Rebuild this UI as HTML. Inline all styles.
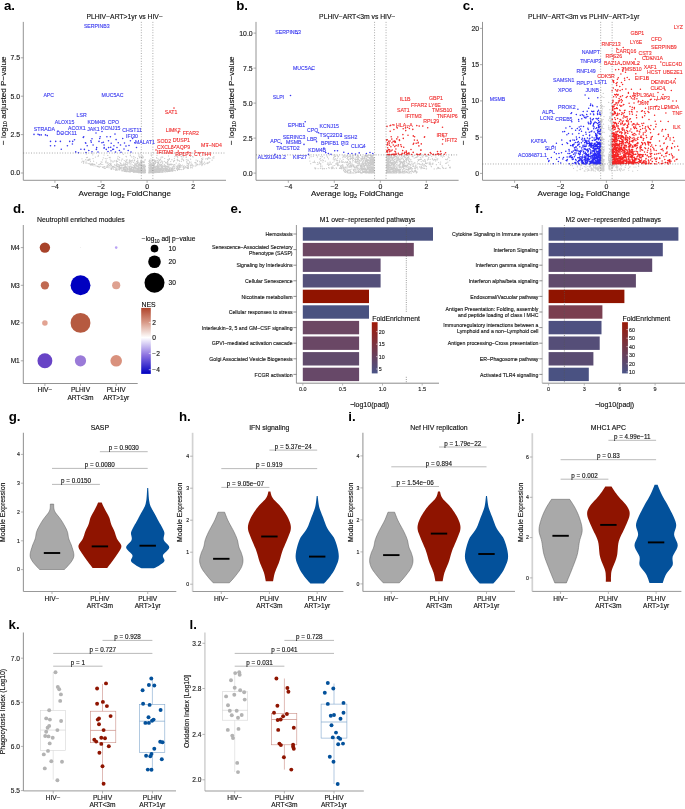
<!DOCTYPE html>
<html><head><meta charset="utf-8"><style>
html,body{margin:0;padding:0;background:#fff;overflow:hidden;}
svg{display:block;will-change:transform;}
text{font-family:"Liberation Sans", sans-serif;}
</style></head><body>
<svg width="685" height="809" viewBox="0 0 685 809">
<rect width="685" height="809" fill="#fff"/>
<text x="8.70" y="420.70" font-size="13.3" text-anchor="start" fill="#000" font-weight="bold" >g.</text>
<line x1="23.40" y1="432.80" x2="23.40" y2="591.50" stroke="#999" stroke-width="1.1" />
<line x1="23.40" y1="591.50" x2="176.30" y2="591.50" stroke="#999" stroke-width="1.0" />
<line x1="20.90" y1="569.60" x2="23.40" y2="569.60" stroke="#999" stroke-width="0.7" />
<text x="19.90" y="571.40" font-size="5.2" text-anchor="end" fill="#222" font-weight="normal"  stroke="#222" stroke-width="0.14">0</text>
<line x1="20.90" y1="540.80" x2="23.40" y2="540.80" stroke="#999" stroke-width="0.7" />
<text x="19.90" y="542.60" font-size="5.2" text-anchor="end" fill="#222" font-weight="normal"  stroke="#222" stroke-width="0.14">1</text>
<line x1="20.90" y1="512.00" x2="23.40" y2="512.00" stroke="#999" stroke-width="0.7" />
<text x="19.90" y="513.80" font-size="5.2" text-anchor="end" fill="#222" font-weight="normal"  stroke="#222" stroke-width="0.14">2</text>
<line x1="20.90" y1="483.20" x2="23.40" y2="483.20" stroke="#999" stroke-width="0.7" />
<text x="19.90" y="485.00" font-size="5.2" text-anchor="end" fill="#222" font-weight="normal"  stroke="#222" stroke-width="0.14">3</text>
<line x1="20.90" y1="454.40" x2="23.40" y2="454.40" stroke="#999" stroke-width="0.7" />
<text x="19.90" y="456.20" font-size="5.2" text-anchor="end" fill="#222" font-weight="normal"  stroke="#222" stroke-width="0.14">4</text>
<line x1="52.00" y1="591.50" x2="52.00" y2="594.00" stroke="#999" stroke-width="0.7" />
<line x1="99.90" y1="591.50" x2="99.90" y2="594.00" stroke="#999" stroke-width="0.7" />
<line x1="147.70" y1="591.50" x2="147.70" y2="594.00" stroke="#999" stroke-width="0.7" />
<text x="52.00" y="600.50" font-size="6.6" text-anchor="middle" fill="#111" font-weight="normal"  stroke="#111" stroke-width="0.14">HIV−</text>
<text x="99.90" y="601.00" font-size="6.6" text-anchor="middle" fill="#111" font-weight="normal"  stroke="#111" stroke-width="0.14">PLHIV</text>
<text x="99.90" y="608.30" font-size="6.6" text-anchor="middle" fill="#111" font-weight="normal"  stroke="#111" stroke-width="0.14">ART&lt;3m</text>
<text x="147.70" y="601.00" font-size="6.6" text-anchor="middle" fill="#111" font-weight="normal"  stroke="#111" stroke-width="0.14">PLHIV</text>
<text x="147.70" y="608.30" font-size="6.6" text-anchor="middle" fill="#111" font-weight="normal"  stroke="#111" stroke-width="0.14">ART&gt;1yr</text>
<text x="0" y="0" font-size="7" text-anchor="middle" fill="#111" stroke="#111" stroke-width="0.14" transform="translate(5.20,512.3) rotate(-90)">Module Expression</text>
<text x="99.85" y="430.00" font-size="6.9" text-anchor="middle" fill="#111" font-weight="normal"  stroke="#111" stroke-width="0.14">SASP</text>
<line x1="52.00" y1="484.40" x2="99.90" y2="484.40" stroke="#808080" stroke-width="0.55" />
<text x="75.95" y="483.10" font-size="6.3" text-anchor="middle" fill="#111" font-weight="normal"  stroke="#111" stroke-width="0.14">p = 0.0150</text>
<line x1="52.00" y1="468.40" x2="147.70" y2="468.40" stroke="#808080" stroke-width="0.55" />
<text x="99.85" y="467.10" font-size="6.3" text-anchor="middle" fill="#111" font-weight="normal"  stroke="#111" stroke-width="0.14">p = 0.0080</text>
<line x1="99.90" y1="451.70" x2="147.70" y2="451.70" stroke="#808080" stroke-width="0.55" />
<text x="123.80" y="450.40" font-size="6.3" text-anchor="middle" fill="#111" font-weight="normal"  stroke="#111" stroke-width="0.14">p = 0.9030</text>
<path d="M53.70,504.10 L53.71,504.58 L53.70,505.26 L53.71,506.05 L53.73,506.90 L53.79,507.74 L53.90,508.50 L54.04,509.17 L54.19,509.79 L54.37,510.41 L54.62,511.04 L54.96,511.73 L55.40,512.50 L56.00,513.37 L56.74,514.33 L57.56,515.34 L58.42,516.37 L59.25,517.40 L60.00,518.40 L60.67,519.36 L61.30,520.29 L61.91,521.21 L62.51,522.16 L63.10,523.15 L63.70,524.20 L64.33,525.33 L64.99,526.52 L65.64,527.76 L66.26,529.01 L66.82,530.27 L67.30,531.50 L67.66,532.72 L67.90,533.93 L68.09,535.15 L68.27,536.37 L68.49,537.58 L68.80,538.80 L69.21,540.00 L69.69,541.18 L70.21,542.36 L70.73,543.56 L71.24,544.80 L71.70,546.10 L72.15,547.51 L72.64,549.03 L73.10,550.59 L73.50,552.13 L73.78,553.59 L73.90,554.90 L73.85,556.04 L73.67,557.06 L73.38,557.99 L72.99,558.88 L72.53,559.77 L72.00,560.70 L71.36,561.70 L70.57,562.74 L69.71,563.78 L68.84,564.77 L68.01,565.70 L67.30,566.50 L66.68,567.20 L66.09,567.82 L65.56,568.36 L65.09,568.83 L64.69,569.21 L64.40,569.50 L39.60,569.50 L39.31,569.21 L38.91,568.83 L38.44,568.36 L37.91,567.82 L37.32,567.20 L36.70,566.50 L35.99,565.70 L35.16,564.77 L34.29,563.77 L33.43,562.74 L32.64,561.70 L32.00,560.70 L31.47,559.77 L31.01,558.88 L30.62,557.99 L30.33,557.06 L30.15,556.04 L30.10,554.90 L30.22,553.59 L30.50,552.13 L30.90,550.59 L31.36,549.03 L31.85,547.51 L32.30,546.10 L32.76,544.80 L33.27,543.56 L33.79,542.36 L34.31,541.18 L34.79,540.00 L35.20,538.80 L35.51,537.58 L35.73,536.37 L35.91,535.15 L36.10,533.93 L36.34,532.72 L36.70,531.50 L37.18,530.27 L37.74,529.01 L38.36,527.76 L39.01,526.52 L39.67,525.33 L40.30,524.20 L40.90,523.15 L41.49,522.16 L42.09,521.21 L42.70,520.29 L43.33,519.36 L44.00,518.40 L44.75,517.40 L45.58,516.37 L46.44,515.34 L47.26,514.33 L48.00,513.37 L48.60,512.50 L49.04,511.73 L49.38,511.04 L49.62,510.41 L49.81,509.79 L49.96,509.17 L50.10,508.50 L50.21,507.74 L50.27,506.90 L50.29,506.05 L50.30,505.26 L50.29,504.58 L50.30,504.10 Z" fill="#a9a9a9" stroke="#5a5a5a" stroke-width="0.5"/>
<path d="M101.70,502.60 L102.05,503.36 L102.53,504.40 L103.10,505.64 L103.73,506.99 L104.37,508.33 L105.00,509.60 L105.65,510.80 L106.35,512.01 L107.07,513.23 L107.77,514.46 L108.43,515.68 L109.00,516.90 L109.46,518.12 L109.83,519.33 L110.14,520.55 L110.45,521.77 L110.79,522.98 L111.20,524.20 L111.70,525.42 L112.25,526.63 L112.83,527.85 L113.42,529.07 L113.98,530.28 L114.50,531.50 L114.94,532.72 L115.32,533.93 L115.68,535.15 L116.06,536.37 L116.48,537.58 L117.00,538.80 L117.72,540.02 L118.62,541.23 L119.58,542.45 L120.46,543.67 L121.11,544.88 L121.40,546.10 L121.28,547.32 L120.85,548.53 L120.19,549.75 L119.41,550.97 L118.58,552.18 L117.80,553.40 L117.04,554.62 L116.23,555.83 L115.37,557.05 L114.49,558.27 L113.59,559.48 L112.70,560.70 L111.74,562.00 L110.69,563.40 L109.63,564.81 L108.64,566.11 L107.80,567.21 L107.20,568.00 L92.60,568.00 L92.00,567.21 L91.16,566.11 L90.17,564.81 L89.11,563.40 L88.06,562.00 L87.10,560.70 L86.21,559.48 L85.31,558.27 L84.43,557.05 L83.57,555.83 L82.76,554.62 L82.00,553.40 L81.22,552.18 L80.39,550.97 L79.61,549.75 L78.95,548.53 L78.52,547.32 L78.40,546.10 L78.69,544.88 L79.34,543.67 L80.22,542.45 L81.18,541.23 L82.08,540.02 L82.80,538.80 L83.32,537.58 L83.74,536.37 L84.12,535.15 L84.48,533.93 L84.86,532.72 L85.30,531.50 L85.82,530.28 L86.38,529.07 L86.97,527.85 L87.55,526.63 L88.10,525.42 L88.60,524.20 L89.01,522.98 L89.35,521.77 L89.66,520.55 L89.97,519.33 L90.34,518.12 L90.80,516.90 L91.37,515.68 L92.03,514.46 L92.73,513.23 L93.45,512.01 L94.15,510.80 L94.80,509.60 L95.43,508.33 L96.07,506.99 L96.70,505.64 L97.27,504.40 L97.75,503.36 L98.10,502.60 Z" fill="#8f1400" stroke="none" stroke-width="0.5"/>
<path d="M148.20,488.00 L148.26,489.10 L148.35,490.66 L148.46,492.49 L148.57,494.39 L148.69,496.16 L148.80,497.60 L148.91,498.71 L149.02,499.64 L149.13,500.44 L149.25,501.16 L149.37,501.83 L149.50,502.50 L149.63,503.14 L149.75,503.71 L149.88,504.23 L150.03,504.74 L150.20,505.25 L150.40,505.80 L150.65,506.38 L150.93,506.98 L151.23,507.59 L151.55,508.20 L151.88,508.80 L152.20,509.40 L152.52,509.99 L152.86,510.57 L153.19,511.16 L153.53,511.74 L153.87,512.32 L154.20,512.90 L154.52,513.48 L154.84,514.07 L155.16,514.65 L155.48,515.23 L155.79,515.82 L156.10,516.40 L156.40,516.98 L156.70,517.56 L156.99,518.14 L157.29,518.73 L157.59,519.31 L157.90,519.90 L158.22,520.50 L158.55,521.10 L158.89,521.70 L159.23,522.30 L159.56,522.90 L159.90,523.50 L160.23,524.06 L160.55,524.59 L160.87,525.11 L161.20,525.67 L161.54,526.28 L161.90,527.00 L162.32,527.82 L162.81,528.71 L163.31,529.68 L163.78,530.69 L164.16,531.73 L164.40,532.80 L164.41,533.90 L164.20,535.05 L163.91,536.24 L163.66,537.45 L163.58,538.67 L163.80,539.90 L164.50,541.14 L165.62,542.40 L166.91,543.67 L168.11,544.95 L169.00,546.23 L169.30,547.50 L168.84,548.79 L167.79,550.10 L166.41,551.41 L164.97,552.69 L163.74,553.93 L163.00,555.10 L162.87,556.20 L163.15,557.24 L163.65,558.23 L164.16,559.19 L164.48,560.11 L164.40,561.00 L163.88,561.88 L163.06,562.73 L162.05,563.56 L160.95,564.33 L159.87,565.05 L158.90,565.70 L157.98,566.28 L157.01,566.82 L156.06,567.29 L155.18,567.70 L154.44,568.04 L153.90,568.30 L141.50,568.30 L140.96,568.04 L140.22,567.70 L139.34,567.29 L138.39,566.82 L137.42,566.28 L136.50,565.70 L135.53,565.05 L134.45,564.33 L133.35,563.56 L132.34,562.73 L131.52,561.88 L131.00,561.00 L130.92,560.11 L131.24,559.19 L131.75,558.23 L132.25,557.24 L132.53,556.20 L132.40,555.10 L131.66,553.93 L130.43,552.69 L128.99,551.41 L127.61,550.10 L126.56,548.79 L126.10,547.50 L126.40,546.23 L127.29,544.95 L128.49,543.67 L129.78,542.40 L130.90,541.14 L131.60,539.90 L131.82,538.67 L131.74,537.45 L131.49,536.24 L131.20,535.05 L130.99,533.90 L131.00,532.80 L131.24,531.73 L131.62,530.69 L132.09,529.67 L132.59,528.71 L133.08,527.82 L133.50,527.00 L133.86,526.28 L134.20,525.67 L134.53,525.11 L134.85,524.59 L135.17,524.06 L135.50,523.50 L135.84,522.90 L136.17,522.30 L136.51,521.70 L136.85,521.10 L137.18,520.50 L137.50,519.90 L137.81,519.31 L138.11,518.73 L138.41,518.14 L138.70,517.56 L139.00,516.98 L139.30,516.40 L139.61,515.82 L139.92,515.23 L140.24,514.65 L140.56,514.07 L140.88,513.48 L141.20,512.90 L141.53,512.32 L141.87,511.74 L142.21,511.16 L142.54,510.57 L142.88,509.99 L143.20,509.40 L143.52,508.80 L143.85,508.20 L144.17,507.59 L144.47,506.98 L144.75,506.38 L145.00,505.80 L145.20,505.25 L145.37,504.74 L145.52,504.23 L145.65,503.71 L145.77,503.14 L145.90,502.50 L146.03,501.83 L146.15,501.16 L146.27,500.44 L146.38,499.64 L146.49,498.71 L146.60,497.60 L146.71,496.16 L146.83,494.39 L146.94,492.49 L147.05,490.66 L147.14,489.10 L147.20,488.00 Z" fill="#03519b" stroke="none" stroke-width="0.5"/>
<line x1="43.80" y1="553.00" x2="60.20" y2="553.00" stroke="#000" stroke-width="1.9" />
<line x1="91.70" y1="546.40" x2="108.10" y2="546.40" stroke="#000" stroke-width="1.9" />
<line x1="139.50" y1="545.70" x2="155.90" y2="545.70" stroke="#000" stroke-width="1.9" />
<text x="179.00" y="420.70" font-size="13.3" text-anchor="start" fill="#000" font-weight="bold" >h.</text>
<line x1="192.60" y1="432.80" x2="192.60" y2="591.50" stroke="#d2d2d2" stroke-width="1.7" />
<line x1="192.60" y1="591.50" x2="343.40" y2="591.50" stroke="#999" stroke-width="1.0" />
<line x1="190.10" y1="584.20" x2="192.60" y2="584.20" stroke="#999" stroke-width="0.7" />
<text x="189.10" y="586.00" font-size="5.2" text-anchor="end" fill="#222" font-weight="normal"  stroke="#222" stroke-width="0.14">0</text>
<line x1="190.10" y1="552.20" x2="192.60" y2="552.20" stroke="#999" stroke-width="0.7" />
<text x="189.10" y="554.00" font-size="5.2" text-anchor="end" fill="#222" font-weight="normal"  stroke="#222" stroke-width="0.14">1</text>
<line x1="190.10" y1="520.20" x2="192.60" y2="520.20" stroke="#999" stroke-width="0.7" />
<text x="189.10" y="522.00" font-size="5.2" text-anchor="end" fill="#222" font-weight="normal"  stroke="#222" stroke-width="0.14">2</text>
<line x1="190.10" y1="488.20" x2="192.60" y2="488.20" stroke="#999" stroke-width="0.7" />
<text x="189.10" y="490.00" font-size="5.2" text-anchor="end" fill="#222" font-weight="normal"  stroke="#222" stroke-width="0.14">3</text>
<line x1="190.10" y1="456.20" x2="192.60" y2="456.20" stroke="#999" stroke-width="0.7" />
<text x="189.10" y="458.00" font-size="5.2" text-anchor="end" fill="#222" font-weight="normal"  stroke="#222" stroke-width="0.14">4</text>
<line x1="221.30" y1="591.50" x2="221.30" y2="594.00" stroke="#999" stroke-width="0.7" />
<line x1="269.40" y1="591.50" x2="269.40" y2="594.00" stroke="#999" stroke-width="0.7" />
<line x1="317.20" y1="591.50" x2="317.20" y2="594.00" stroke="#999" stroke-width="0.7" />
<text x="221.30" y="600.50" font-size="6.6" text-anchor="middle" fill="#111" font-weight="normal"  stroke="#111" stroke-width="0.14">HIV−</text>
<text x="269.40" y="601.00" font-size="6.6" text-anchor="middle" fill="#111" font-weight="normal"  stroke="#111" stroke-width="0.14">PLHIV</text>
<text x="269.40" y="608.30" font-size="6.6" text-anchor="middle" fill="#111" font-weight="normal"  stroke="#111" stroke-width="0.14">ART&lt;3m</text>
<text x="317.20" y="601.00" font-size="6.6" text-anchor="middle" fill="#111" font-weight="normal"  stroke="#111" stroke-width="0.14">PLHIV</text>
<text x="317.20" y="608.30" font-size="6.6" text-anchor="middle" fill="#111" font-weight="normal"  stroke="#111" stroke-width="0.14">ART&gt;1yr</text>
<text x="0" y="0" font-size="7" text-anchor="middle" fill="#111" stroke="#111" stroke-width="0.14" transform="translate(182.10,512.3) rotate(-90)">Module Expression</text>
<text x="269.25" y="430.00" font-size="6.9" text-anchor="middle" fill="#111" font-weight="normal"  stroke="#111" stroke-width="0.14">IFN signaling</text>
<line x1="221.30" y1="487.40" x2="269.40" y2="487.40" stroke="#808080" stroke-width="0.55" />
<text x="245.35" y="486.10" font-size="6.3" text-anchor="middle" fill="#111" font-weight="normal"  stroke="#111" stroke-width="0.14">p = 9.05e−07</text>
<line x1="221.30" y1="468.60" x2="317.20" y2="468.60" stroke="#808080" stroke-width="0.55" />
<text x="269.25" y="467.30" font-size="6.3" text-anchor="middle" fill="#111" font-weight="normal"  stroke="#111" stroke-width="0.14">p = 0.919</text>
<line x1="269.40" y1="450.10" x2="317.20" y2="450.10" stroke="#808080" stroke-width="0.55" />
<text x="293.30" y="448.80" font-size="6.3" text-anchor="middle" fill="#111" font-weight="normal"  stroke="#111" stroke-width="0.14">p = 5.37e−24</text>
<path d="M224.60,512.20 L224.96,513.11 L225.43,514.36 L226.00,515.84 L226.65,517.47 L227.35,519.16 L228.10,520.80 L228.93,522.46 L229.89,524.24 L230.89,526.06 L231.90,527.89 L232.86,529.65 L233.70,531.30 L234.44,532.83 L235.12,534.29 L235.75,535.69 L236.32,537.05 L236.84,538.38 L237.30,539.70 L237.67,541.00 L237.94,542.28 L238.16,543.53 L238.37,544.75 L238.60,545.94 L238.90,547.10 L239.29,548.20 L239.73,549.24 L240.21,550.26 L240.68,551.27 L241.12,552.30 L241.50,553.40 L241.85,554.56 L242.21,555.76 L242.54,556.98 L242.80,558.22 L242.97,559.47 L243.00,560.70 L242.92,561.92 L242.74,563.12 L242.47,564.33 L242.09,565.56 L241.61,566.81 L241.00,568.10 L240.23,569.47 L239.28,570.90 L238.22,572.37 L237.12,573.82 L236.02,575.21 L235.00,576.50 L233.98,577.74 L232.90,578.99 L231.82,580.17 L230.84,581.24 L230.00,582.14 L229.40,582.80 L213.20,582.80 L212.60,582.14 L211.76,581.24 L210.78,580.17 L209.70,578.99 L208.62,577.74 L207.60,576.50 L206.58,575.21 L205.48,573.82 L204.38,572.37 L203.32,570.90 L202.37,569.47 L201.60,568.10 L200.99,566.81 L200.51,565.56 L200.13,564.33 L199.86,563.12 L199.68,561.92 L199.60,560.70 L199.63,559.47 L199.80,558.22 L200.06,556.98 L200.39,555.76 L200.75,554.56 L201.10,553.40 L201.48,552.30 L201.92,551.27 L202.39,550.26 L202.87,549.24 L203.31,548.20 L203.70,547.10 L204.00,545.94 L204.23,544.75 L204.44,543.53 L204.66,542.28 L204.93,541.00 L205.30,539.70 L205.76,538.38 L206.28,537.05 L206.85,535.69 L207.48,534.29 L208.16,532.83 L208.90,531.30 L209.74,529.65 L210.70,527.89 L211.71,526.06 L212.71,524.24 L213.67,522.46 L214.50,520.80 L215.25,519.16 L215.95,517.47 L216.60,515.84 L217.17,514.36 L217.64,513.11 L218.00,512.20 Z" fill="#a9a9a9" stroke="#5a5a5a" stroke-width="0.5"/>
<path d="M270.40,491.60 L270.58,492.28 L270.78,493.20 L271.04,494.30 L271.41,495.52 L271.95,496.81 L272.70,498.10 L273.74,499.41 L275.04,500.79 L276.50,502.23 L278.03,503.73 L279.53,505.29 L280.90,506.90 L282.20,508.61 L283.50,510.41 L284.78,512.28 L285.99,514.16 L287.07,516.02 L288.00,517.80 L288.79,519.51 L289.49,521.17 L290.07,522.81 L290.52,524.44 L290.80,526.06 L290.90,527.70 L290.78,529.31 L290.46,530.88 L289.97,532.45 L289.37,534.06 L288.70,535.76 L288.00,537.60 L287.21,539.62 L286.27,541.81 L285.27,544.09 L284.26,546.38 L283.31,548.61 L282.50,550.70 L281.85,552.64 L281.31,554.49 L280.83,556.28 L280.37,558.04 L279.88,559.80 L279.30,561.60 L278.61,563.45 L277.83,565.34 L277.02,567.24 L276.23,569.10 L275.50,570.90 L274.90,572.60 L274.42,574.28 L274.01,575.99 L273.67,577.64 L273.40,579.13 L273.18,580.38 L273.00,581.30 L265.80,581.30 L265.62,580.38 L265.40,579.13 L265.12,577.64 L264.79,575.99 L264.38,574.28 L263.90,572.60 L263.30,570.90 L262.57,569.10 L261.78,567.24 L260.97,565.34 L260.19,563.45 L259.50,561.60 L258.92,559.80 L258.43,558.04 L257.97,556.28 L257.49,554.49 L256.95,552.64 L256.30,550.70 L255.49,548.61 L254.54,546.38 L253.53,544.09 L252.53,541.81 L251.59,539.62 L250.80,537.60 L250.10,535.76 L249.43,534.06 L248.82,532.45 L248.34,530.88 L248.02,529.31 L247.90,527.70 L248.00,526.06 L248.28,524.44 L248.72,522.81 L249.31,521.17 L250.01,519.51 L250.80,517.80 L251.73,516.02 L252.81,514.16 L254.02,512.28 L255.30,510.41 L256.60,508.61 L257.90,506.90 L259.27,505.29 L260.77,503.73 L262.30,502.23 L263.76,500.79 L265.06,499.41 L266.10,498.10 L266.85,496.81 L267.39,495.52 L267.76,494.30 L268.02,493.20 L268.22,492.28 L268.40,491.60 Z" fill="#8f1400" stroke="none" stroke-width="0.5"/>
<path d="M317.70,496.00 L317.83,497.19 L318.00,498.83 L318.20,500.77 L318.46,502.86 L318.79,504.96 L319.20,506.90 L319.72,508.72 L320.33,510.53 L321.02,512.34 L321.74,514.16 L322.48,515.98 L323.20,517.80 L323.88,519.63 L324.53,521.46 L325.19,523.30 L325.90,525.14 L326.69,526.97 L327.60,528.80 L328.69,530.56 L329.94,532.23 L331.28,533.91 L332.61,535.66 L333.85,537.56 L334.90,539.70 L335.83,542.18 L336.73,544.95 L337.53,547.88 L338.18,550.83 L338.62,553.65 L338.80,556.20 L338.66,558.50 L338.23,560.65 L337.59,562.68 L336.82,564.60 L336.00,566.44 L335.20,568.20 L334.40,569.88 L333.51,571.46 L332.58,572.94 L331.62,574.36 L330.65,575.70 L329.70,577.00 L328.70,578.29 L327.60,579.58 L326.51,580.80 L325.49,581.90 L324.62,582.82 L324.00,583.50 L310.40,583.50 L309.78,582.82 L308.91,581.90 L307.89,580.80 L306.80,579.58 L305.70,578.29 L304.70,577.00 L303.75,575.70 L302.78,574.36 L301.82,572.94 L300.89,571.46 L300.00,569.88 L299.20,568.20 L298.40,566.44 L297.58,564.60 L296.81,562.68 L296.17,560.65 L295.74,558.50 L295.60,556.20 L295.78,553.65 L296.22,550.83 L296.87,547.88 L297.67,544.95 L298.57,542.18 L299.50,539.70 L300.55,537.56 L301.79,535.66 L303.12,533.91 L304.46,532.23 L305.71,530.56 L306.80,528.80 L307.71,526.97 L308.50,525.14 L309.21,523.30 L309.87,521.46 L310.52,519.63 L311.20,517.80 L311.92,515.98 L312.66,514.16 L313.38,512.34 L314.07,510.53 L314.68,508.72 L315.20,506.90 L315.61,504.96 L315.94,502.86 L316.20,500.77 L316.40,498.83 L316.57,497.19 L316.70,496.00 Z" fill="#03519b" stroke="none" stroke-width="0.5"/>
<line x1="213.10" y1="558.80" x2="229.50" y2="558.80" stroke="#000" stroke-width="1.9" />
<line x1="261.20" y1="536.50" x2="277.60" y2="536.50" stroke="#000" stroke-width="1.9" />
<line x1="309.00" y1="556.60" x2="325.40" y2="556.60" stroke="#000" stroke-width="1.9" />
<text x="348.30" y="420.70" font-size="13.3" text-anchor="start" fill="#000" font-weight="bold" >i.</text>
<line x1="362.90" y1="432.80" x2="362.90" y2="591.40" stroke="#999" stroke-width="1.1" />
<line x1="362.90" y1="591.40" x2="515.00" y2="591.40" stroke="#999" stroke-width="1.0" />
<line x1="360.40" y1="583.90" x2="362.90" y2="583.90" stroke="#999" stroke-width="0.7" />
<text x="359.40" y="585.70" font-size="5.2" text-anchor="end" fill="#222" font-weight="normal"  stroke="#222" stroke-width="0.14">0</text>
<line x1="360.40" y1="551.90" x2="362.90" y2="551.90" stroke="#999" stroke-width="0.7" />
<text x="359.40" y="553.70" font-size="5.2" text-anchor="end" fill="#222" font-weight="normal"  stroke="#222" stroke-width="0.14">1</text>
<line x1="360.40" y1="519.90" x2="362.90" y2="519.90" stroke="#999" stroke-width="0.7" />
<text x="359.40" y="521.70" font-size="5.2" text-anchor="end" fill="#222" font-weight="normal"  stroke="#222" stroke-width="0.14">2</text>
<line x1="360.40" y1="487.90" x2="362.90" y2="487.90" stroke="#999" stroke-width="0.7" />
<text x="359.40" y="489.70" font-size="5.2" text-anchor="end" fill="#222" font-weight="normal"  stroke="#222" stroke-width="0.14">3</text>
<line x1="360.40" y1="455.90" x2="362.90" y2="455.90" stroke="#999" stroke-width="0.7" />
<text x="359.40" y="457.70" font-size="5.2" text-anchor="end" fill="#222" font-weight="normal"  stroke="#222" stroke-width="0.14">4</text>
<line x1="391.30" y1="591.40" x2="391.30" y2="593.90" stroke="#999" stroke-width="0.7" />
<line x1="439.00" y1="591.40" x2="439.00" y2="593.90" stroke="#999" stroke-width="0.7" />
<line x1="486.50" y1="591.40" x2="486.50" y2="593.90" stroke="#999" stroke-width="0.7" />
<text x="391.30" y="600.50" font-size="6.6" text-anchor="middle" fill="#111" font-weight="normal"  stroke="#111" stroke-width="0.14">HIV−</text>
<text x="439.00" y="601.00" font-size="6.6" text-anchor="middle" fill="#111" font-weight="normal"  stroke="#111" stroke-width="0.14">PLHIV</text>
<text x="439.00" y="608.30" font-size="6.6" text-anchor="middle" fill="#111" font-weight="normal"  stroke="#111" stroke-width="0.14">ART&lt;3m</text>
<text x="486.50" y="601.00" font-size="6.6" text-anchor="middle" fill="#111" font-weight="normal"  stroke="#111" stroke-width="0.14">PLHIV</text>
<text x="486.50" y="608.30" font-size="6.6" text-anchor="middle" fill="#111" font-weight="normal"  stroke="#111" stroke-width="0.14">ART&gt;1yr</text>
<text x="0" y="0" font-size="7" text-anchor="middle" fill="#111" stroke="#111" stroke-width="0.14" transform="translate(353.00,512.3) rotate(-90)">Module Expression</text>
<text x="438.90" y="430.00" font-size="6.9" text-anchor="middle" fill="#111" font-weight="normal"  stroke="#111" stroke-width="0.14">Nef HIV replication</text>
<line x1="391.30" y1="486.50" x2="439.00" y2="486.50" stroke="#808080" stroke-width="0.55" />
<text x="415.15" y="485.20" font-size="6.3" text-anchor="middle" fill="#111" font-weight="normal"  stroke="#111" stroke-width="0.14">p = 1.54e−06</text>
<line x1="391.30" y1="466.80" x2="486.50" y2="466.80" stroke="#808080" stroke-width="0.55" />
<text x="438.90" y="465.50" font-size="6.3" text-anchor="middle" fill="#111" font-weight="normal"  stroke="#111" stroke-width="0.14">p = 0.894</text>
<line x1="439.00" y1="447.00" x2="486.50" y2="447.00" stroke="#808080" stroke-width="0.55" />
<text x="462.75" y="445.70" font-size="6.3" text-anchor="middle" fill="#111" font-weight="normal"  stroke="#111" stroke-width="0.14">p = 1.79e−22</text>
<path d="M394.60,512.20 L394.96,513.11 L395.43,514.36 L396.00,515.84 L396.65,517.47 L397.35,519.16 L398.10,520.80 L398.93,522.46 L399.89,524.24 L400.89,526.06 L401.90,527.89 L402.86,529.65 L403.70,531.30 L404.44,532.83 L405.12,534.29 L405.75,535.69 L406.32,537.05 L406.84,538.38 L407.30,539.70 L407.67,541.00 L407.94,542.28 L408.16,543.53 L408.37,544.75 L408.60,545.94 L408.90,547.10 L409.29,548.20 L409.73,549.24 L410.21,550.26 L410.68,551.27 L411.12,552.30 L411.50,553.40 L411.85,554.56 L412.21,555.76 L412.54,556.98 L412.80,558.22 L412.97,559.47 L413.00,560.70 L412.92,561.92 L412.74,563.12 L412.47,564.33 L412.09,565.56 L411.61,566.81 L411.00,568.10 L410.23,569.47 L409.28,570.90 L408.22,572.37 L407.12,573.82 L406.02,575.21 L405.00,576.50 L403.98,577.74 L402.90,578.99 L401.83,580.17 L400.84,581.24 L400.00,582.14 L399.40,582.80 L383.20,582.80 L382.60,582.14 L381.76,581.24 L380.78,580.17 L379.70,578.99 L378.62,577.74 L377.60,576.50 L376.58,575.21 L375.48,573.82 L374.38,572.37 L373.32,570.90 L372.37,569.47 L371.60,568.10 L370.99,566.81 L370.51,565.56 L370.13,564.33 L369.86,563.12 L369.68,561.92 L369.60,560.70 L369.63,559.47 L369.80,558.22 L370.06,556.98 L370.39,555.76 L370.75,554.56 L371.10,553.40 L371.48,552.30 L371.92,551.27 L372.39,550.26 L372.87,549.24 L373.31,548.20 L373.70,547.10 L374.00,545.94 L374.23,544.75 L374.44,543.53 L374.66,542.28 L374.93,541.00 L375.30,539.70 L375.76,538.38 L376.28,537.05 L376.85,535.69 L377.48,534.29 L378.16,532.83 L378.90,531.30 L379.74,529.65 L380.70,527.89 L381.71,526.06 L382.71,524.24 L383.67,522.46 L384.50,520.80 L385.25,519.16 L385.95,517.47 L386.60,515.84 L387.17,514.36 L387.64,513.11 L388.00,512.20 Z" fill="#a9a9a9" stroke="#5a5a5a" stroke-width="0.5"/>
<path d="M440.00,491.60 L440.18,492.28 L440.38,493.20 L440.64,494.30 L441.01,495.52 L441.55,496.81 L442.30,498.10 L443.34,499.41 L444.64,500.79 L446.10,502.23 L447.63,503.73 L449.13,505.29 L450.50,506.90 L451.80,508.61 L453.10,510.41 L454.38,512.28 L455.59,514.16 L456.67,516.02 L457.60,517.80 L458.39,519.51 L459.09,521.17 L459.68,522.81 L460.12,524.44 L460.40,526.06 L460.50,527.70 L460.38,529.31 L460.06,530.88 L459.57,532.45 L458.97,534.06 L458.30,535.76 L457.60,537.60 L456.81,539.62 L455.87,541.81 L454.87,544.09 L453.86,546.38 L452.91,548.61 L452.10,550.70 L451.45,552.64 L450.91,554.49 L450.43,556.28 L449.97,558.04 L449.48,559.80 L448.90,561.60 L448.21,563.45 L447.43,565.34 L446.62,567.24 L445.83,569.10 L445.10,570.90 L444.50,572.60 L444.02,574.28 L443.61,575.99 L443.27,577.64 L443.00,579.13 L442.78,580.38 L442.60,581.30 L435.40,581.30 L435.22,580.38 L435.00,579.13 L434.72,577.64 L434.39,575.99 L433.98,574.28 L433.50,572.60 L432.90,570.90 L432.17,569.10 L431.38,567.24 L430.57,565.34 L429.79,563.45 L429.10,561.60 L428.52,559.80 L428.03,558.04 L427.57,556.28 L427.09,554.49 L426.55,552.64 L425.90,550.70 L425.09,548.61 L424.14,546.38 L423.13,544.09 L422.13,541.81 L421.19,539.62 L420.40,537.60 L419.70,535.76 L419.03,534.06 L418.42,532.45 L417.94,530.88 L417.62,529.31 L417.50,527.70 L417.60,526.06 L417.88,524.44 L418.32,522.81 L418.91,521.17 L419.61,519.51 L420.40,517.80 L421.33,516.02 L422.41,514.16 L423.62,512.28 L424.90,510.41 L426.20,508.61 L427.50,506.90 L428.87,505.29 L430.37,503.73 L431.90,502.23 L433.36,500.79 L434.66,499.41 L435.70,498.10 L436.45,496.81 L436.99,495.52 L437.36,494.30 L437.62,493.20 L437.82,492.28 L438.00,491.60 Z" fill="#8f1400" stroke="none" stroke-width="0.5"/>
<path d="M487.00,496.00 L487.13,497.19 L487.30,498.83 L487.50,500.77 L487.76,502.86 L488.09,504.96 L488.50,506.90 L489.02,508.72 L489.63,510.53 L490.32,512.34 L491.04,514.16 L491.78,515.98 L492.50,517.80 L493.18,519.63 L493.83,521.46 L494.49,523.30 L495.20,525.14 L495.99,526.97 L496.90,528.80 L497.99,530.56 L499.24,532.23 L500.58,533.91 L501.91,535.66 L503.15,537.56 L504.20,539.70 L505.13,542.18 L506.03,544.95 L506.83,547.88 L507.48,550.83 L507.92,553.65 L508.10,556.20 L507.96,558.50 L507.53,560.65 L506.89,562.68 L506.12,564.60 L505.30,566.44 L504.50,568.20 L503.70,569.88 L502.81,571.46 L501.88,572.94 L500.92,574.36 L499.95,575.70 L499.00,577.00 L498.00,578.29 L496.90,579.58 L495.81,580.80 L494.79,581.90 L493.92,582.82 L493.30,583.50 L479.70,583.50 L479.08,582.82 L478.21,581.90 L477.19,580.80 L476.10,579.58 L475.00,578.29 L474.00,577.00 L473.05,575.70 L472.08,574.36 L471.12,572.94 L470.19,571.46 L469.30,569.88 L468.50,568.20 L467.70,566.44 L466.88,564.60 L466.11,562.68 L465.47,560.65 L465.04,558.50 L464.90,556.20 L465.08,553.65 L465.52,550.83 L466.17,547.88 L466.97,544.95 L467.87,542.18 L468.80,539.70 L469.85,537.56 L471.09,535.66 L472.42,533.91 L473.76,532.23 L475.01,530.56 L476.10,528.80 L477.01,526.97 L477.80,525.14 L478.51,523.30 L479.17,521.46 L479.82,519.63 L480.50,517.80 L481.22,515.98 L481.96,514.16 L482.68,512.34 L483.37,510.53 L483.98,508.72 L484.50,506.90 L484.91,504.96 L485.24,502.86 L485.50,500.77 L485.70,498.83 L485.87,497.19 L486.00,496.00 Z" fill="#03519b" stroke="none" stroke-width="0.5"/>
<line x1="383.10" y1="555.10" x2="399.50" y2="555.10" stroke="#000" stroke-width="1.9" />
<line x1="430.80" y1="533.60" x2="447.20" y2="533.60" stroke="#000" stroke-width="1.9" />
<line x1="478.30" y1="554.00" x2="494.70" y2="554.00" stroke="#000" stroke-width="1.9" />
<text x="517.30" y="420.70" font-size="13.3" text-anchor="start" fill="#000" font-weight="bold" >j.</text>
<line x1="532.30" y1="433.20" x2="532.30" y2="591.40" stroke="#d2d2d2" stroke-width="1.7" />
<line x1="532.30" y1="591.40" x2="681.40" y2="591.40" stroke="#999" stroke-width="1.0" />
<line x1="529.80" y1="577.90" x2="532.30" y2="577.90" stroke="#999" stroke-width="0.7" />
<text x="528.80" y="579.70" font-size="5.2" text-anchor="end" fill="#222" font-weight="normal"  stroke="#222" stroke-width="0.14">0</text>
<line x1="529.80" y1="537.60" x2="532.30" y2="537.60" stroke="#999" stroke-width="0.7" />
<text x="528.80" y="539.40" font-size="5.2" text-anchor="end" fill="#222" font-weight="normal"  stroke="#222" stroke-width="0.14">2</text>
<line x1="529.80" y1="497.30" x2="532.30" y2="497.30" stroke="#999" stroke-width="0.7" />
<text x="528.80" y="499.10" font-size="5.2" text-anchor="end" fill="#222" font-weight="normal"  stroke="#222" stroke-width="0.14">4</text>
<line x1="529.80" y1="457.00" x2="532.30" y2="457.00" stroke="#999" stroke-width="0.7" />
<text x="528.80" y="458.80" font-size="5.2" text-anchor="end" fill="#222" font-weight="normal"  stroke="#222" stroke-width="0.14">6</text>
<line x1="560.60" y1="591.40" x2="560.60" y2="593.90" stroke="#999" stroke-width="0.7" />
<line x1="608.40" y1="591.40" x2="608.40" y2="593.90" stroke="#999" stroke-width="0.7" />
<line x1="656.10" y1="591.40" x2="656.10" y2="593.90" stroke="#999" stroke-width="0.7" />
<text x="560.60" y="600.50" font-size="6.6" text-anchor="middle" fill="#111" font-weight="normal"  stroke="#111" stroke-width="0.14">HIV−</text>
<text x="608.40" y="601.00" font-size="6.6" text-anchor="middle" fill="#111" font-weight="normal"  stroke="#111" stroke-width="0.14">PLHIV</text>
<text x="608.40" y="608.30" font-size="6.6" text-anchor="middle" fill="#111" font-weight="normal"  stroke="#111" stroke-width="0.14">ART&lt;3m</text>
<text x="656.10" y="601.00" font-size="6.6" text-anchor="middle" fill="#111" font-weight="normal"  stroke="#111" stroke-width="0.14">PLHIV</text>
<text x="656.10" y="608.30" font-size="6.6" text-anchor="middle" fill="#111" font-weight="normal"  stroke="#111" stroke-width="0.14">ART&gt;1yr</text>
<text x="0" y="0" font-size="7" text-anchor="middle" fill="#111" stroke="#111" stroke-width="0.14" transform="translate(522.50,512.3) rotate(-90)">Module Expression</text>
<text x="608.35" y="430.00" font-size="6.9" text-anchor="middle" fill="#111" font-weight="normal"  stroke="#111" stroke-width="0.14">MHC1 APC</text>
<line x1="560.60" y1="479.20" x2="608.40" y2="479.20" stroke="#808080" stroke-width="0.55" />
<text x="584.50" y="477.90" font-size="6.3" text-anchor="middle" fill="#111" font-weight="normal"  stroke="#111" stroke-width="0.14">p = 0.002</text>
<line x1="560.60" y1="459.70" x2="656.10" y2="459.70" stroke="#808080" stroke-width="0.55" />
<text x="608.35" y="458.40" font-size="6.3" text-anchor="middle" fill="#111" font-weight="normal"  stroke="#111" stroke-width="0.14">p = 0.83</text>
<line x1="608.40" y1="440.30" x2="656.10" y2="440.30" stroke="#808080" stroke-width="0.55" />
<text x="632.25" y="439.00" font-size="6.3" text-anchor="middle" fill="#111" font-weight="normal"  stroke="#111" stroke-width="0.14">p = 4.99e−11</text>
<path d="M569.70,499.30 L570.33,500.28 L571.22,501.62 L572.26,503.22 L573.37,504.97 L574.45,506.76 L575.40,508.50 L576.26,510.22 L577.10,512.00 L577.92,513.84 L578.69,515.70 L579.38,517.56 L580.00,519.40 L580.56,521.23 L581.09,523.06 L581.56,524.90 L581.92,526.74 L582.14,528.57 L582.20,530.40 L582.03,532.20 L581.64,533.96 L581.12,535.72 L580.54,537.51 L579.98,539.36 L579.50,541.30 L579.13,543.35 L578.82,545.50 L578.52,547.71 L578.20,549.94 L577.81,552.19 L577.30,554.40 L576.68,556.57 L575.97,558.71 L575.20,560.86 L574.37,563.04 L573.50,565.28 L572.60,567.60 L571.58,570.21 L570.41,573.11 L569.21,576.08 L568.06,578.86 L567.09,581.21 L566.40,582.90 L554.80,582.90 L554.11,581.21 L553.14,578.86 L551.99,576.08 L550.79,573.11 L549.62,570.21 L548.60,567.60 L547.70,565.28 L546.83,563.04 L546.00,560.86 L545.23,558.71 L544.52,556.57 L543.90,554.40 L543.39,552.19 L543.00,549.94 L542.67,547.71 L542.38,545.50 L542.07,543.35 L541.70,541.30 L541.22,539.36 L540.66,537.51 L540.07,535.72 L539.56,533.96 L539.17,532.20 L539.00,530.40 L539.06,528.57 L539.28,526.74 L539.64,524.90 L540.11,523.06 L540.64,521.23 L541.20,519.40 L541.82,517.56 L542.51,515.70 L543.28,513.84 L544.10,512.00 L544.94,510.22 L545.80,508.50 L546.75,506.76 L547.83,504.97 L548.94,503.22 L549.98,501.62 L550.87,500.28 L551.50,499.30 Z" fill="#a9a9a9" stroke="#5a5a5a" stroke-width="0.5"/>
<path d="M611.50,486.60 L612.11,487.52 L612.93,488.77 L613.91,490.26 L615.02,491.91 L616.23,493.62 L617.50,495.30 L618.96,497.03 L620.66,498.88 L622.46,500.80 L624.21,502.72 L625.78,504.57 L627.00,506.30 L627.92,507.83 L628.66,509.20 L629.21,510.51 L629.55,511.85 L629.69,513.32 L629.60,515.00 L629.22,516.94 L628.53,519.07 L627.62,521.33 L626.61,523.64 L625.57,525.95 L624.60,528.20 L623.64,530.36 L622.59,532.49 L621.51,534.62 L620.48,536.77 L619.56,538.99 L618.80,541.30 L618.28,543.75 L617.96,546.31 L617.74,548.94 L617.54,551.57 L617.26,554.15 L616.80,556.60 L616.10,559.00 L615.23,561.40 L614.28,563.75 L613.34,565.97 L612.52,568.01 L611.90,569.80 L611.51,571.28 L611.27,572.50 L611.14,573.53 L611.09,574.46 L611.05,575.35 L611.00,576.30 L610.95,577.34 L610.93,578.41 L610.94,579.46 L610.97,580.41 L610.99,581.21 L611.00,581.80 L605.80,581.80 L605.81,581.21 L605.83,580.41 L605.86,579.46 L605.87,578.41 L605.85,577.34 L605.80,576.30 L605.75,575.35 L605.71,574.46 L605.66,573.53 L605.53,572.50 L605.29,571.28 L604.90,569.80 L604.28,568.01 L603.46,565.97 L602.52,563.75 L601.57,561.40 L600.70,559.00 L600.00,556.60 L599.54,554.15 L599.26,551.57 L599.06,548.94 L598.84,546.31 L598.52,543.75 L598.00,541.30 L597.24,538.99 L596.32,536.77 L595.29,534.62 L594.21,532.49 L593.16,530.36 L592.20,528.20 L591.23,525.95 L590.19,523.64 L589.17,521.33 L588.27,519.07 L587.58,516.94 L587.20,515.00 L587.11,513.32 L587.25,511.85 L587.59,510.51 L588.14,509.20 L588.88,507.83 L589.80,506.30 L591.02,504.57 L592.59,502.72 L594.34,500.80 L596.14,498.88 L597.84,497.03 L599.30,495.30 L600.57,493.62 L601.78,491.91 L602.89,490.26 L603.87,488.77 L604.69,487.52 L605.30,486.60 Z" fill="#8f1400" stroke="none" stroke-width="0.5"/>
<path d="M657.60,484.80 L658.06,485.91 L658.66,487.42 L659.39,489.22 L660.22,491.21 L661.13,493.27 L662.10,495.30 L663.17,497.32 L664.38,499.42 L665.67,501.60 L666.99,503.84 L668.28,506.15 L669.50,508.50 L670.75,510.98 L672.08,513.61 L673.39,516.29 L674.57,518.95 L675.51,521.48 L676.10,523.80 L676.20,525.87 L675.86,527.76 L675.29,529.52 L674.67,531.22 L674.21,532.93 L674.10,534.70 L674.48,536.53 L675.20,538.36 L676.09,540.20 L676.93,542.04 L677.53,543.87 L677.70,545.70 L677.31,547.55 L676.49,549.42 L675.44,551.29 L674.33,553.13 L673.36,554.91 L672.70,556.60 L672.46,558.19 L672.51,559.69 L672.69,561.13 L672.85,562.54 L672.84,563.96 L672.50,565.40 L671.76,566.87 L670.71,568.34 L669.50,569.81 L668.24,571.27 L667.06,572.74 L666.10,574.20 L665.32,575.76 L664.62,577.43 L664.00,579.10 L663.47,580.65 L663.04,581.95 L662.70,582.90 L649.50,582.90 L649.16,581.95 L648.73,580.65 L648.20,579.10 L647.58,577.43 L646.88,575.76 L646.10,574.20 L645.14,572.74 L643.96,571.27 L642.70,569.81 L641.49,568.34 L640.44,566.87 L639.70,565.40 L639.36,563.96 L639.35,562.54 L639.51,561.13 L639.69,559.69 L639.74,558.19 L639.50,556.60 L638.84,554.91 L637.87,553.13 L636.76,551.29 L635.71,549.42 L634.89,547.55 L634.50,545.70 L634.67,543.87 L635.27,542.04 L636.11,540.20 L637.00,538.36 L637.72,536.53 L638.10,534.70 L637.99,532.93 L637.53,531.22 L636.91,529.52 L636.34,527.76 L636.00,525.87 L636.10,523.80 L636.69,521.48 L637.63,518.95 L638.81,516.29 L640.12,513.61 L641.45,510.98 L642.70,508.50 L643.92,506.15 L645.21,503.84 L646.53,501.60 L647.82,499.42 L649.03,497.32 L650.10,495.30 L651.07,493.27 L651.98,491.21 L652.81,489.23 L653.54,487.42 L654.14,485.91 L654.60,484.80 Z" fill="#03519b" stroke="none" stroke-width="0.5"/>
<line x1="552.40" y1="535.80" x2="568.80" y2="535.80" stroke="#000" stroke-width="1.9" />
<line x1="600.20" y1="524.90" x2="616.60" y2="524.90" stroke="#000" stroke-width="1.9" />
<line x1="647.90" y1="542.40" x2="664.30" y2="542.40" stroke="#000" stroke-width="1.9" />
<text x="8.60" y="628.70" font-size="13.3" text-anchor="start" fill="#000" font-weight="bold" >k.</text>
<line x1="23.40" y1="632.60" x2="23.40" y2="790.90" stroke="#999" stroke-width="1.1" />
<line x1="23.40" y1="790.90" x2="176.00" y2="790.90" stroke="#999" stroke-width="1.0" />
<line x1="20.90" y1="790.60" x2="23.40" y2="790.60" stroke="#999" stroke-width="0.7" />
<text x="19.90" y="792.90" font-size="6.6" text-anchor="end" fill="#1a1a1a" font-weight="normal"  stroke="#1a1a1a" stroke-width="0.14">5.5</text>
<line x1="20.90" y1="746.40" x2="23.40" y2="746.40" stroke="#999" stroke-width="0.7" />
<text x="19.90" y="748.70" font-size="6.6" text-anchor="end" fill="#1a1a1a" font-weight="normal"  stroke="#1a1a1a" stroke-width="0.14">6.0</text>
<line x1="20.90" y1="702.30" x2="23.40" y2="702.30" stroke="#999" stroke-width="0.7" />
<text x="19.90" y="704.60" font-size="6.6" text-anchor="end" fill="#1a1a1a" font-weight="normal"  stroke="#1a1a1a" stroke-width="0.14">6.5</text>
<line x1="20.90" y1="658.20" x2="23.40" y2="658.20" stroke="#999" stroke-width="0.7" />
<text x="19.90" y="660.50" font-size="6.6" text-anchor="end" fill="#1a1a1a" font-weight="normal"  stroke="#1a1a1a" stroke-width="0.14">7.0</text>
<line x1="53.20" y1="790.90" x2="53.20" y2="793.40" stroke="#999" stroke-width="0.7" />
<line x1="102.50" y1="790.90" x2="102.50" y2="793.40" stroke="#999" stroke-width="0.7" />
<line x1="152.40" y1="790.90" x2="152.40" y2="793.40" stroke="#999" stroke-width="0.7" />
<text x="53.20" y="800.20" font-size="6.6" text-anchor="middle" fill="#111" font-weight="normal"  stroke="#111" stroke-width="0.14">HIV−</text>
<text x="102.50" y="800.20" font-size="6.6" text-anchor="middle" fill="#111" font-weight="normal"  stroke="#111" stroke-width="0.14">PLHIV</text>
<text x="102.50" y="807.30" font-size="6.6" text-anchor="middle" fill="#111" font-weight="normal"  stroke="#111" stroke-width="0.14">ART&lt;3m</text>
<text x="152.40" y="800.20" font-size="6.6" text-anchor="middle" fill="#111" font-weight="normal"  stroke="#111" stroke-width="0.14">PLHIV</text>
<text x="152.40" y="807.30" font-size="6.6" text-anchor="middle" fill="#111" font-weight="normal"  stroke="#111" stroke-width="0.14">ART&gt;1yr</text>
<text x="0" y="0" font-size="6.9" text-anchor="middle" fill="#111" stroke="#111" stroke-width="0.14" transform="translate(5.40,711.6) rotate(-90)">Phagocytosis Index (Log10)</text>
<line x1="53.20" y1="666.20" x2="102.50" y2="666.20" stroke="#808080" stroke-width="0.55" />
<text x="77.85" y="664.90" font-size="6.3" text-anchor="middle" fill="#111" font-weight="normal"  stroke="#111" stroke-width="0.14">p = 1</text>
<line x1="53.20" y1="653.40" x2="152.40" y2="653.40" stroke="#808080" stroke-width="0.55" />
<text x="102.80" y="652.10" font-size="6.3" text-anchor="middle" fill="#111" font-weight="normal"  stroke="#111" stroke-width="0.14">p = 0.727</text>
<line x1="102.50" y1="640.40" x2="152.40" y2="640.40" stroke="#808080" stroke-width="0.55" />
<text x="127.45" y="639.10" font-size="6.3" text-anchor="middle" fill="#111" font-weight="normal"  stroke="#111" stroke-width="0.14">p = 0.928</text>
<line x1="53.20" y1="672.20" x2="53.20" y2="710.30" stroke="#d6d6d6" stroke-width="0.6" />
<line x1="53.20" y1="750.40" x2="53.20" y2="779.60" stroke="#d6d6d6" stroke-width="0.6" />
<rect x="40.60" y="710.30" width="24.90" height="40.10" fill="none" stroke="#d6d6d6" stroke-width="0.6"/>
<line x1="40.60" y1="730.10" x2="65.50" y2="730.10" stroke="#d6d6d6" stroke-width="0.7" />
<line x1="102.50" y1="683.90" x2="102.50" y2="711.20" stroke="#c98c84" stroke-width="0.6" />
<line x1="102.50" y1="742.70" x2="102.50" y2="783.80" stroke="#c98c84" stroke-width="0.6" />
<rect x="90.50" y="711.20" width="25.30" height="31.50" fill="none" stroke="#c98c84" stroke-width="0.6"/>
<line x1="90.50" y1="730.40" x2="115.80" y2="730.40" stroke="#c98c84" stroke-width="0.7" />
<line x1="152.40" y1="678.00" x2="152.40" y2="704.40" stroke="#7fa6cc" stroke-width="0.6" />
<line x1="152.40" y1="752.30" x2="152.40" y2="770.30" stroke="#7fa6cc" stroke-width="0.6" />
<rect x="139.60" y="704.40" width="25.20" height="47.90" fill="none" stroke="#7fa6cc" stroke-width="0.6"/>
<line x1="139.60" y1="721.20" x2="164.80" y2="721.20" stroke="#7fa6cc" stroke-width="0.7" />
<circle cx="55.50" cy="672.20" r="1.95" fill="#b3b3b3" />
<circle cx="57.80" cy="686.90" r="1.95" fill="#b3b3b3" />
<circle cx="59.20" cy="689.20" r="1.95" fill="#b3b3b3" />
<circle cx="60.90" cy="694.40" r="1.95" fill="#b3b3b3" />
<circle cx="60.20" cy="700.90" r="1.95" fill="#b3b3b3" />
<circle cx="49.20" cy="710.30" r="1.95" fill="#b3b3b3" />
<circle cx="46.20" cy="718.40" r="1.95" fill="#b3b3b3" />
<circle cx="49.90" cy="719.60" r="1.95" fill="#b3b3b3" />
<circle cx="61.10" cy="721.00" r="1.95" fill="#b3b3b3" />
<circle cx="49.20" cy="725.90" r="1.95" fill="#b3b3b3" />
<circle cx="47.60" cy="727.80" r="1.95" fill="#b3b3b3" />
<circle cx="57.40" cy="730.10" r="1.95" fill="#b3b3b3" />
<circle cx="46.20" cy="731.80" r="1.95" fill="#b3b3b3" />
<circle cx="45.20" cy="736.00" r="1.95" fill="#b3b3b3" />
<circle cx="48.50" cy="736.40" r="1.95" fill="#b3b3b3" />
<circle cx="52.70" cy="737.80" r="1.95" fill="#b3b3b3" />
<circle cx="49.70" cy="743.40" r="1.95" fill="#b3b3b3" />
<circle cx="48.00" cy="750.90" r="1.95" fill="#b3b3b3" />
<circle cx="43.80" cy="754.40" r="1.95" fill="#b3b3b3" />
<circle cx="51.30" cy="761.20" r="1.95" fill="#b3b3b3" />
<circle cx="62.00" cy="761.70" r="1.95" fill="#b3b3b3" />
<circle cx="44.80" cy="768.40" r="1.95" fill="#b3b3b3" />
<circle cx="57.40" cy="780.30" r="1.95" fill="#b3b3b3" />
<circle cx="106.00" cy="683.40" r="1.95" fill="#8f1400" />
<circle cx="97.10" cy="688.50" r="1.95" fill="#8f1400" />
<circle cx="102.90" cy="701.90" r="1.95" fill="#8f1400" />
<circle cx="97.10" cy="703.70" r="1.95" fill="#8f1400" />
<circle cx="106.90" cy="706.10" r="1.95" fill="#8f1400" />
<circle cx="110.60" cy="716.10" r="1.95" fill="#8f1400" />
<circle cx="99.00" cy="718.40" r="1.95" fill="#8f1400" />
<circle cx="97.80" cy="719.60" r="1.95" fill="#8f1400" />
<circle cx="99.00" cy="724.30" r="1.95" fill="#8f1400" />
<circle cx="103.60" cy="730.10" r="1.95" fill="#8f1400" />
<circle cx="101.30" cy="737.80" r="1.95" fill="#8f1400" />
<circle cx="105.00" cy="738.30" r="1.95" fill="#8f1400" />
<circle cx="94.30" cy="739.70" r="1.95" fill="#8f1400" />
<circle cx="96.20" cy="741.60" r="1.95" fill="#8f1400" />
<circle cx="101.30" cy="743.90" r="1.95" fill="#8f1400" />
<circle cx="108.80" cy="746.20" r="1.95" fill="#8f1400" />
<circle cx="99.40" cy="752.80" r="1.95" fill="#8f1400" />
<circle cx="102.50" cy="766.30" r="1.95" fill="#8f1400" />
<circle cx="103.60" cy="783.80" r="1.95" fill="#8f1400" />
<circle cx="151.30" cy="678.50" r="1.95" fill="#03519b" />
<circle cx="148.90" cy="685.00" r="1.95" fill="#03519b" />
<circle cx="154.30" cy="685.50" r="1.95" fill="#03519b" />
<circle cx="142.60" cy="690.20" r="1.95" fill="#03519b" />
<circle cx="143.10" cy="703.70" r="1.95" fill="#03519b" />
<circle cx="149.60" cy="704.90" r="1.95" fill="#03519b" />
<circle cx="160.60" cy="710.00" r="1.95" fill="#03519b" />
<circle cx="148.50" cy="717.30" r="1.95" fill="#03519b" />
<circle cx="153.60" cy="719.60" r="1.95" fill="#03519b" />
<circle cx="152.00" cy="720.80" r="1.95" fill="#03519b" />
<circle cx="145.40" cy="722.90" r="1.95" fill="#03519b" />
<circle cx="148.90" cy="722.90" r="1.95" fill="#03519b" />
<circle cx="160.20" cy="741.80" r="1.95" fill="#03519b" />
<circle cx="162.50" cy="742.30" r="1.95" fill="#03519b" />
<circle cx="154.30" cy="748.80" r="1.95" fill="#03519b" />
<circle cx="151.50" cy="754.00" r="1.95" fill="#03519b" />
<circle cx="146.10" cy="755.80" r="1.95" fill="#03519b" />
<circle cx="150.30" cy="756.30" r="1.95" fill="#03519b" />
<circle cx="161.80" cy="759.30" r="1.95" fill="#03519b" />
<circle cx="147.80" cy="769.60" r="1.95" fill="#03519b" />
<circle cx="151.50" cy="769.80" r="1.95" fill="#03519b" />
<text x="189.50" y="628.70" font-size="13.3" text-anchor="start" fill="#000" font-weight="bold" >l.</text>
<line x1="204.90" y1="632.60" x2="204.90" y2="791.00" stroke="#d6d6d6" stroke-width="1.7" />
<line x1="204.90" y1="791.00" x2="363.80" y2="791.00" stroke="#999" stroke-width="1.0" />
<line x1="202.40" y1="779.80" x2="204.90" y2="779.80" stroke="#999" stroke-width="0.7" />
<text x="201.40" y="782.10" font-size="6.6" text-anchor="end" fill="#1a1a1a" font-weight="normal"  stroke="#1a1a1a" stroke-width="0.14">2.0</text>
<line x1="202.40" y1="734.40" x2="204.90" y2="734.40" stroke="#999" stroke-width="0.7" />
<text x="201.40" y="736.70" font-size="6.6" text-anchor="end" fill="#1a1a1a" font-weight="normal"  stroke="#1a1a1a" stroke-width="0.14">2.4</text>
<line x1="202.40" y1="688.50" x2="204.90" y2="688.50" stroke="#999" stroke-width="0.7" />
<text x="201.40" y="690.80" font-size="6.6" text-anchor="end" fill="#1a1a1a" font-weight="normal"  stroke="#1a1a1a" stroke-width="0.14">2.8</text>
<line x1="202.40" y1="643.30" x2="204.90" y2="643.30" stroke="#999" stroke-width="0.7" />
<text x="201.40" y="645.60" font-size="6.6" text-anchor="end" fill="#1a1a1a" font-weight="normal"  stroke="#1a1a1a" stroke-width="0.14">3.2</text>
<line x1="234.70" y1="791.00" x2="234.70" y2="793.50" stroke="#999" stroke-width="0.7" />
<line x1="284.40" y1="791.00" x2="284.40" y2="793.50" stroke="#999" stroke-width="0.7" />
<line x1="334.00" y1="791.00" x2="334.00" y2="793.50" stroke="#999" stroke-width="0.7" />
<text x="234.70" y="800.20" font-size="6.6" text-anchor="middle" fill="#111" font-weight="normal"  stroke="#111" stroke-width="0.14">HIV−</text>
<text x="284.40" y="800.20" font-size="6.6" text-anchor="middle" fill="#111" font-weight="normal"  stroke="#111" stroke-width="0.14">PLHIV</text>
<text x="284.40" y="807.30" font-size="6.6" text-anchor="middle" fill="#111" font-weight="normal"  stroke="#111" stroke-width="0.14">ART&lt;3m</text>
<text x="334.00" y="800.20" font-size="6.6" text-anchor="middle" fill="#111" font-weight="normal"  stroke="#111" stroke-width="0.14">PLHIV</text>
<text x="334.00" y="807.30" font-size="6.6" text-anchor="middle" fill="#111" font-weight="normal"  stroke="#111" stroke-width="0.14">ART&gt;1yr</text>
<text x="0" y="0" font-size="6.9" text-anchor="middle" fill="#111" stroke="#111" stroke-width="0.14" transform="translate(189.40,711.6) rotate(-90)">Oxidation Index [Log10]</text>
<line x1="234.70" y1="666.20" x2="284.40" y2="666.20" stroke="#808080" stroke-width="0.55" />
<text x="259.55" y="664.90" font-size="6.3" text-anchor="middle" fill="#111" font-weight="normal"  stroke="#111" stroke-width="0.14">p = 0.031</text>
<line x1="234.70" y1="653.40" x2="334.00" y2="653.40" stroke="#808080" stroke-width="0.55" />
<text x="284.35" y="652.10" font-size="6.3" text-anchor="middle" fill="#111" font-weight="normal"  stroke="#111" stroke-width="0.14">p = 0.041</text>
<line x1="284.40" y1="640.40" x2="334.00" y2="640.40" stroke="#808080" stroke-width="0.55" />
<text x="309.20" y="639.10" font-size="6.3" text-anchor="middle" fill="#111" font-weight="normal"  stroke="#111" stroke-width="0.14">p = 0.728</text>
<line x1="234.70" y1="671.80" x2="234.70" y2="691.70" stroke="#d6d6d6" stroke-width="0.6" />
<line x1="234.70" y1="720.20" x2="234.70" y2="772.10" stroke="#d6d6d6" stroke-width="0.6" />
<rect x="222.30" y="691.70" width="25.40" height="28.50" fill="none" stroke="#d6d6d6" stroke-width="0.6"/>
<line x1="222.30" y1="710.30" x2="247.70" y2="710.30" stroke="#d6d6d6" stroke-width="0.7" />
<line x1="284.40" y1="678.50" x2="284.40" y2="713.30" stroke="#c98c84" stroke-width="0.6" />
<line x1="284.40" y1="744.80" x2="284.40" y2="769.60" stroke="#c98c84" stroke-width="0.6" />
<rect x="271.50" y="713.30" width="25.30" height="31.50" fill="none" stroke="#c98c84" stroke-width="0.6"/>
<line x1="271.50" y1="719.50" x2="296.80" y2="719.50" stroke="#c98c84" stroke-width="0.7" />
<line x1="334.00" y1="683.50" x2="334.00" y2="704.10" stroke="#7fa6cc" stroke-width="0.6" />
<line x1="334.00" y1="738.10" x2="334.00" y2="784.00" stroke="#7fa6cc" stroke-width="0.6" />
<rect x="321.10" y="704.10" width="25.80" height="34.00" fill="none" stroke="#7fa6cc" stroke-width="0.6"/>
<line x1="321.10" y1="722.00" x2="346.90" y2="722.00" stroke="#7fa6cc" stroke-width="0.7" />
<circle cx="235.20" cy="673.10" r="1.95" fill="#b3b3b3" />
<circle cx="239.20" cy="672.30" r="1.95" fill="#b3b3b3" />
<circle cx="239.70" cy="674.80" r="1.95" fill="#b3b3b3" />
<circle cx="231.00" cy="680.30" r="1.95" fill="#b3b3b3" />
<circle cx="234.70" cy="687.70" r="1.95" fill="#b3b3b3" />
<circle cx="240.20" cy="690.20" r="1.95" fill="#b3b3b3" />
<circle cx="226.10" cy="696.40" r="1.95" fill="#b3b3b3" />
<circle cx="234.30" cy="694.70" r="1.95" fill="#b3b3b3" />
<circle cx="244.20" cy="692.20" r="1.95" fill="#b3b3b3" />
<circle cx="244.70" cy="699.60" r="1.95" fill="#b3b3b3" />
<circle cx="228.00" cy="705.30" r="1.95" fill="#b3b3b3" />
<circle cx="229.80" cy="710.80" r="1.95" fill="#b3b3b3" />
<circle cx="236.70" cy="710.80" r="1.95" fill="#b3b3b3" />
<circle cx="231.80" cy="715.30" r="1.95" fill="#b3b3b3" />
<circle cx="238.00" cy="717.80" r="1.95" fill="#b3b3b3" />
<circle cx="241.70" cy="715.00" r="1.95" fill="#b3b3b3" />
<circle cx="227.80" cy="729.90" r="1.95" fill="#b3b3b3" />
<circle cx="238.50" cy="728.90" r="1.95" fill="#b3b3b3" />
<circle cx="232.30" cy="735.60" r="1.95" fill="#b3b3b3" />
<circle cx="233.00" cy="738.10" r="1.95" fill="#b3b3b3" />
<circle cx="237.20" cy="762.90" r="1.95" fill="#b3b3b3" />
<circle cx="238.00" cy="772.10" r="1.95" fill="#b3b3b3" />
<circle cx="276.40" cy="678.50" r="1.95" fill="#8f1400" />
<circle cx="287.40" cy="688.00" r="1.95" fill="#8f1400" />
<circle cx="288.40" cy="691.70" r="1.95" fill="#8f1400" />
<circle cx="277.40" cy="705.80" r="1.95" fill="#8f1400" />
<circle cx="274.00" cy="712.80" r="1.95" fill="#8f1400" />
<circle cx="286.90" cy="714.00" r="1.95" fill="#8f1400" />
<circle cx="283.10" cy="716.30" r="1.95" fill="#8f1400" />
<circle cx="280.70" cy="719.50" r="1.95" fill="#8f1400" />
<circle cx="277.70" cy="720.00" r="1.95" fill="#8f1400" />
<circle cx="293.80" cy="727.70" r="1.95" fill="#8f1400" />
<circle cx="278.20" cy="729.90" r="1.95" fill="#8f1400" />
<circle cx="279.40" cy="743.60" r="1.95" fill="#8f1400" />
<circle cx="280.90" cy="745.10" r="1.95" fill="#8f1400" />
<circle cx="293.10" cy="744.80" r="1.95" fill="#8f1400" />
<circle cx="293.10" cy="746.80" r="1.95" fill="#8f1400" />
<circle cx="293.80" cy="748.80" r="1.95" fill="#8f1400" />
<circle cx="283.90" cy="757.20" r="1.95" fill="#8f1400" />
<circle cx="291.30" cy="769.60" r="1.95" fill="#8f1400" />
<circle cx="327.80" cy="683.00" r="1.95" fill="#03519b" />
<circle cx="333.30" cy="688.50" r="1.95" fill="#03519b" />
<circle cx="324.80" cy="692.70" r="1.95" fill="#03519b" />
<circle cx="327.80" cy="703.90" r="1.95" fill="#03519b" />
<circle cx="343.50" cy="702.90" r="1.95" fill="#03519b" />
<circle cx="343.50" cy="712.80" r="1.95" fill="#03519b" />
<circle cx="334.00" cy="715.00" r="1.95" fill="#03519b" />
<circle cx="330.80" cy="715.80" r="1.95" fill="#03519b" />
<circle cx="340.50" cy="718.80" r="1.95" fill="#03519b" />
<circle cx="331.50" cy="725.20" r="1.95" fill="#03519b" />
<circle cx="336.00" cy="732.60" r="1.95" fill="#03519b" />
<circle cx="332.80" cy="737.40" r="1.95" fill="#03519b" />
<circle cx="338.50" cy="737.60" r="1.95" fill="#03519b" />
<circle cx="340.20" cy="738.90" r="1.95" fill="#03519b" />
<circle cx="343.00" cy="743.60" r="1.95" fill="#03519b" />
<circle cx="338.20" cy="744.30" r="1.95" fill="#03519b" />
<circle cx="329.80" cy="756.70" r="1.95" fill="#03519b" />
<circle cx="333.50" cy="761.70" r="1.95" fill="#03519b" />
<circle cx="337.70" cy="784.00" r="1.95" fill="#03519b" />
<text x="12.90" y="213.10" font-size="13.3" text-anchor="start" fill="#000" font-weight="bold" >d.</text>
<text x="37.00" y="222.40" font-size="6.9" text-anchor="start" fill="#111" font-weight="normal"  stroke="#111" stroke-width="0.14">Neutrophil enriched modules</text>
<line x1="23.30" y1="225.00" x2="23.30" y2="383.50" stroke="#888" stroke-width="0.9" />
<line x1="23.30" y1="383.50" x2="137.70" y2="383.50" stroke="#888" stroke-width="0.9" />
<line x1="20.80" y1="247.60" x2="23.30" y2="247.60" stroke="#888" stroke-width="0.7" />
<text x="19.80" y="250.00" font-size="6.6" text-anchor="end" fill="#1a1a1a" font-weight="normal"  stroke="#1a1a1a" stroke-width="0.14">M4</text>
<line x1="20.80" y1="285.30" x2="23.30" y2="285.30" stroke="#888" stroke-width="0.7" />
<text x="19.80" y="287.70" font-size="6.6" text-anchor="end" fill="#1a1a1a" font-weight="normal"  stroke="#1a1a1a" stroke-width="0.14">M3</text>
<line x1="20.80" y1="322.90" x2="23.30" y2="322.90" stroke="#888" stroke-width="0.7" />
<text x="19.80" y="325.30" font-size="6.6" text-anchor="end" fill="#1a1a1a" font-weight="normal"  stroke="#1a1a1a" stroke-width="0.14">M2</text>
<line x1="20.80" y1="360.80" x2="23.30" y2="360.80" stroke="#888" stroke-width="0.7" />
<text x="19.80" y="363.20" font-size="6.6" text-anchor="end" fill="#1a1a1a" font-weight="normal"  stroke="#1a1a1a" stroke-width="0.14">M1</text>
<line x1="44.90" y1="383.50" x2="44.90" y2="386.00" stroke="#888" stroke-width="0.7" />
<line x1="80.50" y1="383.50" x2="80.50" y2="386.00" stroke="#888" stroke-width="0.7" />
<line x1="116.20" y1="383.50" x2="116.20" y2="386.00" stroke="#888" stroke-width="0.7" />
<text x="44.90" y="391.80" font-size="6.6" text-anchor="middle" fill="#111" font-weight="normal"  stroke="#111" stroke-width="0.14">HIV−</text>
<text x="80.50" y="391.80" font-size="6.6" text-anchor="middle" fill="#111" font-weight="normal"  stroke="#111" stroke-width="0.14">PLHIV</text>
<text x="80.50" y="399.50" font-size="6.6" text-anchor="middle" fill="#111" font-weight="normal"  stroke="#111" stroke-width="0.14">ART&lt;3m</text>
<text x="116.20" y="391.80" font-size="6.6" text-anchor="middle" fill="#111" font-weight="normal"  stroke="#111" stroke-width="0.14">PLHIV</text>
<text x="116.20" y="399.50" font-size="6.6" text-anchor="middle" fill="#111" font-weight="normal"  stroke="#111" stroke-width="0.14">ART&gt;1yr</text>
<circle cx="44.90" cy="247.60" r="5.20" fill="#a8432a" />
<circle cx="80.50" cy="247.60" r="0.35" fill="#cccccc" />
<circle cx="116.20" cy="247.60" r="1.30" fill="#b9a2f5" />
<circle cx="44.90" cy="285.30" r="4.15" fill="#c06a52" />
<circle cx="80.50" cy="285.30" r="9.95" fill="#0000c0" />
<circle cx="116.20" cy="285.30" r="4.07" fill="#dea190" />
<circle cx="44.90" cy="322.90" r="2.77" fill="#e2a392" />
<circle cx="80.50" cy="322.90" r="9.95" fill="#b65a40" />
<circle cx="44.90" cy="360.80" r="7.44" fill="#6844c6" />
<circle cx="80.50" cy="360.80" r="5.60" fill="#9a7ad8" />
<circle cx="116.20" cy="360.80" r="5.80" fill="#d9917d" />
<text x="141.8" y="241.3" font-size="6.6" fill="#111" stroke="#111" stroke-width="0.14">−log<tspan font-size="4.6" dy="1.5">10</tspan><tspan dy="-1.5"> adj p−value</tspan></text>
<circle cx="154.50" cy="248.60" r="3.85" fill="#000" />
<text x="168.60" y="251.00" font-size="6.6" text-anchor="start" fill="#111" font-weight="normal"  stroke="#111" stroke-width="0.14">10</text>
<circle cx="154.50" cy="261.70" r="6.30" fill="#000" />
<text x="168.60" y="264.10" font-size="6.6" text-anchor="start" fill="#111" font-weight="normal"  stroke="#111" stroke-width="0.14">20</text>
<circle cx="154.50" cy="282.70" r="10.00" fill="#000" />
<text x="168.60" y="285.10" font-size="6.6" text-anchor="start" fill="#111" font-weight="normal"  stroke="#111" stroke-width="0.14">30</text>
<text x="141.50" y="306.60" font-size="6.9" text-anchor="start" fill="#111" font-weight="normal"  stroke="#111" stroke-width="0.14">NES</text>
<defs><linearGradient id="nes" x1="0" y1="0" x2="0" y2="1"><stop offset="0" stop-color="#b0452c"/><stop offset="0.22" stop-color="#d89a88"/><stop offset="0.45" stop-color="#ffffff"/><stop offset="0.72" stop-color="#8a70e0"/><stop offset="1" stop-color="#0000c0"/></linearGradient></defs>
<rect x="141.20" y="307.90" width="9.60" height="66.00" fill="url(#nes)" />
<line x1="148.80" y1="322.40" x2="150.80" y2="322.40" stroke="#fff" stroke-width="0.6" />
<text x="152.30" y="324.80" font-size="6.6" text-anchor="start" fill="#111" font-weight="normal"  stroke="#111" stroke-width="0.14">2</text>
<line x1="148.80" y1="337.70" x2="150.80" y2="337.70" stroke="#fff" stroke-width="0.6" />
<text x="152.30" y="340.10" font-size="6.6" text-anchor="start" fill="#111" font-weight="normal"  stroke="#111" stroke-width="0.14">0</text>
<line x1="148.80" y1="353.40" x2="150.80" y2="353.40" stroke="#fff" stroke-width="0.6" />
<text x="152.30" y="355.80" font-size="6.6" text-anchor="start" fill="#111" font-weight="normal"  stroke="#111" stroke-width="0.14">−2</text>
<line x1="148.80" y1="369.70" x2="150.80" y2="369.70" stroke="#fff" stroke-width="0.6" />
<text x="152.30" y="372.10" font-size="6.6" text-anchor="start" fill="#111" font-weight="normal"  stroke="#111" stroke-width="0.14">−4</text>
<text x="230.50" y="213.10" font-size="13.3" text-anchor="start" fill="#000" font-weight="bold" >e.</text>
<line x1="296.40" y1="225.00" x2="296.40" y2="383.20" stroke="#999" stroke-width="1.0" />
<line x1="296.40" y1="383.20" x2="439.00" y2="383.20" stroke="#8c8c8c" stroke-width="1.0" />
<rect x="302.80" y="227.30" width="130.20" height="13.40" fill="#4a5280" />
<line x1="293.40" y1="234.00" x2="296.40" y2="234.00" stroke="#444" stroke-width="0.6" />
<text transform="translate(292.60,236.10) scale(1,1.13)" x="0" y="0" font-size="5.2" text-anchor="end" fill="#1a1a1a" font-weight="normal"  stroke="#1a1a1a" stroke-width="0.14">Hemostasis</text>
<rect x="302.80" y="242.90" width="111.00" height="13.40" fill="#6c4763" />
<line x1="293.40" y1="249.60" x2="296.40" y2="249.60" stroke="#444" stroke-width="0.6" />
<text transform="translate(292.60,248.80) scale(1,1.13)" x="0" y="0" font-size="5.2" text-anchor="end" fill="#1a1a1a" font-weight="normal"  stroke="#1a1a1a" stroke-width="0.14">Senescence−Associated Secretory</text>
<text transform="translate(292.60,254.50) scale(1,1.13)" x="0" y="0" font-size="5.2" text-anchor="end" fill="#1a1a1a" font-weight="normal"  stroke="#1a1a1a" stroke-width="0.14">Phenotype (SASP)</text>
<rect x="302.80" y="258.50" width="77.80" height="13.40" fill="#5f4b6f" />
<line x1="293.40" y1="265.20" x2="296.40" y2="265.20" stroke="#444" stroke-width="0.6" />
<text transform="translate(292.60,267.30) scale(1,1.13)" x="0" y="0" font-size="5.2" text-anchor="end" fill="#1a1a1a" font-weight="normal"  stroke="#1a1a1a" stroke-width="0.14">Signaling by Interleukins</text>
<rect x="302.80" y="274.10" width="77.80" height="13.40" fill="#54507a" />
<line x1="293.40" y1="280.80" x2="296.40" y2="280.80" stroke="#444" stroke-width="0.6" />
<text transform="translate(292.60,282.90) scale(1,1.13)" x="0" y="0" font-size="5.2" text-anchor="end" fill="#1a1a1a" font-weight="normal"  stroke="#1a1a1a" stroke-width="0.14">Cellular Senescence</text>
<rect x="302.80" y="289.70" width="66.20" height="13.40" fill="#901400" />
<line x1="293.40" y1="296.40" x2="296.40" y2="296.40" stroke="#444" stroke-width="0.6" />
<text transform="translate(292.60,298.50) scale(1,1.13)" x="0" y="0" font-size="5.2" text-anchor="end" fill="#1a1a1a" font-weight="normal"  stroke="#1a1a1a" stroke-width="0.14">Nicotinate metabolism</text>
<rect x="302.80" y="305.30" width="66.20" height="13.40" fill="#4a5280" />
<line x1="293.40" y1="312.00" x2="296.40" y2="312.00" stroke="#444" stroke-width="0.6" />
<text transform="translate(292.60,314.10) scale(1,1.13)" x="0" y="0" font-size="5.2" text-anchor="end" fill="#1a1a1a" font-weight="normal"  stroke="#1a1a1a" stroke-width="0.14">Cellular responses to stress</text>
<rect x="302.80" y="320.90" width="56.30" height="13.40" fill="#6c4763" />
<line x1="293.40" y1="327.60" x2="296.40" y2="327.60" stroke="#444" stroke-width="0.6" />
<text transform="translate(292.60,329.70) scale(1,1.13)" x="0" y="0" font-size="5.2" text-anchor="end" fill="#1a1a1a" font-weight="normal"  stroke="#1a1a1a" stroke-width="0.14">Interleukin−3, 5 and GM−CSF signaling</text>
<rect x="302.80" y="336.50" width="56.30" height="13.40" fill="#6a4765" />
<line x1="293.40" y1="343.20" x2="296.40" y2="343.20" stroke="#444" stroke-width="0.6" />
<text transform="translate(292.60,345.30) scale(1,1.13)" x="0" y="0" font-size="5.2" text-anchor="end" fill="#1a1a1a" font-weight="normal"  stroke="#1a1a1a" stroke-width="0.14">GPVI−mediated activation cascade</text>
<rect x="302.80" y="352.10" width="56.30" height="13.40" fill="#614b6c" />
<line x1="293.40" y1="358.80" x2="296.40" y2="358.80" stroke="#444" stroke-width="0.6" />
<text transform="translate(292.60,360.90) scale(1,1.13)" x="0" y="0" font-size="5.2" text-anchor="end" fill="#1a1a1a" font-weight="normal"  stroke="#1a1a1a" stroke-width="0.14">Golgi Associated Vesicle Biogenesis</text>
<rect x="302.80" y="367.70" width="56.30" height="13.40" fill="#674868" />
<line x1="293.40" y1="374.40" x2="296.40" y2="374.40" stroke="#444" stroke-width="0.6" />
<text transform="translate(292.60,376.50) scale(1,1.13)" x="0" y="0" font-size="5.2" text-anchor="end" fill="#1a1a1a" font-weight="normal"  stroke="#1a1a1a" stroke-width="0.14">FCGR activation</text>
<line x1="302.80" y1="383.20" x2="302.80" y2="385.50" stroke="#999" stroke-width="0.7" />
<text x="302.80" y="391.30" font-size="5.5" text-anchor="middle" fill="#222" font-weight="normal"  stroke="#222" stroke-width="0.14">0.0</text>
<line x1="342.60" y1="383.20" x2="342.60" y2="385.50" stroke="#999" stroke-width="0.7" />
<text x="342.60" y="391.30" font-size="5.5" text-anchor="middle" fill="#222" font-weight="normal"  stroke="#222" stroke-width="0.14">0.5</text>
<line x1="382.50" y1="383.20" x2="382.50" y2="385.50" stroke="#999" stroke-width="0.7" />
<text x="382.50" y="391.30" font-size="5.5" text-anchor="middle" fill="#222" font-weight="normal"  stroke="#222" stroke-width="0.14">1.0</text>
<line x1="422.20" y1="383.20" x2="422.20" y2="385.50" stroke="#999" stroke-width="0.7" />
<text x="422.20" y="391.30" font-size="5.5" text-anchor="middle" fill="#222" font-weight="normal"  stroke="#222" stroke-width="0.14">1.5</text>
<text x="369.50" y="407.40" font-size="7.0" text-anchor="middle" fill="#111" font-weight="normal"  stroke="#111" stroke-width="0.14">−log10(padj)</text>
<line x1="406.3" y1="225" x2="406.3" y2="383" stroke="#555" stroke-width="0.6" stroke-dasharray="1,1.2"/>
<rect x="369.80" y="312.00" width="52.00" height="64.00" fill="#fff" />
<text x="372.30" y="321.20" font-size="6.8" text-anchor="start" fill="#111" font-weight="normal"  stroke="#111" stroke-width="0.14">FoldEnrichment</text>
<defs><linearGradient id="fe1" x1="0" y1="0" x2="0" y2="1"><stop offset="0" stop-color="#a01a08"/><stop offset="1" stop-color="#4a5488"/></linearGradient></defs>
<rect x="371.80" y="322.20" width="5.80" height="51.20" fill="url(#fe1)" />
<line x1="376.10" y1="331.60" x2="377.60" y2="331.60" stroke="#fff" stroke-width="0.5" />
<text x="378.80" y="333.50" font-size="5.3" text-anchor="start" fill="#1a1a1a" font-weight="normal"  stroke="#1a1a1a" stroke-width="0.14">20</text>
<line x1="376.10" y1="344.20" x2="377.60" y2="344.20" stroke="#fff" stroke-width="0.5" />
<text x="378.80" y="346.10" font-size="5.3" text-anchor="start" fill="#1a1a1a" font-weight="normal"  stroke="#1a1a1a" stroke-width="0.14">15</text>
<line x1="376.10" y1="356.60" x2="377.60" y2="356.60" stroke="#fff" stroke-width="0.5" />
<text x="378.80" y="358.50" font-size="5.3" text-anchor="start" fill="#1a1a1a" font-weight="normal"  stroke="#1a1a1a" stroke-width="0.14">10</text>
<line x1="376.10" y1="369.00" x2="377.60" y2="369.00" stroke="#fff" stroke-width="0.5" />
<text x="378.80" y="370.90" font-size="5.3" text-anchor="start" fill="#1a1a1a" font-weight="normal"  stroke="#1a1a1a" stroke-width="0.14">5</text>
<text x="367.50" y="222.20" font-size="6.8" text-anchor="middle" fill="#111" font-weight="normal"  stroke="#111" stroke-width="0.14">M1 over−represented pathways</text>
<text x="475.00" y="213.10" font-size="13.3" text-anchor="start" fill="#000" font-weight="bold" >f.</text>
<line x1="542.30" y1="225.00" x2="542.30" y2="383.20" stroke="#d4d4d4" stroke-width="1.5" />
<line x1="542.30" y1="383.20" x2="685.00" y2="383.20" stroke="#8c8c8c" stroke-width="1.0" />
<rect x="548.60" y="227.30" width="129.80" height="13.40" fill="#4a5282" />
<line x1="539.30" y1="234.00" x2="542.30" y2="234.00" stroke="#444" stroke-width="0.6" />
<text transform="translate(538.40,236.10) scale(1,1.13)" x="0" y="0" font-size="5.2" text-anchor="end" fill="#1a1a1a" font-weight="normal"  stroke="#1a1a1a" stroke-width="0.14">Cytokine Signaling in Immune system</text>
<rect x="548.60" y="242.90" width="114.20" height="13.40" fill="#4e5080" />
<line x1="539.30" y1="249.60" x2="542.30" y2="249.60" stroke="#444" stroke-width="0.6" />
<text transform="translate(538.40,251.70) scale(1,1.13)" x="0" y="0" font-size="5.2" text-anchor="end" fill="#1a1a1a" font-weight="normal"  stroke="#1a1a1a" stroke-width="0.14">Interferon Signaling</text>
<rect x="548.60" y="258.50" width="103.60" height="13.40" fill="#5e4a6e" />
<line x1="539.30" y1="265.20" x2="542.30" y2="265.20" stroke="#444" stroke-width="0.6" />
<text transform="translate(538.40,267.30) scale(1,1.13)" x="0" y="0" font-size="5.2" text-anchor="end" fill="#1a1a1a" font-weight="normal"  stroke="#1a1a1a" stroke-width="0.14">Interferon gamma signaling</text>
<rect x="548.60" y="274.10" width="87.30" height="13.40" fill="#604a6c" />
<line x1="539.30" y1="280.80" x2="542.30" y2="280.80" stroke="#444" stroke-width="0.6" />
<text transform="translate(538.40,282.90) scale(1,1.13)" x="0" y="0" font-size="5.2" text-anchor="end" fill="#1a1a1a" font-weight="normal"  stroke="#1a1a1a" stroke-width="0.14">Interferon alpha/beta signaling</text>
<rect x="548.60" y="289.70" width="75.80" height="13.40" fill="#901400" />
<line x1="539.30" y1="296.40" x2="542.30" y2="296.40" stroke="#444" stroke-width="0.6" />
<text transform="translate(538.40,298.50) scale(1,1.13)" x="0" y="0" font-size="5.2" text-anchor="end" fill="#1a1a1a" font-weight="normal"  stroke="#1a1a1a" stroke-width="0.14">Endosomal/Vacuolar pathway</text>
<rect x="548.60" y="305.30" width="53.80" height="13.40" fill="#7a3f50" />
<line x1="539.30" y1="312.00" x2="542.30" y2="312.00" stroke="#444" stroke-width="0.6" />
<text transform="translate(538.40,311.20) scale(1,1.13)" x="0" y="0" font-size="5.2" text-anchor="end" fill="#1a1a1a" font-weight="normal"  stroke="#1a1a1a" stroke-width="0.14">Antigen Presentation: Folding, assembly</text>
<text transform="translate(538.40,316.90) scale(1,1.13)" x="0" y="0" font-size="5.2" text-anchor="end" fill="#1a1a1a" font-weight="normal"  stroke="#1a1a1a" stroke-width="0.14">and peptide loading of class I MHC</text>
<rect x="548.60" y="320.90" width="52.90" height="13.40" fill="#4e5080" />
<line x1="539.30" y1="327.60" x2="542.30" y2="327.60" stroke="#444" stroke-width="0.6" />
<text transform="translate(538.40,326.80) scale(1,1.13)" x="0" y="0" font-size="5.2" text-anchor="end" fill="#1a1a1a" font-weight="normal"  stroke="#1a1a1a" stroke-width="0.14">Immunoregulatory interactions between a</text>
<text transform="translate(538.40,332.50) scale(1,1.13)" x="0" y="0" font-size="5.2" text-anchor="end" fill="#1a1a1a" font-weight="normal"  stroke="#1a1a1a" stroke-width="0.14">Lymphoid and a non−Lymphoid cell</text>
<rect x="548.60" y="336.50" width="51.10" height="13.40" fill="#554e78" />
<line x1="539.30" y1="343.20" x2="542.30" y2="343.20" stroke="#444" stroke-width="0.6" />
<text transform="translate(538.40,345.30) scale(1,1.13)" x="0" y="0" font-size="5.2" text-anchor="end" fill="#1a1a1a" font-weight="normal"  stroke="#1a1a1a" stroke-width="0.14">Antigen processing−Cross presentation</text>
<rect x="548.60" y="352.10" width="44.80" height="13.40" fill="#5a4c72" />
<line x1="539.30" y1="358.80" x2="542.30" y2="358.80" stroke="#444" stroke-width="0.6" />
<text transform="translate(538.40,360.90) scale(1,1.13)" x="0" y="0" font-size="5.2" text-anchor="end" fill="#1a1a1a" font-weight="normal"  stroke="#1a1a1a" stroke-width="0.14">ER−Phagosome pathway</text>
<rect x="548.60" y="367.70" width="40.20" height="13.40" fill="#4a5282" />
<line x1="539.30" y1="374.40" x2="542.30" y2="374.40" stroke="#444" stroke-width="0.6" />
<text transform="translate(538.40,376.50) scale(1,1.13)" x="0" y="0" font-size="5.2" text-anchor="end" fill="#1a1a1a" font-weight="normal"  stroke="#1a1a1a" stroke-width="0.14">Activated TLR4 signalling</text>
<line x1="548.60" y1="383.20" x2="548.60" y2="385.50" stroke="#999" stroke-width="0.7" />
<text x="548.60" y="391.30" font-size="5.5" text-anchor="middle" fill="#222" font-weight="normal"  stroke="#222" stroke-width="0.14">0</text>
<line x1="584.30" y1="383.20" x2="584.30" y2="385.50" stroke="#999" stroke-width="0.7" />
<text x="584.30" y="391.30" font-size="5.5" text-anchor="middle" fill="#222" font-weight="normal"  stroke="#222" stroke-width="0.14">3</text>
<line x1="619.80" y1="383.20" x2="619.80" y2="385.50" stroke="#999" stroke-width="0.7" />
<text x="619.80" y="391.30" font-size="5.5" text-anchor="middle" fill="#222" font-weight="normal"  stroke="#222" stroke-width="0.14">6</text>
<line x1="655.10" y1="383.20" x2="655.10" y2="385.50" stroke="#999" stroke-width="0.7" />
<text x="655.10" y="391.30" font-size="5.5" text-anchor="middle" fill="#222" font-weight="normal"  stroke="#222" stroke-width="0.14">9</text>
<text x="614.50" y="407.40" font-size="7.0" text-anchor="middle" fill="#111" font-weight="normal"  stroke="#111" stroke-width="0.14">−log10(padj)</text>
<line x1="564.4" y1="225" x2="564.4" y2="383" stroke="#555" stroke-width="0.6" stroke-dasharray="1,1.2"/>
<rect x="620.10" y="312.00" width="52.00" height="64.00" fill="#fff" />
<text x="622.60" y="321.20" font-size="6.8" text-anchor="start" fill="#111" font-weight="normal"  stroke="#111" stroke-width="0.14">FoldEnrichment</text>
<defs><linearGradient id="fe2" x1="0" y1="0" x2="0" y2="1"><stop offset="0" stop-color="#9a1a08"/><stop offset="1" stop-color="#4a5488"/></linearGradient></defs>
<rect x="622.10" y="322.20" width="5.80" height="51.20" fill="url(#fe2)" />
<line x1="626.40" y1="329.60" x2="627.90" y2="329.60" stroke="#fff" stroke-width="0.5" />
<text x="629.10" y="331.50" font-size="5.3" text-anchor="start" fill="#1a1a1a" font-weight="normal"  stroke="#1a1a1a" stroke-width="0.14">60</text>
<line x1="626.40" y1="338.20" x2="627.90" y2="338.20" stroke="#fff" stroke-width="0.5" />
<text x="629.10" y="340.10" font-size="5.3" text-anchor="start" fill="#1a1a1a" font-weight="normal"  stroke="#1a1a1a" stroke-width="0.14">50</text>
<line x1="626.40" y1="346.60" x2="627.90" y2="346.60" stroke="#fff" stroke-width="0.5" />
<text x="629.10" y="348.50" font-size="5.3" text-anchor="start" fill="#1a1a1a" font-weight="normal"  stroke="#1a1a1a" stroke-width="0.14">40</text>
<line x1="626.40" y1="355.20" x2="627.90" y2="355.20" stroke="#fff" stroke-width="0.5" />
<text x="629.10" y="357.10" font-size="5.3" text-anchor="start" fill="#1a1a1a" font-weight="normal"  stroke="#1a1a1a" stroke-width="0.14">30</text>
<line x1="626.40" y1="363.80" x2="627.90" y2="363.80" stroke="#fff" stroke-width="0.5" />
<text x="629.10" y="365.70" font-size="5.3" text-anchor="start" fill="#1a1a1a" font-weight="normal"  stroke="#1a1a1a" stroke-width="0.14">20</text>
<line x1="626.40" y1="371.90" x2="627.90" y2="371.90" stroke="#fff" stroke-width="0.5" />
<text x="629.10" y="373.80" font-size="5.3" text-anchor="start" fill="#1a1a1a" font-weight="normal"  stroke="#1a1a1a" stroke-width="0.14">10</text>
<text x="613.30" y="222.00" font-size="6.8" text-anchor="middle" fill="#111" font-weight="normal"  stroke="#111" stroke-width="0.14">M2 over−represented pathways</text>
<text x="3.90" y="10.20" font-size="13.3" text-anchor="start" fill="#000" font-weight="bold" >a.</text>
<line x1="23.30" y1="21.90" x2="23.30" y2="180.30" stroke="#888" stroke-width="0.9" />
<line x1="23.30" y1="180.30" x2="226.00" y2="180.30" stroke="#888" stroke-width="0.9" />
<line x1="20.80" y1="173.00" x2="23.30" y2="173.00" stroke="#888" stroke-width="0.7" />
<text x="20.00" y="175.40" font-size="6.9" text-anchor="end" fill="#1a1a1a" font-weight="normal"  stroke="#1a1a1a" stroke-width="0.14">0.0</text>
<line x1="20.80" y1="134.60" x2="23.30" y2="134.60" stroke="#888" stroke-width="0.7" />
<text x="20.00" y="137.00" font-size="6.9" text-anchor="end" fill="#1a1a1a" font-weight="normal"  stroke="#1a1a1a" stroke-width="0.14">2.5</text>
<line x1="20.80" y1="96.20" x2="23.30" y2="96.20" stroke="#888" stroke-width="0.7" />
<text x="20.00" y="98.60" font-size="6.9" text-anchor="end" fill="#1a1a1a" font-weight="normal"  stroke="#1a1a1a" stroke-width="0.14">5.0</text>
<line x1="20.80" y1="57.80" x2="23.30" y2="57.80" stroke="#888" stroke-width="0.7" />
<text x="20.00" y="60.20" font-size="6.9" text-anchor="end" fill="#1a1a1a" font-weight="normal"  stroke="#1a1a1a" stroke-width="0.14">7.5</text>
<line x1="54.90" y1="180.30" x2="54.90" y2="182.80" stroke="#888" stroke-width="0.7" />
<text x="54.90" y="189.00" font-size="6.9" text-anchor="middle" fill="#1a1a1a" font-weight="normal"  stroke="#1a1a1a" stroke-width="0.14">−4</text>
<line x1="101.00" y1="180.30" x2="101.00" y2="182.80" stroke="#888" stroke-width="0.7" />
<text x="101.00" y="189.00" font-size="6.9" text-anchor="middle" fill="#1a1a1a" font-weight="normal"  stroke="#1a1a1a" stroke-width="0.14">−2</text>
<line x1="147.10" y1="180.30" x2="147.10" y2="182.80" stroke="#888" stroke-width="0.7" />
<text x="147.10" y="189.00" font-size="6.9" text-anchor="middle" fill="#1a1a1a" font-weight="normal"  stroke="#1a1a1a" stroke-width="0.14">0</text>
<line x1="193.20" y1="180.30" x2="193.20" y2="182.80" stroke="#888" stroke-width="0.7" />
<text x="193.20" y="189.00" font-size="6.9" text-anchor="middle" fill="#1a1a1a" font-weight="normal"  stroke="#1a1a1a" stroke-width="0.14">2</text>
<text x="124.65" y="196.2" font-size="8.1" text-anchor="middle" fill="#111" stroke="#111" stroke-width="0.14">Average log<tspan font-size="5.6" dy="1.8">2</tspan><tspan dy="-1.8"> FoldChange</tspan></text>
<text x="124.70" y="19.40" font-size="6.8" text-anchor="middle" fill="#111" font-weight="normal"  stroke="#111" stroke-width="0.14">PLHIV−ART&gt;1yr vs HIV−</text>
<text x="0" y="0" font-size="8.1" text-anchor="middle" fill="#111" stroke="#111" stroke-width="0.14" transform="translate(5.50,100.8) rotate(-90)">− log<tspan font-size="5.6" dy="1.8">10</tspan><tspan dy="-1.8"> adjusted P−value</tspan></text>
<path d="M162.3 171.6h0M151.6 169.9h0M210.1 158.5h0M132.1 164.7h0M151.6 171.2h0M169.1 166.0h0M114.7 164.6h0M136.3 172.3h0M156.1 172.6h0M163.3 168.9h0M104.0 155.0h0M169.1 159.4h0M202.7 159.3h0M139.2 168.9h0M151.6 165.6h0M152.7 171.1h0M97.2 166.2h0M148.9 165.5h0M144.7 171.1h0M138.6 169.7h0M161.2 170.6h0M137.8 166.3h0M89.7 163.3h0M123.0 167.8h0M165.6 170.5h0M170.8 168.2h0M143.0 162.6h0M141.4 172.4h0M155.7 172.0h0M140.4 172.7h0M149.2 164.9h0M100.7 163.5h0M153.5 168.8h0M123.1 170.1h0M144.6 168.3h0M141.3 163.5h0M161.8 160.9h0M139.3 168.2h0M120.9 167.7h0M143.6 162.0h0M205.2 154.7h0M155.7 171.7h0M153.9 172.4h0M93.6 161.2h0M195.8 163.8h0M140.1 165.3h0M151.2 171.5h0M130.4 155.7h0M149.3 168.6h0M154.7 170.7h0M209.2 157.8h0M128.9 162.8h0M165.7 168.3h0M116.9 161.5h0M168.1 170.2h0M134.2 172.1h0M88.3 163.6h0M130.6 171.5h0M174.2 168.1h0M159.6 166.0h0M207.3 163.6h0M124.3 160.5h0M145.2 170.6h0M82.7 161.1h0M151.5 163.3h0M169.8 164.3h0M171.6 168.4h0M144.1 172.0h0M113.0 168.0h0M140.2 170.2h0M117.2 169.0h0M152.0 170.6h0M160.9 168.8h0M159.8 172.4h0M139.4 156.8h0M186.3 159.7h0M144.6 160.0h0M154.4 171.9h0M140.3 172.3h0M149.3 171.0h0M154.8 167.3h0M160.1 169.4h0M152.8 160.6h0M164.9 167.2h0M192.5 156.6h0M133.4 171.4h0M149.6 172.4h0M106.2 160.0h0M114.5 167.3h0M156.0 171.1h0M183.1 167.2h0M180.9 166.3h0M136.7 166.7h0M124.8 169.6h0M183.6 156.8h0M164.7 158.5h0M136.6 171.3h0M153.1 172.6h0M144.6 164.9h0M171.6 168.3h0M135.1 170.4h0M122.2 170.6h0M141.9 172.6h0M176.7 168.7h0M132.6 170.5h0M191.0 165.5h0M133.5 167.3h0M155.3 162.5h0M154.3 170.2h0M134.6 171.2h0M162.1 171.5h0M181.4 161.3h0M134.4 171.4h0M186.2 157.4h0M148.8 163.5h0M179.2 163.6h0M141.3 166.0h0M145.3 171.4h0M176.6 166.8h0M161.6 167.7h0M166.1 169.7h0M139.2 164.7h0M207.3 163.4h0M131.7 168.0h0M157.0 160.5h0M160.5 168.3h0M158.7 169.8h0M127.2 169.9h0M162.5 157.2h0M99.5 167.1h0M97.5 166.4h0M150.3 171.9h0M144.6 172.9h0M151.2 154.9h0M104.2 168.3h0M153.8 168.9h0M207.6 159.5h0M140.0 171.7h0M144.0 172.1h0M96.6 162.9h0M153.4 170.9h0M139.1 168.6h0M145.3 171.7h0M140.4 166.0h0M169.7 171.4h0M133.7 172.3h0M151.2 167.8h0M155.2 172.0h0M158.4 165.1h0M125.9 169.5h0M157.0 158.3h0M139.5 172.1h0M167.3 171.7h0M143.8 165.9h0M129.0 171.7h0M107.8 155.4h0M106.4 167.5h0M143.9 170.6h0M144.8 168.5h0M116.5 161.9h0M89.7 159.1h0M152.1 171.3h0M134.8 170.7h0M151.1 170.1h0M128.2 169.4h0M180.5 164.9h0M139.4 172.0h0M156.8 172.1h0M140.9 167.9h0M138.3 162.6h0M118.2 164.8h0M137.9 169.1h0M133.6 171.6h0M142.8 166.8h0M134.4 160.8h0M177.2 159.3h0M158.9 168.8h0M144.5 169.8h0M158.9 170.1h0M154.2 169.4h0M167.3 168.6h0M134.7 166.1h0M151.2 169.7h0M155.7 171.9h0M188.4 167.3h0M145.0 170.2h0M153.3 172.8h0M148.9 170.9h0M162.1 171.7h0M137.3 171.1h0M117.9 159.1h0M113.0 167.6h0M187.4 167.8h0M136.9 170.4h0M144.8 167.3h0M160.6 171.5h0M140.8 169.9h0M134.6 168.1h0M111.0 168.0h0M130.4 170.3h0M157.4 166.2h0M111.2 168.9h0M152.5 159.7h0M177.1 169.6h0M157.8 167.6h0M145.2 172.1h0M174.4 160.7h0M153.5 172.1h0M155.6 170.0h0M131.8 156.9h0M166.2 166.4h0M143.7 168.0h0M196.1 160.1h0M131.9 171.1h0M179.3 169.6h0M141.0 165.8h0M158.0 162.3h0M152.0 170.5h0M128.9 171.8h0M121.1 163.8h0M117.6 161.3h0M177.8 169.6h0M152.1 169.9h0M116.8 165.9h0M137.5 172.3h0M119.8 165.5h0M137.7 168.1h0M138.9 167.4h0M150.1 171.5h0M95.9 165.8h0M145.2 169.5h0M142.0 169.8h0M168.8 170.4h0M153.7 170.3h0M142.1 169.9h0M150.8 170.4h0M153.2 165.8h0M142.3 170.0h0M150.4 167.7h0M156.5 170.3h0M155.8 170.2h0M124.6 164.9h0M139.0 168.7h0M154.6 171.6h0M157.5 164.2h0M136.7 168.8h0M166.9 170.6h0M165.9 165.8h0M136.1 171.3h0M145.0 167.0h0M158.7 170.5h0M130.4 161.5h0M126.1 167.2h0M204.4 153.5h0M143.9 165.4h0M138.3 169.2h0M162.3 166.4h0M144.2 172.1h0M187.4 167.1h0M142.8 171.9h0M177.4 160.7h0M151.3 171.2h0M149.1 169.4h0M166.8 168.9h0M144.0 168.2h0M123.8 163.2h0M130.1 171.9h0M201.4 161.2h0M119.2 169.9h0M160.6 170.4h0M111.0 160.4h0M102.0 162.2h0M199.4 153.4h0M195.9 162.3h0M82.0 158.8h0M170.9 170.6h0M165.7 166.4h0M169.3 169.6h0M186.8 161.6h0M201.8 162.1h0M168.5 155.9h0M179.6 166.7h0M176.5 155.9h0M170.8 170.0h0M155.8 171.4h0M141.8 171.6h0M126.8 160.6h0M138.3 171.8h0M115.0 165.3h0M172.8 168.5h0M119.1 159.6h0M163.6 170.4h0M138.2 170.4h0M178.5 169.5h0M124.6 169.1h0M155.5 170.0h0M142.0 162.8h0M83.4 161.5h0M116.4 169.6h0M149.5 168.3h0M149.0 169.8h0M154.5 171.8h0M107.2 166.5h0M133.6 169.1h0M134.1 172.2h0M144.1 172.8h0M160.0 167.8h0M151.1 171.6h0M150.7 171.4h0M119.2 160.1h0M160.6 168.6h0M98.1 156.4h0M109.4 165.5h0M204.4 162.2h0M139.5 172.7h0M176.2 163.1h0M135.8 168.6h0M107.9 162.5h0M196.9 163.8h0M143.1 170.1h0M140.1 169.9h0M165.8 162.8h0M111.4 168.4h0M130.3 171.5h0M140.1 167.6h0M155.6 161.7h0M140.5 165.6h0M151.5 170.7h0M150.9 167.5h0M86.5 157.6h0M155.9 166.2h0M119.5 167.5h0M102.6 159.8h0M153.5 167.5h0M168.0 162.0h0M107.5 166.8h0M127.8 169.3h0M165.9 168.5h0M134.6 166.4h0M127.7 168.2h0M121.9 165.1h0M170.8 170.1h0M137.5 171.2h0M169.4 164.5h0M94.1 164.3h0M144.4 172.7h0M156.3 169.8h0M134.5 165.0h0M192.2 164.3h0M136.6 161.7h0M151.1 171.6h0M102.5 167.2h0M150.4 170.9h0M164.8 171.4h0M138.9 165.2h0M136.1 165.0h0M155.6 171.5h0M134.8 168.0h0M167.4 167.1h0M155.5 167.3h0M150.1 172.2h0M155.4 163.4h0M179.5 161.2h0M151.2 172.8h0M108.9 166.6h0M149.9 171.4h0M136.6 168.8h0M183.3 166.4h0M174.2 170.3h0M144.6 168.1h0M151.0 160.6h0M158.6 169.3h0M143.9 171.6h0M168.2 167.7h0M169.3 168.4h0M155.0 171.9h0M152.3 171.6h0M135.1 163.1h0M126.9 162.2h0M132.1 167.2h0M179.2 166.7h0M204.8 164.6h0M163.5 166.2h0M88.3 159.9h0M150.0 168.8h0M132.8 167.2h0M138.9 155.9h0M136.7 169.1h0M154.2 165.9h0M129.5 162.5h0M131.0 168.1h0M150.4 163.9h0M130.9 171.1h0M173.1 167.1h0M109.0 167.7h0M100.8 166.3h0M150.9 164.5h0M98.8 164.6h0M143.0 165.0h0M158.0 171.5h0M156.0 172.5h0M208.9 162.4h0M135.0 172.1h0M170.1 169.6h0M124.2 168.4h0M157.0 166.8h0M131.8 168.1h0M143.1 171.1h0M85.7 159.6h0M149.9 168.7h0M145.4 166.3h0M186.9 167.0h0M134.4 171.0h0M139.3 164.3h0M153.8 172.7h0M119.1 165.9h0M125.4 161.5h0M165.3 171.9h0M116.3 169.8h0M183.4 159.8h0M149.3 168.2h0M149.2 171.3h0M144.5 170.8h0M154.4 172.3h0M137.6 171.7h0M137.3 162.9h0M179.9 169.4h0M121.4 160.8h0M172.0 171.1h0M155.5 171.8h0M140.8 172.1h0M193.8 165.9h0M169.3 170.6h0M143.5 167.2h0M179.4 166.4h0M136.9 169.5h0M113.5 168.0h0M123.8 167.6h0M150.6 172.3h0M150.2 166.2h0M143.4 172.0h0M152.0 161.5h0M90.5 161.6h0M149.9 172.9h0M142.9 168.9h0M174.6 168.7h0M140.0 169.5h0M201.6 158.7h0M107.8 165.3h0M131.8 171.1h0M144.9 171.2h0M123.5 164.9h0M162.1 168.9h0M148.8 163.5h0M173.0 170.8h0M143.9 172.0h0M172.5 170.4h0M135.9 165.0h0M168.8 164.3h0M171.6 170.3h0M160.7 169.2h0M161.3 157.0h0M125.1 169.9h0M191.2 167.6h0M150.8 169.9h0M158.1 170.1h0M125.3 170.3h0M158.9 171.3h0M207.3 162.6h0M129.9 164.0h0M121.1 169.8h0M123.6 168.1h0M138.4 168.4h0M133.3 169.9h0M129.5 172.0h0M164.7 168.6h0M141.8 170.9h0M188.1 165.4h0M159.7 168.4h0M130.1 171.3h0M124.7 170.5h0M125.0 164.2h0M131.3 168.5h0M119.8 166.7h0M155.0 167.5h0M134.0 172.3h0M110.1 159.0h0M114.6 160.9h0M132.1 168.0h0M157.2 169.4h0M134.8 164.6h0M166.8 170.6h0M129.9 168.7h0M149.8 165.3h0M151.7 164.6h0M119.9 162.5h0M126.7 164.3h0M191.3 163.9h0M131.0 170.6h0M142.1 168.3h0M154.9 172.7h0M159.3 171.2h0M168.4 166.1h0M134.2 172.2h0M158.7 162.7h0M173.5 161.1h0M154.1 169.3h0M144.8 170.9h0M133.5 165.6h0M197.7 160.5h0M201.0 164.4h0M144.4 169.2h0M158.4 165.1h0M138.5 167.2h0M143.1 171.5h0M90.8 164.1h0M144.9 165.1h0M154.5 164.8h0M149.4 160.1h0M143.8 167.1h0M161.4 164.5h0M111.2 164.0h0M134.7 159.9h0M155.7 171.5h0M167.1 162.6h0M125.4 171.0h0M127.0 171.7h0M153.6 166.1h0M168.7 167.0h0M124.0 171.2h0M116.3 165.6h0M123.2 168.4h0M192.5 167.8h0M163.0 170.0h0M142.0 169.1h0M154.8 170.4h0M140.7 169.1h0M140.4 172.3h0M81.6 162.1h0M118.6 169.0h0M174.5 168.6h0M110.2 157.3h0M150.1 171.3h0M151.1 168.3h0M138.5 172.7h0M129.8 171.8h0M138.9 170.5h0M135.3 167.2h0M151.4 155.8h0M119.6 166.6h0M159.9 170.0h0M86.9 163.0h0M91.6 164.7h0M149.7 160.8h0M213.8 158.0h0M124.0 167.5h0M163.2 171.0h0M107.9 165.2h0M141.2 161.7h0M155.8 171.5h0M133.5 172.2h0M138.5 172.5h0M152.9 163.5h0M105.7 161.9h0M142.5 165.3h0M160.6 162.6h0M139.8 166.1h0M92.8 154.8h0M160.0 161.0h0M196.7 165.0h0M135.9 165.3h0M149.5 161.1h0M164.0 170.9h0M170.0 165.0h0M158.4 161.9h0M160.5 171.8h0M133.6 171.9h0M144.2 161.8h0M106.0 162.7h0M140.3 171.3h0M120.6 168.2h0M151.3 166.5h0M168.8 170.9h0M110.9 168.1h0M155.8 168.9h0M177.5 170.4h0M159.4 160.2h0M127.0 162.4h0M164.3 166.2h0M169.6 164.3h0M142.3 161.2h0M120.5 163.1h0M150.6 172.4h0M177.2 165.9h0M188.9 163.7h0M104.3 166.7h0M129.9 160.9h0M154.6 160.1h0M133.6 170.2h0M85.7 162.9h0M190.7 167.8h0M144.0 166.2h0M142.8 172.8h0M152.0 169.4h0M171.5 169.3h0M109.7 163.7h0M150.2 172.0h0M162.7 165.9h0M160.5 170.1h0M143.8 171.9h0M173.0 168.7h0M133.6 162.3h0M126.4 171.0h0M160.8 165.4h0M123.3 164.7h0M151.1 168.2h0M92.4 164.1h0M203.7 163.5h0M142.9 164.7h0M137.1 169.0h0M144.6 166.7h0M116.4 165.2h0M150.2 170.9h0M134.9 163.5h0M154.1 169.5h0M158.1 168.6h0M149.2 168.4h0M201.9 165.6h0M150.5 172.2h0M141.2 163.3h0M199.8 163.0h0M171.4 164.6h0M156.4 166.1h0M162.0 171.6h0M167.8 170.8h0M137.8 164.0h0M140.3 171.9h0M172.8 171.1h0M135.8 171.9h0M143.9 171.7h0M120.5 168.5h0M151.2 172.8h0M142.4 166.2h0M122.7 159.0h0M99.4 166.8h0M162.7 170.7h0M152.6 172.5h0M177.5 159.3h0M167.2 163.6h0M83.7 162.7h0M117.0 163.7h0M159.1 171.0h0M150.7 168.4h0M138.0 168.4h0M135.4 164.9h0M133.4 170.9h0M151.4 168.4h0M137.9 162.4h0M150.1 171.4h0M115.6 170.2h0M157.4 167.4h0M108.5 164.0h0M177.5 169.9h0M140.2 169.7h0M164.2 166.4h0M101.1 161.8h0M152.1 171.8h0M163.1 172.1h0M122.8 165.5h0M130.9 170.6h0M152.7 171.3h0M142.0 166.1h0M154.5 172.2h0M152.4 170.3h0M153.0 166.8h0M157.5 170.3h0M150.8 169.7h0M136.8 165.6h0M143.0 157.7h0M126.5 156.8h0M168.8 171.3h0M122.0 159.2h0M129.4 166.9h0M148.7 172.3h0M162.6 172.0h0M143.8 172.8h0M162.6 162.2h0M189.4 161.8h0M126.2 170.1h0M130.4 169.9h0M135.4 167.7h0M150.7 167.8h0M199.8 161.4h0M157.7 172.4h0M131.0 162.9h0M165.0 171.9h0M121.4 165.4h0M156.7 168.7h0M133.9 170.8h0M98.4 155.3h0M133.8 156.4h0M111.0 169.1h0M151.9 170.9h0M142.9 164.4h0M170.0 170.1h0M111.4 165.3h0M155.3 172.2h0M158.4 169.2h0M166.2 166.1h0M139.9 172.1h0M153.5 169.4h0M157.9 165.9h0M169.5 168.6h0M142.7 171.3h0M152.0 164.7h0M142.6 172.1h0M143.1 166.1h0M157.4 162.7h0M94.0 165.8h0M154.1 170.9h0M193.2 157.0h0M124.0 167.3h0M133.7 167.5h0M181.1 156.5h0M129.2 161.0h0M151.1 169.7h0M161.9 164.9h0M177.4 167.2h0M169.4 158.7h0M88.9 159.4h0M127.6 170.3h0M130.4 155.2h0M152.4 168.6h0M144.1 165.8h0M144.2 162.2h0M118.3 168.9h0M149.0 172.3h0M132.1 169.3h0M151.7 171.6h0M126.7 168.2h0M178.5 169.1h0M161.2 164.4h0M136.9 163.5h0M107.0 158.5h0M168.8 170.4h0M123.3 167.8h0M153.2 170.8h0M142.9 168.2h0M137.1 168.4h0M152.7 169.2h0M207.1 158.6h0M134.5 171.5h0M124.0 165.2h0M169.9 167.7h0M158.3 166.9h0M127.1 168.0h0M128.1 166.3h0M151.6 166.8h0M113.0 162.1h0M149.8 168.6h0M125.8 168.9h0M136.5 164.1h0M143.3 166.8h0M189.8 162.6h0M154.6 161.4h0M116.8 170.0h0M145.5 170.6h0M130.6 169.3h0M177.8 167.0h0M137.6 158.4h0M166.5 168.1h0M105.3 168.5h0M136.9 171.7h0M151.5 167.9h0M160.8 158.0h0M121.9 166.8h0M140.6 171.9h0M120.3 165.2h0M123.7 167.3h0M153.0 169.6h0M160.7 169.3h0M135.9 171.3h0M136.2 171.1h0M159.6 170.3h0M161.9 169.9h0M187.3 163.1h0M208.1 158.3h0M158.9 166.6h0M125.5 171.3h0M142.8 169.4h0M169.5 169.1h0M138.8 168.3h0M157.5 168.5h0M130.2 164.1h0M158.8 170.0h0M143.5 170.1h0M154.1 163.4h0M144.6 170.4h0M180.8 167.2h0M163.2 153.2h0M160.1 172.2h0M158.6 168.9h0M148.9 170.8h0M132.3 167.6h0M177.5 156.7h0M151.3 170.5h0M137.5 165.8h0M179.1 165.1h0M139.7 157.7h0M175.1 165.0h0M113.9 169.3h0M143.8 167.3h0M205.9 163.3h0M140.8 160.9h0M150.2 167.6h0M117.5 166.0h0M144.3 166.8h0M167.5 166.8h0M175.0 167.0h0M169.3 158.9h0M86.8 163.0h0M172.0 170.2h0M186.3 155.9h0M151.2 169.5h0M135.8 167.0h0M165.5 162.3h0M115.8 168.2h0M152.8 171.0h0M134.0 170.3h0M165.2 167.5h0M142.6 169.0h0M167.5 164.7h0M102.8 164.5h0M134.9 169.9h0M156.6 157.5h0M153.9 168.2h0M128.4 171.3h0M151.1 171.5h0M121.7 167.8h0M154.1 171.3h0M153.6 172.7h0M156.5 169.7h0M139.5 172.5h0M143.0 166.7h0M161.6 169.6h0M151.9 170.2h0M164.1 169.2h0M159.6 170.5h0M161.9 166.9h0M151.1 160.3h0M171.6 168.3h0M195.9 165.8h0M90.1 164.4h0M150.6 168.3h0M158.3 159.1h0M126.1 160.0h0M131.6 169.8h0M151.3 169.7h0M182.8 155.5h0M181.9 159.6h0M111.7 169.5h0M125.2 169.2h0M150.0 162.9h0M172.3 166.9h0M168.6 170.0h0M183.1 169.5h0M157.7 162.6h0M200.8 156.2h0M143.2 161.3h0M126.0 156.3h0M149.8 170.5h0M123.0 170.1h0M205.7 158.9h0M194.9 162.6h0M145.5 172.6h0M125.7 166.0h0M158.9 167.8h0M116.3 161.1h0M167.6 166.3h0M163.8 166.2h0M123.6 169.7h0M149.0 166.8h0M150.3 164.9h0M161.0 170.5h0M133.9 171.0h0M103.8 166.8h0M154.8 170.7h0M152.5 172.0h0M142.7 170.7h0M161.6 169.5h0M140.4 164.2h0M171.0 163.8h0M154.5 170.0h0M157.7 166.5h0M159.9 164.2h0M109.7 163.7h0M144.4 169.1h0M138.1 163.8h0M129.2 168.3h0M136.4 171.6h0M138.6 164.4h0M177.5 168.2h0M141.8 158.1h0M158.1 169.1h0M184.2 165.8h0M139.6 163.2h0M169.0 171.3h0M125.7 164.8h0M132.8 170.5h0M137.7 170.9h0M172.7 169.1h0M181.3 169.6h0M150.1 166.5h0M122.1 171.1h0M98.0 166.6h0M107.5 167.2h0M167.7 169.0h0M128.1 169.9h0M159.1 170.5h0M156.9 170.4h0M173.2 169.7h0M165.1 170.2h0M133.4 168.0h0M151.3 169.4h0M141.0 166.2h0M148.8 172.9h0M201.6 163.1h0M112.1 167.9h0M132.7 171.4h0M144.9 172.1h0M160.3 170.4h0M155.0 169.9h0M179.6 167.7h0M135.7 170.0h0M119.6 169.5h0M208.0 163.5h0M153.1 163.6h0M138.7 170.0h0M156.5 162.0h0M143.6 170.9h0M144.8 171.2h0M153.7 172.7h0M160.3 159.6h0M149.7 162.0h0M88.8 160.3h0M153.5 172.8h0M159.4 171.4h0M141.6 168.8h0M158.1 167.0h0M129.5 166.7h0M156.0 171.3h0M150.7 168.4h0M155.1 172.6h0M159.5 164.3h0M143.2 172.6h0M156.0 171.6h0M107.3 163.2h0M86.3 153.9h0M127.7 163.2h0M163.3 168.6h0M173.6 161.7h0M110.7 165.9h0M150.5 164.9h0M120.2 167.8h0M145.3 172.2h0M150.6 172.5h0M87.4 157.4h0M115.9 167.2h0M134.4 170.0h0M87.4 160.1h0M183.5 168.0h0M164.3 161.4h0M208.4 157.7h0M140.9 171.0h0M155.9 171.6h0M111.0 161.5h0M154.6 164.0h0M84.1 161.0h0M138.3 170.8h0M201.1 162.3h0M129.4 170.9h0M133.7 168.6h0M177.1 168.2h0M83.5 163.2h0M138.6 172.4h0M151.4 170.4h0M158.8 167.8h0M153.8 162.4h0M119.2 170.1h0M197.6 164.7h0M178.8 168.2h0M92.6 165.1h0M117.4 166.8h0M143.4 172.8h0M162.7 163.6h0M137.9 170.3h0M129.2 171.3h0M161.1 165.7h0M177.7 157.3h0M125.0 167.4h0M181.9 156.6h0M158.6 171.6h0M143.1 166.6h0M152.6 167.0h0M201.8 160.4h0M177.5 169.9h0M141.0 156.4h0M129.5 169.7h0M134.5 160.3h0M150.6 165.7h0M182.0 158.0h0M209.6 161.9h0M162.7 167.5h0M171.9 159.7h0M167.3 166.8h0M144.3 168.6h0M136.8 168.0h0M190.6 159.2h0M139.3 164.9h0M151.6 165.0h0M160.2 169.5h0M170.4 170.1h0M188.4 166.2h0M158.1 165.5h0M174.9 156.6h0M155.3 170.2h0M192.5 166.0h0M130.1 167.9h0M151.4 172.7h0M142.4 155.9h0M121.3 165.4h0M166.4 170.6h0M157.0 155.3h0M157.8 169.9h0M179.4 169.3h0M160.4 172.0h0M144.4 172.9h0M123.5 169.9h0M173.8 166.4h0M141.9 172.5h0M188.3 160.5h0M113.9 166.6h0M156.7 167.9h0M125.9 161.9h0M139.7 167.8h0M144.5 168.2h0M154.6 172.1h0M151.6 168.7h0M212.1 160.2h0M141.6 169.0h0M202.9 158.0h0M125.5 162.0h0M137.9 166.1h0M153.8 170.6h0M123.3 154.3h0M153.5 166.0h0M112.2 166.4h0M159.4 169.4h0M145.0 168.5h0M110.0 163.9h0M167.0 166.6h0M156.7 167.5h0M174.6 160.4h0M133.8 158.2h0M103.0 167.4h0M154.4 166.5h0M116.6 164.1h0M136.4 172.2h0M168.1 170.7h0M142.2 169.9h0M172.8 164.4h0M152.1 171.6h0M111.0 167.9h0M152.9 171.7h0M152.1 171.8h0M144.4 171.4h0M90.0 159.9h0M92.3 163.6h0M134.9 169.6h0M181.2 165.6h0M126.0 171.1h0M168.0 163.9h0M168.3 171.3h0M133.1 169.6h0M88.3 160.4h0M140.3 167.8h0M141.4 164.5h0M163.3 170.4h0M116.0 168.0h0M157.5 172.0h0M91.3 165.0h0M139.0 171.1h0M110.8 163.0h0M154.1 167.6h0M141.9 172.7h0M139.1 170.4h0M172.7 168.7h0M137.0 168.7h0M200.5 162.9h0M174.5 164.7h0M165.9 168.1h0M130.6 170.8h0M187.9 159.8h0M161.7 166.7h0M110.5 164.4h0M161.2 167.8h0M113.1 166.3h0M140.5 168.6h0M153.1 168.4h0M131.5 167.3h0M187.8 163.5h0M149.6 165.0h0M174.4 158.5h0M125.8 168.9h0M99.3 164.6h0M166.6 171.3h0M155.0 169.4h0M113.0 161.2h0M149.9 171.7h0M116.4 169.6h0M155.3 160.9h0M131.6 169.5h0M179.3 165.7h0M153.5 172.6h0M202.3 161.9h0M153.9 165.0h0M186.9 162.9h0M93.1 158.5h0M132.7 160.0h0M182.5 165.0h0M165.8 162.3h0M170.7 164.4h0M174.1 166.4h0M167.7 159.6h0M187.4 168.3h0M135.3 157.6h0M83.7 161.3h0M142.0 172.6h0M156.8 170.1h0M167.1 163.0h0M191.1 162.0h0M119.6 157.4h0M145.5 170.3h0M103.3 157.8h0M121.9 170.0h0M161.9 172.1h0M155.2 168.0h0M141.0 171.4h0M141.3 171.6h0M149.2 171.3h0M161.9 161.8h0M106.9 166.2h0M138.0 170.6h0M150.1 167.8h0M121.7 165.2h0M141.4 166.9h0M151.3 171.5h0M136.2 163.9h0M161.2 169.7h0M155.4 166.8h0M124.9 166.4h0M105.3 158.5h0M158.2 167.0h0M155.0 171.7h0M142.1 158.2h0M152.1 171.5h0M91.7 163.9h0M126.2 167.1h0M129.2 162.8h0M157.3 171.3h0M142.5 169.7h0M150.8 164.9h0M153.2 171.5h0M172.2 168.0h0M153.2 159.8h0M159.9 165.2h0M153.0 167.5h0M150.7 171.1h0M101.2 164.4h0M129.0 167.7h0M137.3 171.2h0M150.9 158.8h0M158.8 168.0h0M142.1 171.4h0M121.0 168.4h0M168.3 160.4h0M134.1 167.2h0M179.2 154.3h0M122.0 164.8h0M199.2 164.7h0M155.2 169.5h0M156.7 171.3h0M155.1 170.2h0M139.6 172.1h0M90.8 165.1h0M130.4 171.9h0M140.5 162.2h0M116.3 169.3h0M141.8 171.8h0M116.3 160.4h0M98.9 166.8h0M155.1 171.7h0M143.2 156.9h0M168.1 169.3h0M142.4 172.1h0M159.8 172.4h0M165.5 168.4h0M158.7 167.8h0M192.2 165.6h0M120.6 168.4h0M150.8 170.7h0M165.8 169.7h0M115.5 169.8h0M171.7 168.7h0M118.6 166.7h0M133.2 170.4h0M125.4 167.6h0M108.3 164.5h0M153.0 165.0h0M154.0 167.6h0M129.2 171.3h0M165.2 169.3h0M149.0 161.4h0M141.5 167.3h0M190.7 166.8h0M98.1 166.3h0M117.7 158.0h0M127.6 171.5h0M137.0 169.0h0M156.9 170.7h0M141.7 161.4h0M141.8 172.6h0M187.9 160.5h0M160.4 159.6h0M106.0 161.4h0M161.3 172.1h0M94.8 164.4h0M127.6 164.9h0M144.0 170.6h0M149.4 164.5h0M131.7 171.4h0M178.9 165.7h0M151.9 172.2h0M131.1 160.5h0M158.6 163.6h0M138.0 171.2h0M129.8 168.0h0M141.8 168.2h0M129.9 170.9h0M157.6 165.3h0M171.2 164.0h0M169.4 170.8h0M89.9 159.0h0M158.7 167.4h0M150.5 171.1h0M95.4 157.1h0M149.4 168.6h0M123.0 168.7h0M182.1 159.2h0M135.6 171.3h0M141.0 170.7h0M188.4 164.5h0M149.0 172.9h0M141.7 168.2h0M150.4 164.1h0M145.4 159.8h0M137.2 171.0h0M144.7 169.3h0M117.2 164.2h0M133.4 172.2h0M190.3 165.1h0M150.0 166.8h0M151.9 171.3h0M202.7 164.6h0M184.6 167.9h0M176.4 168.7h0M161.0 166.4h0M153.4 163.9h0M185.4 166.7h0M158.7 169.1h0M173.4 165.1h0M165.1 168.7h0M150.6 171.3h0M155.3 160.5h0M124.5 171.4h0M162.1 172.3h0M178.8 160.3h0M129.9 161.6h0M161.2 167.8h0M116.5 165.9h0M157.9 160.9h0M138.6 170.1h0M161.7 169.4h0M142.8 170.3h0M168.5 171.3h0M138.9 154.1h0M137.8 160.0h0M137.5 161.1h0M149.6 162.2h0M145.1 166.9h0M148.8 167.5h0M136.3 171.8h0M195.5 166.0h0M141.9 165.6h0M86.1 161.1h0M137.9 161.2h0M138.0 165.8h0M90.0 159.9h0M127.1 159.5h0M213.9 156.7h0M131.0 166.2h0M141.0 164.9h0M141.1 161.6h0M175.3 170.7h0M131.9 162.0h0M109.3 157.3h0M120.5 163.5h0M143.8 171.4h0M126.0 171.2h0M190.5 156.4h0M144.9 171.1h0M139.4 170.8h0M93.2 164.1h0M142.9 157.5h0M129.7 159.9h0M166.2 171.6h0M168.7 165.8h0M92.1 153.4h0M149.6 171.1h0M180.0 165.2h0M178.0 167.9h0M144.0 170.5h0M154.2 169.1h0M149.6 168.9h0M167.4 169.4h0M135.5 168.3h0M187.0 165.2h0M118.6 167.2h0M145.4 170.3h0M138.1 171.1h0M154.3 160.0h0M144.2 164.5h0M141.7 163.0h0M127.3 169.4h0M145.5 166.3h0M188.4 168.4h0M156.8 170.9h0M138.8 170.3h0M166.4 169.9h0M149.5 172.7h0M132.0 160.9h0M159.5 172.4h0M170.9 171.3h0M112.9 167.8h0M141.3 163.8h0M126.9 167.1h0M142.2 172.7h0M100.4 163.7h0M125.6 170.3h0M134.4 167.2h0M137.7 169.6h0M156.0 166.5h0M141.5 169.4h0M136.4 168.8h0M179.5 166.5h0M165.0 165.3h0M137.9 172.3h0M144.4 172.8h0M150.7 162.2h0M152.5 169.8h0M137.6 169.1h0M145.3 169.7h0M140.0 171.0h0M178.2 164.9h0M150.8 165.2h0M197.5 161.3h0M127.8 169.6h0M142.9 165.8h0M162.2 168.0h0M118.1 156.3h0M136.5 169.0h0M176.2 154.8h0M133.6 168.1h0M171.4 164.8h0M154.0 168.4h0M150.8 171.0h0M122.0 165.6h0M182.4 154.8h0M117.1 170.3h0M129.7 169.2h0M125.7 163.5h0M160.9 170.1h0M212.8 157.8h0M164.2 168.9h0M157.9 168.0h0M186.0 167.7h0M178.8 166.2h0M119.6 168.6h0M155.6 171.8h0M159.7 172.1h0M126.2 171.7h0M118.9 164.7h0M183.6 160.7h0M160.6 162.5h0M143.0 161.8h0M130.0 166.2h0M153.2 166.9h0M135.7 172.1h0M116.4 169.1h0M142.2 165.5h0M163.3 168.2h0M125.2 170.1h0M180.5 155.0h0M145.0 170.2h0M158.9 169.8h0M202.3 163.9h0M155.2 172.0h0M164.3 164.3h0M183.6 169.0h0M166.1 166.7h0M162.5 171.1h0M163.0 170.2h0M170.7 161.6h0M155.3 171.1h0M141.2 170.9h0M152.7 165.0h0M141.3 166.0h0M149.1 168.6h0M149.6 169.2h0M141.9 166.6h0M158.5 172.5h0M93.0 158.6h0M184.0 168.3h0M126.4 171.7h0M143.9 171.8h0M135.1 170.9h0M141.3 157.8h0M143.4 171.2h0M104.9 166.9h0M167.5 161.4h0M149.4 172.3h0M202.4 159.5h0M138.9 165.8h0M162.7 157.0h0M144.2 162.6h0M125.3 166.5h0M144.9 169.4h0M133.0 170.8h0" stroke="#bdbdbd" stroke-opacity="0.8" stroke-width="1.24" stroke-linecap="round" fill="none"/>
<path d="M39.4 134.9h0M41.2 134.9h0M45.5 134.9h0M47.3 135.6h0M50.5 141.4h0M55.7 141.4h0M60.4 141.4h0M50.5 145.8h0M54.7 145.8h0M61.3 149.3h0M67.4 145.8h0M69.7 141.4h0M72.7 141.4h0M74.5 139.7h0M72.4 144.0h0M75.7 151.9h0M83.7 136.7h0M80.9 149.3h0M85.8 143.2h0M87.2 145.8h0M92.0 138.8h0M91.3 142.3h0M96.7 147.6h0M100.2 136.7h0M99.0 141.4h0M103.4 142.3h0M106.9 136.7h0M110.4 136.7h0M111.2 143.2h0M113.9 145.8h0M104.2 147.6h0M108.6 147.6h0M113.5 149.3h0M83.3 137.4h0M85.5 142.8h0M90.9 140.7h0M93.1 145.0h0M99.7 138.5h0M101.9 142.8h0M104.1 145.0h0M108.5 140.7h0M112.8 149.4h0M116.1 139.6h0M118.3 142.8h0M120.5 145.0h0M122.7 138.5h0M126.0 146.1h0M128.2 150.5h0M119.4 150.5h0M110.7 147.2h0M106.3 149.4h0M96.4 149.4h0M88.8 150.5h0M84.4 149.4h0M115.0 134.1h0M130.4 140.7h0M132.6 138.5h0M134.7 142.8h0M104.1 148.3h0M108.0 151.5h0M115.5 152.0h0M121.0 152.3h0M124.0 149.0h0M111.0 150.8h0M117.0 147.5h0M98.0 152.0h0M92.0 151.8h0M86.0 152.5h0M78.5 152.8h0M124.5 143.0h0M129.0 145.5h0M136.5 147.5h0M131.0 152.0h0M102.0 131.5h0M96.0 133.0h0M58.0 131.0h0M62.0 134.0h0M38.0 134.2h0M34.0 134.4h0" stroke="#3a3af0" stroke-opacity="1.0" stroke-width="1.60" stroke-linecap="round" fill="none"/>
<path d="M174.0 108.1h0M178.3 132.7h0M177.4 138.8h0M175.7 145.8h0M178.3 151.0h0M183.6 152.8h0M195.0 151.0h0M207.2 145.8h0M174.5 147.2h0M171.0 152.8h0M156.0 150.0h0M160.0 152.5h0M166.0 153.0h0M188.0 152.0h0M199.0 152.8h0" stroke="#f03030" stroke-opacity="1.0" stroke-width="1.60" stroke-linecap="round" fill="none"/>
<line x1="23.3" y1="153.03" x2="226.0" y2="153.03" stroke="#555" stroke-width="0.55" stroke-dasharray="0.9,1.7"/>
<line x1="141.34" y1="21.9" x2="141.34" y2="180.3" stroke="#555" stroke-width="0.55" stroke-dasharray="0.9,1.7"/>
<line x1="152.86" y1="21.9" x2="152.86" y2="180.3" stroke="#555" stroke-width="0.55" stroke-dasharray="0.9,1.7"/>
<text x="83.90" y="28.10" font-size="5.2" text-anchor="start" fill="#3a3af0" font-weight="normal" stroke="#3a3af0" stroke-width="0.12">SERPINB3</text>
<text x="43.40" y="96.70" font-size="5.2" text-anchor="start" fill="#3a3af0" font-weight="normal" stroke="#3a3af0" stroke-width="0.12">APC</text>
<text x="101.60" y="96.70" font-size="5.2" text-anchor="start" fill="#3a3af0" font-weight="normal" stroke="#3a3af0" stroke-width="0.12">MUC5AC</text>
<text x="76.60" y="117.40" font-size="5.2" text-anchor="start" fill="#3a3af0" font-weight="normal" stroke="#3a3af0" stroke-width="0.12">LSR</text>
<text x="54.70" y="124.10" font-size="5.2" text-anchor="start" fill="#3a3af0" font-weight="normal" stroke="#3a3af0" stroke-width="0.12">ALOX15</text>
<text x="87.60" y="124.10" font-size="5.2" text-anchor="start" fill="#3a3af0" font-weight="normal" stroke="#3a3af0" stroke-width="0.12">KDM4B</text>
<text x="107.70" y="124.10" font-size="5.2" text-anchor="start" fill="#3a3af0" font-weight="normal" stroke="#3a3af0" stroke-width="0.12">CPO</text>
<text x="33.80" y="131.10" font-size="5.2" text-anchor="start" fill="#3a3af0" font-weight="normal" stroke="#3a3af0" stroke-width="0.12">STRADA</text>
<text x="68.00" y="129.70" font-size="5.2" text-anchor="start" fill="#3a3af0" font-weight="normal" stroke="#3a3af0" stroke-width="0.12">ACOX1</text>
<text x="87.20" y="131.40" font-size="5.2" text-anchor="start" fill="#3a3af0" font-weight="normal" stroke="#3a3af0" stroke-width="0.12">JAK1</text>
<text x="101.10" y="129.70" font-size="5.2" text-anchor="start" fill="#3a3af0" font-weight="normal" stroke="#3a3af0" stroke-width="0.12">KCNJ15</text>
<text x="56.60" y="135.40" font-size="5.2" text-anchor="start" fill="#3a3af0" font-weight="normal" stroke="#3a3af0" stroke-width="0.12">DOCK11</text>
<text x="122.30" y="131.90" font-size="5.2" text-anchor="start" fill="#3a3af0" font-weight="normal" stroke="#3a3af0" stroke-width="0.12">CHST11</text>
<text x="126.10" y="138.10" font-size="5.2" text-anchor="start" fill="#3a3af0" font-weight="normal" stroke="#3a3af0" stroke-width="0.12">IFI30</text>
<text x="135.00" y="143.70" font-size="5.2" text-anchor="start" fill="#3a3af0" font-weight="normal" stroke="#3a3af0" stroke-width="0.12">MALAT1</text>
<text x="164.70" y="113.50" font-size="5.2" text-anchor="start" fill="#f03030" font-weight="normal" stroke="#f03030" stroke-width="0.12">SAT1</text>
<text x="165.70" y="131.90" font-size="5.2" text-anchor="start" fill="#f03030" font-weight="normal" stroke="#f03030" stroke-width="0.12">LIMK2</text>
<text x="182.70" y="135.40" font-size="5.2" text-anchor="start" fill="#f03030" font-weight="normal" stroke="#f03030" stroke-width="0.12">FFAR2</text>
<text x="157.00" y="143.30" font-size="5.2" text-anchor="start" fill="#f03030" font-weight="normal" stroke="#f03030" stroke-width="0.12">SOD2</text>
<text x="172.70" y="142.10" font-size="5.2" text-anchor="start" fill="#f03030" font-weight="normal" stroke="#f03030" stroke-width="0.12">DUSP1</text>
<text x="201.10" y="146.50" font-size="5.2" text-anchor="start" fill="#f03030" font-weight="normal" stroke="#f03030" stroke-width="0.12">MT−ND4</text>
<text x="157.00" y="148.90" font-size="5.2" text-anchor="start" fill="#f03030" font-weight="normal" stroke="#f03030" stroke-width="0.12">CXCL8</text>
<text x="176.20" y="148.90" font-size="5.2" text-anchor="start" fill="#f03030" font-weight="normal" stroke="#f03030" stroke-width="0.12">AQP9</text>
<text x="157.00" y="154.40" font-size="5.2" text-anchor="start" fill="#f03030" font-weight="normal" stroke="#f03030" stroke-width="0.12">IFITM3</text>
<text x="175.20" y="156.10" font-size="5.2" text-anchor="start" fill="#f03030" font-weight="normal" stroke="#f03030" stroke-width="0.12">RPLP2</text>
<text x="194.10" y="156.10" font-size="5.2" text-anchor="start" fill="#f03030" font-weight="normal" stroke="#f03030" stroke-width="0.12">CYTH4</text>
<text x="236.20" y="10.20" font-size="13.3" text-anchor="start" fill="#000" font-weight="bold" >b.</text>
<line x1="256.00" y1="21.90" x2="256.00" y2="180.30" stroke="#888" stroke-width="0.9" />
<line x1="256.00" y1="180.30" x2="458.60" y2="180.30" stroke="#888" stroke-width="0.9" />
<line x1="253.50" y1="173.10" x2="256.00" y2="173.10" stroke="#888" stroke-width="0.7" />
<text x="252.70" y="175.50" font-size="6.9" text-anchor="end" fill="#1a1a1a" font-weight="normal"  stroke="#1a1a1a" stroke-width="0.14">0.0</text>
<line x1="253.50" y1="138.10" x2="256.00" y2="138.10" stroke="#888" stroke-width="0.7" />
<text x="252.70" y="140.50" font-size="6.9" text-anchor="end" fill="#1a1a1a" font-weight="normal"  stroke="#1a1a1a" stroke-width="0.14">2.5</text>
<line x1="253.50" y1="103.10" x2="256.00" y2="103.10" stroke="#888" stroke-width="0.7" />
<text x="252.70" y="105.50" font-size="6.9" text-anchor="end" fill="#1a1a1a" font-weight="normal"  stroke="#1a1a1a" stroke-width="0.14">5.0</text>
<line x1="253.50" y1="68.10" x2="256.00" y2="68.10" stroke="#888" stroke-width="0.7" />
<text x="252.70" y="70.50" font-size="6.9" text-anchor="end" fill="#1a1a1a" font-weight="normal"  stroke="#1a1a1a" stroke-width="0.14">7.5</text>
<line x1="253.50" y1="33.10" x2="256.00" y2="33.10" stroke="#888" stroke-width="0.7" />
<text x="252.70" y="35.50" font-size="6.9" text-anchor="end" fill="#1a1a1a" font-weight="normal"  stroke="#1a1a1a" stroke-width="0.14">10.0</text>
<line x1="288.30" y1="180.30" x2="288.30" y2="182.80" stroke="#888" stroke-width="0.7" />
<text x="288.30" y="189.00" font-size="6.9" text-anchor="middle" fill="#1a1a1a" font-weight="normal"  stroke="#1a1a1a" stroke-width="0.14">−4</text>
<line x1="334.30" y1="180.30" x2="334.30" y2="182.80" stroke="#888" stroke-width="0.7" />
<text x="334.30" y="189.00" font-size="6.9" text-anchor="middle" fill="#1a1a1a" font-weight="normal"  stroke="#1a1a1a" stroke-width="0.14">−2</text>
<line x1="380.30" y1="180.30" x2="380.30" y2="182.80" stroke="#888" stroke-width="0.7" />
<text x="380.30" y="189.00" font-size="6.9" text-anchor="middle" fill="#1a1a1a" font-weight="normal"  stroke="#1a1a1a" stroke-width="0.14">0</text>
<line x1="426.30" y1="180.30" x2="426.30" y2="182.80" stroke="#888" stroke-width="0.7" />
<text x="426.30" y="189.00" font-size="6.9" text-anchor="middle" fill="#1a1a1a" font-weight="normal"  stroke="#1a1a1a" stroke-width="0.14">2</text>
<text x="357.30" y="196.2" font-size="8.1" text-anchor="middle" fill="#111" stroke="#111" stroke-width="0.14">Average log<tspan font-size="5.6" dy="1.8">2</tspan><tspan dy="-1.8"> FoldChange</tspan></text>
<text x="357.30" y="19.40" font-size="6.8" text-anchor="middle" fill="#111" font-weight="normal"  stroke="#111" stroke-width="0.14">PLHIV−ART&lt;3m vs HIV−</text>
<text x="0" y="0" font-size="8.1" text-anchor="middle" fill="#111" stroke="#111" stroke-width="0.14" transform="translate(234.20,100.8) rotate(-90)">− log<tspan font-size="5.6" dy="1.8">10</tspan><tspan dy="-1.8"> adjusted P−value</tspan></text>
<path d="M367.8 155.8h0M391.6 155.2h0M348.0 169.5h0M364.9 159.2h0M357.9 171.7h0M372.0 163.8h0M387.5 172.5h0M347.1 172.7h0M386.9 166.1h0M409.8 164.4h0M357.6 168.1h0M400.7 169.6h0M357.1 169.6h0M337.8 165.7h0M351.4 166.8h0M352.7 155.8h0M367.7 160.5h0M409.1 169.6h0M351.1 164.2h0M370.2 169.7h0M434.5 155.0h0M405.0 171.8h0M440.3 164.5h0M393.1 170.8h0M358.6 170.3h0M387.8 161.8h0M416.7 172.6h0M397.4 158.0h0M362.0 165.5h0M357.7 163.7h0M390.1 157.9h0M430.7 163.8h0M394.7 162.0h0M358.3 159.4h0M338.4 165.1h0M390.0 159.2h0M347.0 158.3h0M421.5 159.2h0M350.3 165.5h0M411.5 173.0h0M370.0 168.4h0M320.6 166.2h0M333.6 157.8h0M410.4 167.3h0M416.8 171.4h0M401.7 158.9h0M393.7 172.1h0M395.3 170.2h0M394.8 168.6h0M406.4 160.3h0M391.3 164.9h0M370.7 165.1h0M360.4 167.0h0M423.6 155.3h0M393.9 171.6h0M359.3 162.4h0M395.0 173.0h0M393.0 171.7h0M442.8 167.3h0M367.6 155.7h0M445.5 168.5h0M408.2 158.8h0M360.2 172.2h0M399.8 159.4h0M396.0 156.6h0M364.8 157.4h0M372.1 167.8h0M387.5 161.8h0M414.5 170.9h0M365.6 169.6h0M367.1 159.8h0M421.4 155.1h0M397.2 172.3h0M411.8 161.4h0M358.4 158.8h0M390.2 160.1h0M408.2 159.8h0M372.8 167.8h0M373.8 168.8h0M353.6 166.4h0M364.4 163.0h0M404.0 168.4h0M367.6 168.2h0M394.4 167.5h0M322.5 156.3h0M392.0 171.1h0M398.7 170.9h0M392.9 161.0h0M405.0 168.0h0M360.0 165.6h0M366.2 160.9h0M391.6 156.5h0M369.2 155.0h0M390.8 155.1h0M366.8 161.4h0M368.8 164.7h0M396.4 160.6h0M388.7 156.4h0M358.2 165.8h0M394.5 169.0h0M393.1 173.0h0M403.7 166.4h0M407.8 167.1h0M371.3 173.1h0M343.0 162.0h0M372.4 155.6h0M366.2 155.1h0M351.5 166.0h0M399.4 167.5h0M386.6 160.6h0M373.8 160.1h0M400.9 157.9h0M397.6 155.8h0M398.6 157.0h0M370.4 158.8h0M355.1 169.2h0M389.5 171.6h0M365.0 156.2h0M425.8 156.3h0M370.8 167.1h0M361.3 167.8h0M406.3 158.4h0M365.2 160.6h0M362.7 163.8h0M367.3 161.4h0M356.5 161.9h0M343.2 159.5h0M420.4 157.7h0M394.4 163.2h0M341.2 161.8h0M334.7 165.5h0M426.1 168.8h0M351.1 173.1h0M405.9 161.5h0M388.2 169.0h0M371.5 155.6h0M358.6 172.4h0M387.8 166.2h0M374.1 162.1h0M361.0 172.5h0M362.6 157.2h0M374.0 168.3h0M372.3 166.9h0M423.8 168.4h0M346.8 164.6h0M395.0 171.6h0M365.7 169.3h0M322.7 159.8h0M407.5 157.6h0M362.8 165.8h0M399.8 172.8h0M371.0 172.2h0M360.2 172.2h0M414.2 155.3h0M372.2 157.3h0M412.6 166.1h0M402.5 166.0h0M367.5 157.1h0M363.1 164.0h0M358.6 156.3h0M373.1 169.3h0M392.0 158.3h0M409.2 172.9h0M367.6 165.6h0M340.1 158.9h0M373.4 171.1h0M337.6 165.2h0M426.1 163.2h0M372.1 156.4h0M406.1 155.1h0M402.6 166.4h0M322.5 168.3h0M361.4 173.1h0M360.6 166.2h0M392.2 162.6h0M340.0 165.3h0M372.6 161.0h0M357.3 169.1h0M319.5 159.0h0M422.2 164.0h0M396.7 169.8h0M369.4 160.9h0M369.4 169.3h0M386.6 166.9h0M404.8 166.2h0M343.9 169.7h0M359.1 161.9h0M368.3 168.8h0M317.6 162.6h0M364.3 165.0h0M389.7 169.2h0M372.5 155.5h0M399.5 159.0h0M436.4 164.7h0M357.2 159.8h0M390.7 163.0h0M441.1 156.5h0M390.7 161.7h0M370.2 165.0h0M402.9 164.2h0M315.7 168.2h0M364.2 166.2h0M352.7 157.3h0M387.6 156.0h0M364.6 166.8h0M357.1 172.3h0M390.8 156.7h0M388.3 166.9h0M395.5 168.5h0M366.5 165.8h0M403.5 159.3h0M431.3 166.3h0M405.0 170.3h0M426.6 168.8h0M403.6 168.3h0M389.4 165.7h0M409.0 172.8h0M366.1 171.5h0M432.7 164.2h0M320.4 168.3h0M331.8 168.7h0M356.8 159.5h0M362.3 163.9h0M390.5 168.8h0M398.6 170.1h0M433.8 160.5h0M401.2 166.9h0M388.5 167.8h0M366.1 160.3h0M362.9 167.6h0M392.4 167.1h0M350.5 171.9h0M374.1 169.8h0M391.6 172.7h0M359.2 157.5h0M406.4 166.3h0M393.4 172.4h0M355.2 167.0h0M356.6 166.8h0M395.1 165.7h0M314.8 167.9h0M350.7 171.5h0M366.8 156.8h0M390.9 167.3h0M371.3 167.0h0M363.1 168.3h0M371.1 155.3h0M406.6 166.6h0M389.7 162.6h0M352.1 158.7h0M410.0 161.7h0M390.2 171.4h0M359.2 163.2h0M399.0 170.1h0M391.9 155.2h0M396.2 162.7h0M370.1 161.8h0M425.5 165.7h0M387.8 159.9h0M371.0 170.7h0M372.2 171.5h0M406.6 162.7h0M352.7 173.0h0M372.3 171.1h0M389.9 167.3h0M410.9 173.0h0M396.9 168.6h0M436.8 168.8h0M397.5 162.8h0M386.4 156.0h0M401.2 162.3h0M390.4 155.5h0M431.4 166.7h0M399.0 166.0h0M373.3 161.0h0M386.9 169.2h0M412.8 164.5h0M373.7 158.1h0M404.0 171.8h0M403.1 162.4h0M354.9 159.4h0M360.9 158.5h0M402.9 156.0h0M360.2 171.2h0M361.7 166.8h0M405.7 157.5h0M394.7 161.1h0M399.8 159.6h0M406.6 171.3h0M436.9 159.2h0M447.5 158.8h0M448.3 156.8h0M358.3 171.9h0M351.9 166.8h0M396.6 172.5h0M428.3 158.3h0M349.7 167.3h0M350.2 155.0h0M409.7 163.8h0M404.8 165.4h0M401.1 161.6h0M358.3 157.1h0M362.1 158.3h0M391.4 156.3h0M369.3 172.4h0M354.3 171.3h0M367.7 165.3h0M406.7 159.9h0M371.7 169.0h0M408.6 164.0h0M398.0 169.2h0M362.4 166.9h0M322.9 162.1h0M446.8 162.8h0M334.6 156.6h0M398.6 159.8h0M357.0 166.3h0M389.8 170.8h0M355.9 171.1h0M393.3 166.0h0M361.0 168.0h0M391.1 163.6h0M388.2 155.2h0M394.3 164.9h0M347.5 165.2h0M365.9 171.0h0M371.1 163.1h0M372.6 158.1h0M415.1 171.7h0M392.1 158.0h0M359.3 171.9h0M406.9 166.8h0M365.5 168.2h0M411.4 167.7h0M401.0 172.9h0M341.0 168.1h0M356.3 168.0h0M393.0 165.8h0M399.3 167.2h0M366.9 155.1h0M388.3 159.8h0M342.9 165.4h0M419.7 163.9h0M429.9 163.7h0M368.7 173.0h0M393.4 172.4h0M337.7 163.0h0M369.2 163.2h0M368.0 156.8h0M390.8 157.1h0M387.1 172.8h0M361.1 163.5h0M438.6 162.5h0M334.2 156.9h0M322.6 168.9h0M403.6 165.4h0M365.0 171.7h0M349.6 166.7h0M396.2 161.5h0M369.5 158.4h0M440.3 163.9h0M358.9 168.1h0M426.3 166.4h0M441.1 155.5h0M444.0 156.5h0M357.1 157.5h0M371.3 164.6h0M398.6 170.1h0M373.9 163.8h0M370.2 160.0h0M393.2 171.7h0M343.3 167.0h0M394.1 164.5h0M352.7 161.8h0M347.2 158.3h0M373.7 159.3h0M399.9 164.9h0M396.0 162.5h0M391.6 162.7h0M391.6 169.2h0M430.3 164.8h0M357.9 161.3h0M420.0 164.4h0M344.2 162.6h0M318.1 168.6h0M333.6 157.7h0M353.8 169.7h0M388.2 165.0h0M355.7 162.4h0M370.2 170.5h0M368.0 157.3h0M387.4 156.1h0M371.7 160.4h0M367.3 162.9h0M364.3 168.8h0M367.8 159.5h0M413.0 156.7h0M410.4 167.0h0M397.4 168.8h0M313.3 156.4h0M396.3 167.7h0M402.0 161.9h0M392.6 173.0h0M402.8 162.9h0M320.7 164.7h0M396.0 173.0h0M354.5 166.8h0M387.9 167.1h0M356.0 172.1h0M413.8 163.3h0M393.5 162.9h0M398.4 157.2h0M321.9 156.8h0M388.6 161.9h0M394.2 168.5h0M355.4 161.2h0M370.7 172.3h0M367.6 166.7h0M365.3 155.4h0M355.1 169.8h0M417.6 161.8h0M366.3 171.5h0M369.6 171.4h0M362.1 164.5h0M369.3 161.0h0M373.6 161.5h0M336.5 168.5h0M398.7 158.8h0M371.7 170.0h0M372.9 164.1h0M393.4 157.6h0M369.3 155.3h0M362.6 171.8h0M373.2 170.7h0M428.2 159.4h0M348.4 166.9h0M388.9 162.7h0M370.3 172.3h0M419.9 167.3h0M372.1 162.0h0M404.8 156.2h0M365.5 170.9h0M362.9 171.3h0M371.1 172.7h0M360.7 166.9h0M369.1 173.1h0M364.3 165.9h0M396.5 164.7h0M334.3 159.7h0M365.2 160.6h0M391.1 165.3h0M367.8 165.3h0M371.2 172.7h0M396.6 173.0h0M353.2 165.8h0M363.2 169.7h0M398.1 157.4h0M388.8 158.6h0M369.5 167.4h0M373.0 170.4h0M400.7 163.8h0M370.6 161.4h0M403.6 161.8h0M386.5 170.2h0M396.1 166.5h0M367.8 172.8h0M332.5 168.2h0M406.5 160.7h0M443.7 168.4h0M402.1 162.4h0M438.7 167.7h0M362.6 158.5h0M313.0 162.3h0M390.1 160.3h0M388.6 172.0h0M429.3 164.2h0M400.4 166.8h0M387.5 156.0h0M406.7 169.5h0M424.7 159.7h0M357.3 165.5h0M371.2 170.0h0M400.4 163.7h0M400.9 163.3h0M366.8 160.6h0M349.8 161.4h0M373.9 164.0h0M386.8 162.8h0M339.6 162.0h0M432.4 158.6h0M358.8 168.9h0M333.6 155.0h0M358.0 162.0h0M354.9 161.9h0M409.2 161.5h0M396.6 156.5h0M412.2 156.3h0M412.9 171.5h0M387.2 159.2h0M396.4 171.6h0M349.0 170.4h0M343.6 167.1h0M353.6 165.2h0M388.5 155.5h0M396.0 171.3h0M387.3 169.0h0M393.5 157.5h0M373.0 156.9h0M373.6 172.2h0M365.1 162.0h0M356.2 162.9h0M373.3 155.0h0M358.4 157.2h0M374.1 172.5h0M445.7 159.4h0M402.7 166.6h0M395.9 158.2h0M353.3 160.5h0M401.5 156.1h0M371.7 156.8h0M368.1 164.2h0M396.4 157.5h0M337.7 160.3h0M368.0 164.5h0M372.7 172.9h0M344.5 171.7h0M363.1 156.9h0M372.5 171.8h0M448.6 165.2h0M369.7 163.4h0M350.5 157.0h0M406.0 169.4h0M373.5 170.6h0M372.4 162.1h0M393.5 160.3h0M388.7 170.9h0M327.9 162.8h0M391.8 164.1h0M368.6 169.1h0M350.8 156.2h0M387.1 164.0h0M386.4 157.0h0M365.0 163.7h0M367.9 168.2h0M390.8 168.9h0M371.9 159.5h0M394.7 163.8h0M343.1 161.7h0M386.8 155.9h0M363.5 164.6h0M412.6 168.5h0M415.7 168.2h0M390.6 167.4h0M360.7 164.9h0M387.5 166.4h0M368.7 157.6h0M400.5 172.6h0M395.3 163.5h0M427.0 156.4h0M345.8 171.6h0M343.4 168.2h0M404.5 161.6h0M426.7 163.6h0M402.1 171.7h0M372.5 170.8h0M374.0 162.0h0M367.7 169.0h0M400.9 157.8h0M392.3 163.3h0M388.5 158.8h0M397.5 160.6h0M410.5 159.8h0M398.1 170.6h0M364.8 159.2h0M371.6 173.0h0M386.6 159.1h0M371.0 156.7h0M406.1 165.2h0M374.0 160.1h0M442.6 167.7h0M387.1 171.0h0M365.7 162.7h0M388.8 164.3h0M373.8 166.1h0M345.4 169.0h0M390.1 155.1h0M401.0 167.6h0M409.6 158.8h0M366.8 172.1h0M373.7 163.4h0M360.1 161.1h0M389.2 162.2h0M347.8 171.7h0M350.4 170.8h0M329.8 164.5h0M354.7 167.5h0M386.4 167.4h0M373.3 171.1h0M369.5 158.8h0M373.2 162.0h0M324.4 168.7h0M386.8 171.6h0M370.7 168.1h0M408.9 168.8h0M365.7 164.6h0M425.4 160.9h0M310.7 163.7h0M424.5 168.4h0M389.9 172.9h0M362.3 162.8h0M389.1 159.6h0M352.6 172.8h0M422.1 156.9h0M355.3 169.8h0M348.6 159.9h0M372.1 163.5h0M398.5 171.1h0M408.7 160.8h0M389.9 165.5h0M401.3 155.2h0M414.6 162.8h0M370.6 168.2h0M390.7 169.9h0M370.5 171.1h0M340.6 166.4h0M430.1 162.1h0M435.4 159.6h0M309.5 155.7h0M365.1 161.1h0M404.1 155.8h0M365.1 172.7h0M361.9 168.6h0M372.8 172.0h0M421.2 164.9h0M333.2 159.0h0M410.7 165.1h0M364.2 158.6h0M352.4 156.1h0M404.7 164.9h0M396.4 170.8h0M373.4 161.2h0M426.7 155.4h0M426.6 163.5h0M348.5 164.1h0M345.3 167.2h0M374.3 171.1h0M437.8 158.8h0M387.5 171.3h0M314.5 161.1h0M395.0 171.0h0M315.1 162.6h0M394.3 157.6h0M415.0 170.1h0M347.6 157.3h0M449.8 160.6h0M393.3 169.5h0M387.9 160.6h0M390.8 172.8h0M361.5 169.6h0M371.9 165.2h0M415.5 171.4h0M388.7 163.7h0M403.9 160.8h0M341.8 160.7h0M416.4 173.0h0M407.9 158.1h0M350.2 169.5h0M409.0 168.8h0M387.6 170.4h0M362.4 172.8h0M394.6 155.1h0M320.4 156.5h0M390.4 165.4h0M395.7 172.8h0M403.3 159.1h0M355.6 155.4h0M404.7 166.2h0M388.0 172.8h0M357.6 156.6h0M345.4 170.4h0M417.6 156.8h0M393.8 173.0h0M344.6 156.8h0M405.9 159.4h0M405.9 171.8h0M339.1 162.4h0M346.0 156.3h0M434.4 159.3h0M409.2 161.4h0M422.7 165.1h0M366.1 169.3h0M388.1 172.7h0M357.7 161.9h0M368.6 168.1h0M368.1 162.2h0M371.5 171.0h0M339.5 168.3h0M386.8 168.8h0M372.6 160.7h0M387.7 158.4h0M397.1 157.9h0M364.3 167.0h0M350.4 162.1h0M406.3 169.2h0M406.0 166.8h0M362.8 159.4h0M361.6 172.8h0M414.2 158.1h0M362.2 170.2h0M404.1 170.0h0M397.0 170.8h0M335.2 158.7h0M365.0 169.5h0M396.8 164.9h0M389.9 170.3h0M390.6 157.7h0M337.3 164.5h0M394.8 170.2h0M390.8 168.5h0M318.4 164.0h0M372.0 170.2h0M386.6 164.3h0M408.7 156.7h0M333.1 167.6h0M386.9 168.6h0M419.8 166.5h0M365.1 163.5h0M404.8 173.0h0M350.1 158.7h0M386.7 166.1h0M390.9 169.4h0M393.0 164.6h0M419.0 159.8h0M392.8 168.7h0M374.1 172.6h0M314.1 162.2h0M394.8 171.6h0M407.6 172.6h0M355.7 159.5h0M402.4 170.2h0M397.9 165.0h0M393.5 168.3h0M369.5 163.1h0M364.3 166.8h0M388.6 158.7h0M350.3 171.5h0M346.0 167.1h0M371.0 161.9h0M365.9 163.6h0M370.0 170.2h0M344.6 169.1h0M391.8 168.0h0M369.1 171.9h0M349.9 165.2h0M357.1 170.0h0M366.2 171.6h0M408.7 157.5h0M323.4 160.5h0M412.1 169.1h0M368.2 160.0h0M389.4 171.7h0M421.7 167.7h0M322.7 168.3h0M393.2 170.7h0M415.6 170.6h0M352.1 165.7h0M387.3 172.6h0M352.3 158.7h0M392.5 158.0h0M321.1 160.7h0M369.9 159.0h0M347.1 171.5h0M404.5 160.6h0M360.5 155.3h0M332.8 162.6h0M366.0 156.6h0M326.5 168.6h0M388.6 166.4h0M368.8 172.3h0M388.5 155.9h0M400.9 172.0h0M422.9 156.9h0M361.0 172.7h0M369.4 165.7h0M351.1 171.8h0M372.3 164.9h0M365.5 172.1h0M386.4 172.4h0M362.9 162.4h0M359.3 162.4h0M402.4 165.0h0M387.7 167.5h0M369.2 169.1h0M387.9 158.0h0M413.4 166.4h0M403.5 167.1h0M393.1 163.9h0M392.0 167.8h0M386.9 157.4h0M442.1 165.9h0M309.9 161.1h0M394.6 156.6h0M360.0 160.8h0M325.3 161.2h0M402.6 172.8h0M316.8 155.5h0M418.7 163.7h0M372.5 172.4h0M335.2 155.0h0M362.9 169.2h0M451.6 155.0h0M387.7 165.4h0M366.3 172.6h0M351.9 169.1h0M390.4 165.3h0M399.4 171.4h0M429.5 155.4h0M408.7 169.9h0M355.0 173.0h0M373.3 165.2h0M393.2 164.1h0M364.3 171.7h0M389.8 158.1h0M394.9 170.1h0M410.9 164.5h0M394.2 161.6h0M391.8 171.5h0M356.5 166.3h0M393.5 167.2h0M396.0 169.7h0M366.5 164.3h0M392.5 162.8h0M370.7 155.9h0M342.7 164.6h0M386.7 165.3h0M359.0 160.3h0M392.6 169.6h0M362.7 161.6h0M365.9 170.6h0M373.4 171.9h0M364.7 155.9h0M365.7 168.4h0M331.3 167.8h0M355.8 158.1h0M355.0 161.5h0M388.1 161.7h0M324.1 168.6h0M412.6 171.6h0M348.0 169.8h0M387.1 169.7h0M356.1 172.7h0M361.0 168.8h0M395.2 171.2h0M424.0 165.3h0M447.9 162.0h0M361.8 169.3h0M409.3 173.0h0M420.6 159.4h0M373.3 162.2h0M409.0 171.3h0M403.7 161.6h0M408.4 163.4h0M363.5 160.6h0M364.3 168.3h0M371.5 158.1h0M391.9 159.6h0M357.7 165.4h0M356.9 172.3h0M352.6 164.2h0M387.2 160.6h0M386.4 159.6h0M396.6 160.9h0M338.1 163.9h0M363.2 161.6h0M396.3 157.8h0M373.7 167.7h0M424.9 159.5h0M373.2 159.0h0M388.3 157.6h0M343.7 166.9h0M400.7 162.0h0M336.7 160.3h0M387.2 161.2h0M410.1 168.3h0M370.2 166.2h0M336.2 167.8h0M346.7 171.0h0M358.5 157.2h0M364.4 172.2h0M391.2 160.5h0M353.5 172.9h0M354.5 167.8h0M366.5 170.5h0M396.1 162.8h0M320.9 168.0h0M390.1 172.5h0M390.6 162.3h0M400.1 161.5h0M409.0 167.7h0M374.2 160.4h0M394.1 161.7h0M369.5 162.8h0M392.2 157.2h0M389.2 164.7h0M397.1 171.3h0M449.1 157.7h0M358.7 171.5h0M333.1 165.8h0M368.8 170.0h0M409.0 166.4h0M391.4 157.9h0M372.4 170.2h0M407.7 158.9h0M358.8 159.6h0M388.6 156.3h0M391.8 173.0h0M373.0 165.1h0M386.5 171.9h0M373.4 157.6h0M389.5 155.4h0M371.9 160.6h0M388.1 168.1h0M342.0 167.7h0M393.6 155.4h0M372.6 159.0h0M432.9 163.2h0M395.0 165.0h0M389.0 162.1h0M405.6 159.6h0M343.3 156.4h0M367.9 164.8h0M393.7 165.3h0M396.1 169.2h0M386.5 157.3h0M389.1 168.7h0M391.5 164.0h0M373.6 160.4h0M360.4 168.9h0M362.0 156.3h0M398.2 169.9h0M365.7 172.5h0M390.6 160.4h0M424.0 166.7h0M399.7 155.8h0M424.3 164.7h0M368.3 163.5h0M390.9 172.8h0M435.6 160.9h0M355.2 167.7h0M392.7 164.1h0M406.4 158.7h0M417.7 168.9h0M407.8 164.5h0M394.3 172.8h0M370.1 170.4h0M442.5 157.1h0M350.3 158.3h0M371.3 166.7h0M370.7 157.7h0M353.7 169.9h0M396.0 169.3h0M388.8 169.6h0M363.1 158.3h0M372.1 168.4h0M317.4 156.9h0M406.2 172.6h0M361.5 165.9h0M372.2 161.9h0M349.6 163.1h0M386.5 159.3h0M347.9 159.3h0M372.1 170.9h0M338.5 156.7h0M369.1 170.4h0M399.2 161.9h0M347.4 161.7h0M374.0 167.7h0M408.2 169.0h0M369.9 167.5h0M345.3 172.4h0M437.9 167.4h0M407.8 169.5h0M390.7 165.2h0M389.3 164.0h0M386.6 159.0h0M366.2 161.1h0M369.0 167.2h0M373.2 173.0h0M421.4 166.6h0M367.0 170.3h0M360.5 172.8h0M423.2 160.8h0M360.9 159.0h0M368.7 162.7h0M406.6 165.9h0M446.1 168.1h0M370.3 161.7h0M342.0 167.8h0M428.7 157.4h0M358.2 159.1h0M421.0 168.7h0M398.0 160.0h0M415.6 168.3h0M341.6 165.3h0M389.2 172.3h0M387.2 172.9h0M359.4 163.7h0M387.8 172.3h0M366.0 173.0h0M334.1 161.0h0M347.1 167.9h0M396.9 161.6h0M355.4 172.6h0M370.8 155.2h0M372.1 172.0h0M397.8 166.9h0M370.1 172.8h0M418.1 159.7h0M370.7 163.2h0M351.8 158.0h0M392.0 159.3h0M440.1 168.6h0M387.0 157.9h0M368.5 159.8h0M363.0 159.7h0M395.9 171.5h0M390.7 157.1h0M341.8 168.8h0M320.6 158.3h0M372.8 167.5h0M388.2 169.5h0M337.4 155.9h0M369.8 162.0h0M365.5 161.6h0M438.9 168.4h0M417.3 163.9h0M393.0 165.0h0M403.1 164.5h0M417.0 172.2h0M369.2 155.3h0M386.5 160.5h0M395.4 169.4h0M362.9 171.6h0M408.4 168.8h0M361.6 159.8h0M364.4 171.6h0M330.1 162.8h0M367.3 171.6h0M388.8 167.1h0M342.2 166.4h0M400.1 169.7h0M343.9 155.3h0M409.4 172.2h0M347.6 172.6h0M371.3 171.8h0M393.0 169.2h0M389.3 172.9h0M334.1 168.6h0M403.6 164.7h0M389.6 162.1h0M371.7 170.9h0M353.4 158.5h0M366.7 155.7h0M365.7 164.6h0M415.0 162.9h0M400.0 172.4h0M386.6 156.6h0M348.7 159.3h0M391.9 167.4h0M350.1 173.1h0M388.4 163.0h0M360.3 170.6h0M330.1 162.1h0M416.0 165.9h0M368.8 164.6h0M402.6 167.3h0M366.1 171.3h0M408.0 170.0h0M387.7 172.2h0M365.1 160.6h0M409.5 162.1h0M370.1 162.9h0M416.3 167.3h0M388.7 173.0h0M432.9 159.6h0M388.8 158.0h0M408.2 155.3h0M387.2 169.7h0M345.9 156.1h0M411.0 168.9h0M389.5 171.2h0M389.1 164.1h0M361.1 160.8h0M357.3 167.6h0M404.6 171.6h0M368.3 172.0h0M387.3 158.9h0M360.6 155.1h0M346.8 155.9h0M395.2 156.4h0M390.6 165.8h0M437.1 160.0h0M347.3 166.1h0M403.9 165.0h0M389.2 171.0h0M450.1 168.0h0M387.9 159.6h0M366.6 159.9h0M404.9 163.0h0M311.1 156.7h0M415.5 170.2h0M366.7 158.6h0M369.8 166.1h0M366.2 165.4h0M394.5 159.4h0M394.9 161.9h0M363.1 159.9h0M450.3 167.2h0M320.7 160.1h0M371.3 162.6h0M417.8 155.2h0M389.8 161.0h0M402.4 162.2h0M440.6 162.0h0M345.1 167.4h0M396.9 172.3h0M390.3 167.3h0M359.7 169.4h0M393.0 163.8h0M408.4 156.9h0M403.4 159.3h0M328.7 164.1h0M353.7 170.6h0M404.2 166.4h0M395.5 162.8h0M413.7 172.5h0M387.1 163.7h0M430.2 159.3h0M402.5 163.5h0M372.9 172.9h0M372.3 169.6h0M363.5 164.5h0M368.8 169.4h0M389.7 171.5h0M372.8 167.0h0M351.2 166.3h0M391.2 165.8h0M336.8 164.0h0M367.2 162.0h0M388.1 171.7h0M392.6 160.0h0M386.9 159.1h0M405.3 166.0h0M414.5 168.2h0M345.2 157.3h0M328.7 165.4h0M399.7 167.9h0M398.7 172.3h0M368.5 166.0h0M419.8 155.1h0M372.0 163.1h0M389.8 171.5h0M391.0 172.5h0M398.7 173.0h0M389.3 156.7h0M392.9 163.3h0M399.2 160.8h0M390.6 171.7h0M367.2 172.5h0M351.3 158.3h0M369.5 163.6h0M394.8 167.1h0M361.1 165.7h0M370.5 160.4h0M366.4 171.7h0M350.8 165.2h0M327.6 157.3h0M370.7 159.4h0M370.6 169.5h0M431.7 156.5h0M369.8 167.7h0M343.6 170.7h0M319.6 163.2h0M365.2 172.1h0M449.6 167.4h0M371.0 164.5h0M327.4 164.2h0M427.9 162.9h0M341.7 167.0h0M393.1 172.0h0M401.2 168.2h0M365.1 159.0h0M432.2 164.2h0M356.2 156.8h0M361.4 164.9h0M356.2 172.5h0M413.6 165.0h0M393.9 156.3h0M393.2 160.5h0M388.6 164.0h0M395.6 168.8h0M404.4 163.5h0M408.1 163.0h0M396.0 159.4h0M397.2 171.2h0M399.8 170.1h0M372.6 164.7h0M415.6 157.6h0M371.2 161.0h0M425.5 162.0h0M388.3 164.7h0M336.0 159.8h0M365.2 158.9h0M391.2 164.3h0M373.6 159.7h0M422.6 167.9h0M353.8 155.1h0M372.3 160.5h0M407.6 165.4h0M443.2 155.6h0M309.4 157.9h0M415.1 166.7h0M370.8 161.0h0M373.6 163.4h0M367.7 167.7h0M373.3 163.7h0M401.1 167.7h0M346.0 162.6h0M368.2 157.1h0M328.5 158.8h0M392.0 163.1h0M411.0 167.9h0M410.8 165.3h0M355.6 160.0h0M398.8 169.6h0M393.6 172.9h0M387.8 163.8h0M372.6 159.4h0M400.5 162.9h0M386.8 157.2h0M388.3 156.7h0M358.0 163.6h0M388.8 165.7h0M408.2 173.0h0M392.9 158.9h0M432.3 158.8h0M354.0 165.0h0M412.1 163.0h0M363.9 169.8h0M358.4 155.8h0M386.6 172.6h0M356.1 165.8h0M347.8 162.7h0M373.5 159.6h0M396.1 156.5h0M364.3 168.1h0M372.5 160.0h0M407.5 155.4h0M362.1 168.6h0M388.9 166.6h0M365.7 162.9h0M416.5 172.4h0M368.7 160.3h0M349.3 163.4h0M319.4 162.0h0M349.5 172.9h0M365.0 162.4h0M355.5 159.9h0M320.7 163.5h0M397.8 158.0h0M398.1 165.2h0M393.4 164.3h0M415.7 165.1h0M387.1 164.3h0M364.5 157.9h0M363.7 169.1h0M395.6 162.7h0M361.7 169.7h0M357.5 155.6h0M366.7 163.8h0M388.7 159.5h0M391.1 155.4h0M347.8 155.9h0M388.2 167.5h0M348.5 160.1h0M315.3 168.8h0M388.1 165.7h0M397.8 169.9h0M421.2 161.6h0M340.1 168.5h0M373.4 159.3h0M350.5 166.9h0M400.4 159.9h0M350.4 159.5h0M418.5 160.5h0M340.0 167.5h0M407.8 170.1h0M394.6 166.6h0M397.4 159.1h0M387.2 160.5h0M388.7 155.3h0M357.2 160.9h0M403.7 156.7h0M402.2 172.2h0M446.9 159.7h0M331.4 164.2h0M366.8 167.1h0M372.8 158.1h0M371.7 162.8h0M356.0 172.0h0M400.0 166.0h0M386.9 164.9h0M339.5 160.8h0M396.9 168.2h0M361.2 158.2h0M435.9 157.1h0M403.2 171.4h0M332.1 166.9h0M349.9 156.3h0M371.1 167.7h0M357.7 158.7h0M387.8 165.2h0M341.1 168.0h0M349.9 169.6h0M372.9 163.8h0M422.9 160.7h0M386.5 173.1h0M388.4 160.7h0M390.6 172.3h0M364.4 168.3h0M365.3 162.1h0M330.1 164.0h0M403.5 161.2h0M396.5 170.7h0M411.8 163.2h0M357.8 158.6h0M389.5 157.9h0M364.3 170.2h0M350.9 163.2h0M399.3 164.9h0M353.7 169.3h0M373.5 169.9h0M411.0 171.5h0M388.7 161.5h0M363.4 163.7h0M426.4 166.7h0M422.7 163.3h0M391.3 164.1h0M354.0 167.1h0M393.1 158.8h0M445.8 163.4h0M350.1 161.4h0M417.5 167.1h0M370.6 159.3h0M322.1 166.1h0M348.4 173.0h0M427.5 160.0h0M371.5 168.6h0M327.1 156.2h0M392.1 169.0h0M366.1 158.8h0M364.6 157.3h0M425.4 163.4h0M437.8 168.1h0M373.9 164.1h0M387.5 167.9h0M365.9 164.8h0M372.5 168.6h0M336.9 163.1h0M399.7 164.0h0M358.5 165.3h0M388.3 163.3h0M402.4 157.9h0M366.4 172.9h0M394.6 167.2h0M396.2 172.6h0M348.5 164.8h0M374.2 158.1h0M419.6 159.6h0M414.3 171.2h0M367.0 169.5h0M416.8 157.0h0M401.1 172.3h0M406.6 155.7h0M408.2 170.2h0M373.8 162.8h0M373.6 164.1h0M421.2 167.5h0M387.8 162.6h0M371.2 162.4h0M335.4 156.4h0M374.2 171.1h0M370.6 173.0h0M368.8 168.8h0M394.1 168.8h0M394.2 156.6h0M403.0 163.4h0M365.0 165.6h0M324.3 157.9h0M434.2 168.9h0M405.5 165.5h0M416.3 157.4h0M374.1 159.7h0M398.8 158.9h0M346.0 169.0h0M353.6 156.0h0M403.4 166.1h0M391.7 162.6h0M364.0 165.7h0M405.1 157.8h0M387.1 161.9h0M353.8 157.9h0M371.5 159.1h0M356.7 167.6h0M393.8 170.3h0M317.2 164.3h0M438.6 155.5h0M386.8 171.0h0M328.6 167.7h0M362.9 169.2h0M391.9 169.6h0M337.7 155.8h0M373.9 172.1h0M363.5 172.4h0M388.5 167.4h0M387.1 169.6h0M400.0 159.4h0M410.9 159.5h0M387.2 170.0h0M372.8 162.6h0M359.3 160.3h0M352.6 159.9h0M407.3 172.0h0M357.6 161.0h0M399.8 169.5h0M363.0 166.5h0M374.0 161.4h0M400.6 172.2h0M368.4 172.7h0M402.3 171.7h0M355.0 159.3h0M400.4 171.1h0M404.4 161.9h0M371.7 163.7h0M370.2 163.9h0M387.9 171.6h0M410.5 171.5h0M387.8 168.2h0M391.6 162.5h0M367.9 167.0h0M372.4 161.1h0M369.8 155.0h0M390.5 163.1h0M367.3 171.6h0M360.3 172.4h0M418.2 156.0h0M390.7 161.7h0M370.5 171.7h0M357.1 159.6h0M367.3 169.4h0M394.0 167.2h0M410.2 168.7h0M337.4 158.2h0M424.0 161.2h0M387.8 169.1h0M335.8 163.9h0M411.8 170.3h0M369.6 157.6h0M346.8 162.6h0M371.6 169.8h0M347.7 170.5h0M343.9 168.3h0M408.1 163.8h0M345.7 161.8h0M359.1 164.4h0M429.7 162.8h0M389.1 162.5h0M373.3 166.0h0M412.0 170.7h0M424.0 164.7h0M353.6 170.7h0M342.2 162.4h0M398.8 173.0h0M393.1 162.4h0M348.8 156.8h0M386.9 170.8h0M363.5 171.7h0M403.6 172.9h0M329.4 168.1h0M389.5 167.3h0M403.0 169.3h0M404.1 155.1h0M368.2 171.5h0M342.9 157.7h0M337.1 162.1h0M372.9 172.2h0M366.7 169.2h0M362.0 170.6h0M404.5 156.9h0M399.5 171.8h0" stroke="#bdbdbd" stroke-opacity="0.8" stroke-width="1.24" stroke-linecap="round" fill="none"/>
<path d="M305.2 121.8h0M318.5 132.7h0M328.4 138.1h0M316.6 141.7h0M304.0 144.4h0M281.3 143.5h0M325.7 152.6h0M328.4 153.5h0M334.7 150.8h0M337.5 150.8h0M343.8 152.2h0M348.3 153.5h0M351.9 153.5h0M359.2 152.9h0M366.4 153.5h0M372.8 153.5h0M341.1 136.3h0M342.9 145.3h0M362.8 147.2h0M308.5 154.4h0M275.0 154.4h0M323.9 148.1h0M297.5 33.5h0M312.0 69.5h0M290.5 95.5h0M370.0 152.5h0M355.5 154.0h0M331.0 154.2h0" stroke="#3a3af0" stroke-opacity="1.0" stroke-width="1.60" stroke-linecap="round" fill="none"/>
<path d="M402.7 150.6h0M387.0 126.4h0M386.9 150.9h0M391.0 151.0h0M417.3 140.3h0M401.6 154.4h0M387.1 144.9h0M394.6 141.0h0M414.4 140.1h0M412.8 129.4h0M401.4 146.6h0M389.5 154.5h0M420.7 150.1h0M396.8 138.9h0M418.1 142.9h0M393.8 154.6h0M407.6 127.2h0M392.9 124.7h0M387.7 144.6h0M389.5 145.3h0M422.8 126.1h0M418.2 142.3h0M414.6 136.8h0M440.6 151.4h0M396.1 145.5h0M394.1 154.3h0M430.3 152.5h0M397.8 137.0h0M408.9 152.7h0M432.9 154.5h0M399.0 154.5h0M387.3 139.8h0M394.4 154.6h0M424.4 137.3h0M437.5 151.6h0M387.4 154.5h0M394.5 142.0h0M420.5 153.9h0M442.5 144.0h0M411.6 154.5h0M394.1 154.0h0M442.5 127.3h0M440.1 154.5h0M444.3 154.2h0M418.9 145.9h0M399.5 140.4h0M413.2 152.4h0M390.1 141.0h0M390.2 131.3h0M390.9 146.8h0M394.9 151.3h0M398.1 146.0h0M388.5 149.5h0M443.0 135.0h0M441.2 153.8h0M398.4 144.7h0M395.4 151.8h0M403.3 138.4h0M392.0 142.8h0M395.9 149.0h0M421.1 150.1h0M417.6 154.5h0M409.4 128.5h0M395.3 154.6h0M419.2 126.1h0M389.3 143.1h0M434.5 123.1h0M387.6 142.9h0M395.9 153.2h0M406.5 152.4h0M388.4 154.6h0M435.8 154.6h0M397.3 128.0h0M411.0 149.5h0M389.6 149.9h0M386.7 140.3h0M395.4 142.3h0M399.4 139.9h0M389.8 154.6h0M402.2 153.4h0M425.0 154.4h0M416.7 154.3h0M406.3 151.1h0M437.6 154.1h0M393.9 129.5h0M386.5 139.9h0M437.4 154.0h0M408.0 135.3h0M404.8 152.4h0M407.1 153.8h0M403.2 128.7h0M403.7 147.2h0M394.8 146.6h0M394.0 125.0h0M402.9 134.6h0M400.8 144.8h0M413.2 144.3h0M400.9 154.5h0M389.6 151.8h0M395.3 141.5h0M387.6 152.1h0M413.3 135.9h0M387.7 147.7h0M409.1 153.9h0M428.4 154.6h0M431.1 153.5h0M398.3 153.3h0M404.3 153.4h0M419.2 154.6h0M405.5 127.9h0M416.2 143.2h0M406.2 154.5h0M393.1 141.3h0M390.0 125.7h0M393.3 145.0h0M442.8 139.5h0M391.8 139.1h0M417.0 154.4h0M416.8 125.6h0M438.6 153.9h0M407.8 153.7h0M443.9 136.7h0M401.5 154.4h0M390.7 125.3h0M445.6 152.8h0M427.7 127.8h0M413.7 143.2h0M388.7 141.2h0M424.6 136.7h0M387.7 150.6h0M396.2 154.3h0M421.3 143.9h0M386.7 151.8h0M396.9 127.3h0M433.4 154.4h0M391.6 154.6h0M392.2 150.0h0M405.7 130.6h0M392.8 154.2h0M391.2 136.7h0" stroke="#f03030" stroke-opacity="1.0" stroke-width="1.60" stroke-linecap="round" fill="none"/>
<line x1="256.0" y1="154.90" x2="458.6" y2="154.90" stroke="#555" stroke-width="0.55" stroke-dasharray="0.9,1.7"/>
<line x1="374.55" y1="21.9" x2="374.55" y2="180.3" stroke="#555" stroke-width="0.55" stroke-dasharray="0.9,1.7"/>
<line x1="386.05" y1="21.9" x2="386.05" y2="180.3" stroke="#555" stroke-width="0.55" stroke-dasharray="0.9,1.7"/>
<text x="275.30" y="34.00" font-size="5.2" text-anchor="start" fill="#3a3af0" font-weight="normal" stroke="#3a3af0" stroke-width="0.12">SERPINB3</text>
<text x="293.00" y="69.70" font-size="5.2" text-anchor="start" fill="#3a3af0" font-weight="normal" stroke="#3a3af0" stroke-width="0.12">MUC5AC</text>
<text x="272.80" y="98.80" font-size="5.2" text-anchor="start" fill="#3a3af0" font-weight="normal" stroke="#3a3af0" stroke-width="0.12">SLPI</text>
<text x="288.10" y="127.00" font-size="5.2" text-anchor="start" fill="#3a3af0" font-weight="normal" stroke="#3a3af0" stroke-width="0.12">EPHB1</text>
<text x="307.00" y="131.90" font-size="5.2" text-anchor="start" fill="#3a3af0" font-weight="normal" stroke="#3a3af0" stroke-width="0.12">CPQ</text>
<text x="319.60" y="127.60" font-size="5.2" text-anchor="start" fill="#3a3af0" font-weight="normal" stroke="#3a3af0" stroke-width="0.12">KCNJ15</text>
<text x="282.80" y="138.90" font-size="5.2" text-anchor="start" fill="#3a3af0" font-weight="normal" stroke="#3a3af0" stroke-width="0.12">SERINC3</text>
<text x="307.00" y="140.70" font-size="5.2" text-anchor="start" fill="#3a3af0" font-weight="normal" stroke="#3a3af0" stroke-width="0.12">LBR</text>
<text x="319.60" y="137.20" font-size="5.2" text-anchor="start" fill="#3a3af0" font-weight="normal" stroke="#3a3af0" stroke-width="0.12">TSC22D3</text>
<text x="270.20" y="143.00" font-size="5.2" text-anchor="start" fill="#3a3af0" font-weight="normal" stroke="#3a3af0" stroke-width="0.12">APC</text>
<text x="286.00" y="144.20" font-size="5.2" text-anchor="start" fill="#3a3af0" font-weight="normal" stroke="#3a3af0" stroke-width="0.12">MSMB</text>
<text x="321.00" y="144.60" font-size="5.2" text-anchor="start" fill="#3a3af0" font-weight="normal" stroke="#3a3af0" stroke-width="0.12">BPIFB1</text>
<text x="276.30" y="150.30" font-size="5.2" text-anchor="start" fill="#3a3af0" font-weight="normal" stroke="#3a3af0" stroke-width="0.12">TACSTD2</text>
<text x="308.20" y="151.60" font-size="5.2" text-anchor="start" fill="#3a3af0" font-weight="normal" stroke="#3a3af0" stroke-width="0.12">KDM4B</text>
<text x="257.80" y="159.40" font-size="5.2" text-anchor="start" fill="#3a3af0" font-weight="normal" stroke="#3a3af0" stroke-width="0.12">AL591043.2</text>
<text x="293.00" y="159.40" font-size="5.2" text-anchor="start" fill="#3a3af0" font-weight="normal" stroke="#3a3af0" stroke-width="0.12">KIF27</text>
<text x="343.90" y="139.30" font-size="5.2" text-anchor="start" fill="#3a3af0" font-weight="normal" stroke="#3a3af0" stroke-width="0.12">SSH2</text>
<text x="340.90" y="144.60" font-size="5.2" text-anchor="start" fill="#3a3af0" font-weight="normal" stroke="#3a3af0" stroke-width="0.12">PI3</text>
<text x="350.90" y="148.10" font-size="5.2" text-anchor="start" fill="#3a3af0" font-weight="normal" stroke="#3a3af0" stroke-width="0.12">CLIC4</text>
<text x="399.90" y="101.30" font-size="5.2" text-anchor="start" fill="#f03030" font-weight="normal" stroke="#f03030" stroke-width="0.12">IL1B</text>
<text x="429.00" y="100.40" font-size="5.2" text-anchor="start" fill="#f03030" font-weight="normal" stroke="#f03030" stroke-width="0.12">GBP1</text>
<text x="411.00" y="106.90" font-size="5.2" text-anchor="start" fill="#f03030" font-weight="normal" stroke="#f03030" stroke-width="0.12">FFAR2</text>
<text x="428.50" y="106.90" font-size="5.2" text-anchor="start" fill="#f03030" font-weight="normal" stroke="#f03030" stroke-width="0.12">LY6E</text>
<text x="397.00" y="112.30" font-size="5.2" text-anchor="start" fill="#f03030" font-weight="normal" stroke="#f03030" stroke-width="0.12">SAT1</text>
<text x="432.00" y="112.30" font-size="5.2" text-anchor="start" fill="#f03030" font-weight="normal" stroke="#f03030" stroke-width="0.12">TMSB10</text>
<text x="405.20" y="117.60" font-size="5.2" text-anchor="start" fill="#f03030" font-weight="normal" stroke="#f03030" stroke-width="0.12">IFITM3</text>
<text x="436.70" y="117.90" font-size="5.2" text-anchor="start" fill="#f03030" font-weight="normal" stroke="#f03030" stroke-width="0.12">TNFAIP6</text>
<text x="423.20" y="123.20" font-size="5.2" text-anchor="start" fill="#f03030" font-weight="normal" stroke="#f03030" stroke-width="0.12">RPL39</text>
<text x="396.10" y="126.70" font-size="5.2" text-anchor="start" fill="#f03030" font-weight="normal" stroke="#f03030" stroke-width="0.12">HLA−A</text>
<text x="436.40" y="136.90" font-size="5.2" text-anchor="start" fill="#f03030" font-weight="normal" stroke="#f03030" stroke-width="0.12">IRF7</text>
<text x="445.10" y="142.10" font-size="5.2" text-anchor="start" fill="#f03030" font-weight="normal" stroke="#f03030" stroke-width="0.12">IFIT2</text>
<text x="462.80" y="10.20" font-size="13.3" text-anchor="start" fill="#000" font-weight="bold" >c.</text>
<line x1="482.50" y1="21.90" x2="482.50" y2="180.30" stroke="#888" stroke-width="0.9" />
<line x1="482.50" y1="180.30" x2="685.00" y2="180.30" stroke="#888" stroke-width="0.9" />
<line x1="480.00" y1="173.40" x2="482.50" y2="173.40" stroke="#888" stroke-width="0.7" />
<text x="479.20" y="175.80" font-size="6.9" text-anchor="end" fill="#1a1a1a" font-weight="normal"  stroke="#1a1a1a" stroke-width="0.14">0</text>
<line x1="480.00" y1="137.15" x2="482.50" y2="137.15" stroke="#888" stroke-width="0.7" />
<text x="479.20" y="139.55" font-size="6.9" text-anchor="end" fill="#1a1a1a" font-weight="normal"  stroke="#1a1a1a" stroke-width="0.14">5</text>
<line x1="480.00" y1="100.90" x2="482.50" y2="100.90" stroke="#888" stroke-width="0.7" />
<text x="479.20" y="103.30" font-size="6.9" text-anchor="end" fill="#1a1a1a" font-weight="normal"  stroke="#1a1a1a" stroke-width="0.14">10</text>
<line x1="480.00" y1="64.65" x2="482.50" y2="64.65" stroke="#888" stroke-width="0.7" />
<text x="479.20" y="67.05" font-size="6.9" text-anchor="end" fill="#1a1a1a" font-weight="normal"  stroke="#1a1a1a" stroke-width="0.14">15</text>
<line x1="480.00" y1="28.40" x2="482.50" y2="28.40" stroke="#888" stroke-width="0.7" />
<text x="479.20" y="30.80" font-size="6.9" text-anchor="end" fill="#1a1a1a" font-weight="normal"  stroke="#1a1a1a" stroke-width="0.14">20</text>
<line x1="514.60" y1="180.30" x2="514.60" y2="182.80" stroke="#888" stroke-width="0.7" />
<text x="514.60" y="189.00" font-size="6.9" text-anchor="middle" fill="#1a1a1a" font-weight="normal"  stroke="#1a1a1a" stroke-width="0.14">−4</text>
<line x1="560.50" y1="180.30" x2="560.50" y2="182.80" stroke="#888" stroke-width="0.7" />
<text x="560.50" y="189.00" font-size="6.9" text-anchor="middle" fill="#1a1a1a" font-weight="normal"  stroke="#1a1a1a" stroke-width="0.14">−2</text>
<line x1="606.40" y1="180.30" x2="606.40" y2="182.80" stroke="#888" stroke-width="0.7" />
<text x="606.40" y="189.00" font-size="6.9" text-anchor="middle" fill="#1a1a1a" font-weight="normal"  stroke="#1a1a1a" stroke-width="0.14">0</text>
<line x1="652.30" y1="180.30" x2="652.30" y2="182.80" stroke="#888" stroke-width="0.7" />
<text x="652.30" y="189.00" font-size="6.9" text-anchor="middle" fill="#1a1a1a" font-weight="normal"  stroke="#1a1a1a" stroke-width="0.14">2</text>
<text x="583.75" y="196.2" font-size="8.1" text-anchor="middle" fill="#111" stroke="#111" stroke-width="0.14">Average log<tspan font-size="5.6" dy="1.8">2</tspan><tspan dy="-1.8"> FoldChange</tspan></text>
<text x="583.70" y="19.40" font-size="6.8" text-anchor="middle" fill="#111" font-weight="normal"  stroke="#111" stroke-width="0.14">PLHIV−ART&lt;3m vs PLHIV−ART&gt;1yr</text>
<text x="0" y="0" font-size="8.1" text-anchor="middle" fill="#111" stroke="#111" stroke-width="0.14" transform="translate(466.30,100.8) rotate(-90)">− log<tspan font-size="5.6" dy="1.8">10</tspan><tspan dy="-1.8"> adjusted P−value</tspan></text>
<path d="M617.1 165.7h0M610.9 164.8h0M611.9 167.4h0M599.2 167.7h0M604.0 165.6h0M628.4 168.3h0M590.3 164.6h0M594.0 164.0h0M616.2 164.7h0M621.3 168.7h0M601.0 164.3h0M617.3 167.8h0M594.8 167.1h0M585.9 167.2h0M614.6 165.3h0M590.4 165.9h0M579.9 169.4h0M593.5 165.8h0M636.2 164.1h0M595.7 166.2h0M597.4 164.1h0M610.7 164.4h0M626.2 164.8h0M604.1 166.6h0M617.1 166.9h0M621.4 165.9h0M602.8 164.0h0M593.4 164.3h0M612.3 167.2h0M581.5 164.0h0M597.8 168.9h0M602.9 167.3h0M609.7 167.0h0M589.7 170.1h0M570.0 164.3h0M599.2 167.4h0M612.6 165.9h0M596.9 168.8h0M603.8 167.4h0M613.0 167.0h0M612.4 165.9h0M604.0 170.0h0M616.3 167.0h0M604.0 164.7h0M576.5 164.2h0M577.1 170.7h0M617.0 170.3h0M612.4 167.9h0M601.1 169.0h0M611.5 170.8h0M609.0 168.5h0M612.0 165.3h0M592.2 168.7h0M597.4 167.5h0M579.3 164.6h0M634.0 167.0h0M602.3 170.8h0M593.9 170.7h0M581.3 165.6h0M601.1 170.4h0M602.0 164.8h0M590.2 165.5h0M610.7 164.6h0M596.7 165.4h0M615.2 170.6h0M611.7 164.5h0M594.3 164.7h0M590.5 165.3h0M610.8 169.7h0M601.5 165.1h0M600.6 165.6h0M638.6 166.4h0M600.8 169.3h0M600.6 165.5h0M596.9 168.4h0M580.6 169.3h0M595.9 164.0h0M619.6 169.9h0M614.8 165.2h0M602.1 166.6h0M600.9 164.0h0M601.1 170.3h0M602.4 164.1h0M614.0 170.6h0M609.6 166.6h0M601.9 168.4h0M596.1 167.9h0M624.2 164.0h0M599.3 168.0h0M643.0 164.7h0M628.9 164.2h0M614.3 170.3h0M602.7 164.8h0M611.0 169.8h0M612.3 164.8h0M595.9 168.5h0M609.2 169.1h0M596.3 165.5h0M589.6 166.3h0M592.6 170.0h0M600.6 164.7h0M634.9 164.0h0M600.6 169.0h0M601.0 170.2h0M608.7 165.7h0M589.5 164.6h0M601.7 164.7h0M609.7 166.6h0M584.3 170.9h0M595.7 169.1h0M601.9 169.2h0M612.4 165.7h0M638.3 165.1h0M610.9 168.0h0M637.6 170.5h0M591.6 167.9h0M593.9 171.0h0M589.8 166.1h0M603.0 165.4h0M615.8 164.1h0M595.2 164.9h0M573.5 168.4h0M604.0 168.9h0M596.8 164.8h0M570.6 165.4h0M596.6 164.2h0M613.9 166.0h0M602.9 165.7h0M588.5 170.5h0M602.3 169.1h0M597.6 170.3h0M618.9 164.3h0M603.8 165.2h0M609.3 169.8h0M595.1 164.8h0M591.1 165.4h0M590.8 164.2h0M611.4 164.0h0M625.3 167.4h0M609.6 165.6h0M603.9 165.4h0M586.0 165.8h0M598.0 169.0h0M590.7 164.2h0M599.9 164.0h0M601.7 164.1h0M591.0 164.1h0M609.2 167.9h0M600.6 166.6h0M600.8 164.2h0M602.7 165.5h0M621.3 164.1h0M589.4 166.9h0M587.9 168.7h0M598.3 164.4h0M624.2 169.8h0M621.6 169.2h0M584.9 171.2h0M593.6 166.6h0M618.0 166.8h0M595.0 164.0h0M591.6 170.2h0M619.1 169.1h0M600.6 167.7h0M616.9 168.9h0M610.7 164.7h0M603.3 169.2h0M595.5 168.2h0M600.0 164.7h0M600.8 168.7h0M608.9 166.9h0M597.9 168.4h0M599.2 164.4h0M601.8 169.6h0M614.4 165.7h0M601.7 169.6h0M595.5 171.1h0M599.7 164.0h0M594.9 167.8h0M593.0 164.0h0M611.0 165.2h0M632.7 171.2h0M600.3 167.9h0M591.6 168.5h0M587.9 166.3h0M581.6 165.5h0M586.2 164.3h0M593.6 167.7h0M620.6 171.0h0M612.2 166.4h0M613.2 166.3h0M612.3 168.8h0M596.1 164.1h0M603.6 167.7h0M617.3 170.4h0M583.0 164.3h0M587.3 171.0h0M624.1 169.3h0M628.7 170.3h0M609.6 164.2h0M598.1 166.6h0M603.8 168.8h0M593.2 169.0h0M613.6 164.8h0M599.1 171.0h0M613.2 164.3h0M598.4 168.3h0M622.9 170.4h0M591.6 169.5h0M620.5 170.1h0M599.3 166.2h0M588.0 170.1h0M598.4 170.2h0M595.1 167.4h0M597.7 167.8h0M600.3 164.1h0M603.1 165.1h0M603.2 171.1h0M594.4 168.0h0M591.2 170.7h0M586.0 169.2h0M602.7 168.0h0M601.7 165.7h0M580.4 167.0h0M592.9 165.0h0M580.0 164.7h0M600.8 166.7h0M584.3 166.6h0M603.6 169.0h0M611.7 168.4h0M572.5 165.7h0M628.5 164.9h0M601.8 167.9h0M602.3 164.6h0M580.1 165.2h0M602.0 166.6h0M602.2 168.8h0M577.3 165.9h0M620.4 165.5h0M611.7 168.2h0M609.8 168.5h0M596.1 167.3h0M602.4 168.9h0M616.3 166.1h0M603.9 170.6h0M611.9 167.7h0M581.1 164.9h0M622.7 164.8h0M603.6 168.3h0M602.9 164.1h0M590.6 166.8h0M596.3 168.1h0M611.2 166.0h0M602.4 170.5h0M580.4 169.6h0M635.9 167.0h0M593.6 166.5h0M600.5 167.8h0M582.4 168.4h0M588.3 169.7h0M625.6 165.3h0M612.9 165.5h0M577.4 167.0h0M591.0 168.6h0M616.4 167.6h0M602.7 170.9h0M630.0 166.7h0M613.7 166.0h0M620.8 168.0h0M599.6 171.2h0M591.3 168.0h0M602.8 167.1h0M629.6 167.2h0M594.4 164.0h0M601.9 164.0h0M625.1 167.0h0M599.0 164.8h0M599.0 168.8h0M603.6 167.1h0M580.4 169.2h0M596.2 168.7h0M603.5 166.4h0M597.7 169.4h0M595.7 165.4h0M597.0 169.5h0M602.7 167.0h0M617.7 170.3h0M609.4 167.1h0M592.5 165.4h0M593.0 169.9h0M619.5 168.9h0M598.7 169.5h0M615.8 167.1h0M603.2 169.8h0M602.1 164.6h0M599.4 166.5h0M589.3 164.3h0M604.0 168.6h0M594.3 165.0h0M611.0 166.1h0" stroke="#c4c4c4" stroke-opacity="0.8" stroke-width="1.24" stroke-linecap="round" fill="none"/>
<path d="M601.9 158.7h0M602.4 146.7h0M600.7 151.9h0M609.9 149.3h0M601.9 142.6h0M602.3 142.7h0M601.4 104.7h0M603.2 93.4h0M603.1 147.6h0M602.2 152.5h0M600.7 149.3h0M601.6 133.5h0M610.2 158.6h0M609.8 109.7h0M611.7 153.9h0M608.7 102.4h0M602.6 108.8h0M604.1 161.0h0M602.7 158.5h0M610.4 154.9h0M611.4 129.5h0M611.2 139.2h0M611.0 149.5h0M601.3 102.3h0M612.1 145.4h0M601.3 107.9h0M608.9 159.7h0M611.6 157.2h0M601.7 160.2h0M609.0 155.1h0M600.7 162.6h0M611.2 121.0h0M602.1 112.2h0M610.1 162.6h0M600.9 149.3h0M601.7 153.3h0M611.5 154.7h0M600.9 148.3h0M601.3 162.3h0M602.3 155.9h0M611.8 163.0h0M602.1 137.2h0M603.5 159.8h0M601.4 130.8h0M611.4 154.9h0M612.1 162.6h0M611.7 157.5h0M602.8 140.2h0M601.2 135.3h0M612.0 156.7h0M600.9 154.8h0M602.8 147.1h0M603.1 154.2h0M600.9 148.9h0M609.5 116.9h0M601.2 161.6h0M603.4 152.5h0M601.4 142.6h0M600.7 142.9h0M611.2 114.8h0M610.3 139.6h0M611.9 159.0h0M611.9 124.6h0M611.1 160.6h0M603.0 150.2h0M602.8 131.0h0M609.6 154.7h0M601.0 151.6h0M611.9 140.3h0M601.6 133.1h0M611.6 160.8h0M602.0 120.3h0M611.8 103.8h0M604.1 159.7h0M608.7 141.2h0M600.8 163.9h0M601.3 161.1h0M610.5 151.8h0M600.8 158.8h0M601.1 158.1h0M601.9 139.4h0M610.1 127.8h0M601.9 146.3h0M601.2 119.2h0M609.0 129.4h0M603.0 119.4h0M612.1 122.8h0M601.0 140.1h0M611.7 159.9h0M611.9 163.0h0M601.1 143.7h0M601.3 128.4h0M611.8 154.7h0M601.4 135.2h0M600.9 150.5h0M602.4 163.9h0M601.1 151.3h0M601.3 155.9h0M601.6 158.1h0M601.0 158.6h0M611.9 140.5h0M609.9 158.4h0M600.9 152.7h0M601.1 161.1h0M600.9 159.6h0M604.1 149.2h0M609.6 118.5h0M611.2 116.0h0M608.7 125.8h0M603.2 161.1h0M609.6 162.0h0M611.1 147.8h0M601.7 114.9h0M612.0 112.6h0M612.0 132.3h0M601.8 96.3h0M610.7 160.9h0M611.4 141.9h0M602.3 137.2h0M603.3 162.2h0M611.4 138.7h0M601.2 156.7h0M601.0 137.0h0M611.6 113.2h0M611.1 160.5h0M604.1 155.4h0M611.7 154.8h0M611.1 135.8h0M611.5 122.8h0M611.0 146.0h0M608.7 127.5h0M600.7 137.8h0M612.1 106.3h0M600.9 127.9h0M608.7 156.3h0M610.1 121.3h0M609.6 162.7h0M611.5 151.8h0M600.9 121.6h0M611.9 119.6h0M610.1 151.6h0M611.0 156.6h0M610.4 130.1h0M601.3 161.1h0M601.2 161.0h0M602.9 138.4h0M602.1 163.7h0M602.8 161.6h0M601.2 145.9h0M603.9 97.5h0M604.1 144.0h0M611.8 130.9h0M602.2 126.4h0M602.1 148.3h0M601.9 163.4h0M610.7 161.9h0M600.7 139.8h0M610.1 158.9h0M600.8 159.0h0M603.0 139.2h0M611.7 152.5h0M608.7 160.4h0M611.7 128.6h0M609.8 161.5h0M601.0 157.7h0M601.9 96.9h0M611.4 151.6h0M602.4 127.9h0M610.9 154.0h0M601.1 142.0h0M600.7 139.4h0M600.7 144.1h0M608.7 157.2h0M611.2 126.6h0M611.9 148.3h0M611.5 143.7h0M610.9 117.2h0M603.8 141.7h0M601.9 158.0h0M612.0 118.3h0M611.5 133.7h0M610.0 160.6h0M603.0 160.3h0M611.2 161.3h0M612.0 154.9h0M611.5 142.0h0M611.6 125.5h0M611.2 140.0h0M601.6 111.1h0M601.3 140.1h0M602.4 147.1h0M611.5 154.0h0M601.8 157.1h0M611.6 111.8h0M601.3 140.7h0M609.9 145.4h0M611.4 144.9h0M602.3 132.5h0M611.0 146.9h0M604.1 139.4h0M610.9 162.7h0M602.2 152.1h0M609.3 148.6h0M601.6 150.3h0M600.7 157.5h0M601.6 120.4h0M611.0 122.9h0M612.1 151.1h0M604.1 132.4h0M611.7 162.8h0M604.0 116.6h0M611.0 156.6h0M611.7 150.6h0M611.8 157.2h0M600.7 158.4h0M612.1 156.5h0M601.6 156.2h0M601.4 148.5h0M600.7 145.1h0M601.6 137.8h0M610.4 156.8h0M611.6 140.6h0M611.7 135.5h0M600.8 156.1h0M611.5 149.0h0M611.3 152.6h0M612.1 163.7h0M601.7 160.7h0M601.7 153.2h0M604.1 150.9h0M610.2 130.7h0M610.7 142.3h0M601.8 113.4h0M609.4 152.3h0M608.7 158.9h0M600.7 154.7h0M611.2 158.5h0M601.3 154.6h0M601.5 100.5h0M601.0 128.9h0M601.5 163.1h0M601.4 155.9h0M610.3 158.7h0M602.4 154.8h0M602.0 121.4h0M601.0 134.5h0M600.7 147.1h0M611.8 115.2h0M602.1 153.4h0M611.3 141.4h0M611.1 133.7h0M610.9 147.1h0M601.0 159.8h0M612.0 162.9h0M600.9 163.1h0M611.0 156.6h0M601.2 162.4h0M602.0 161.5h0M600.7 163.1h0M610.8 162.3h0M601.1 146.3h0M602.1 155.7h0M610.8 151.1h0M611.7 152.4h0M602.0 149.0h0M611.6 154.3h0M611.3 148.7h0M601.2 153.9h0M601.3 131.1h0M610.4 161.7h0M601.3 149.0h0M604.1 156.2h0M602.4 163.1h0M600.8 158.4h0M608.8 154.0h0M611.8 158.7h0M609.9 135.6h0M612.0 145.4h0M602.3 159.1h0M611.6 152.9h0M610.9 144.3h0M600.9 121.8h0M608.7 160.3h0M600.8 143.0h0M601.2 138.3h0M609.5 160.3h0M601.6 123.0h0M610.2 118.3h0M600.9 162.5h0M610.4 112.5h0M601.3 119.8h0M611.5 156.3h0M601.3 155.3h0M610.8 136.9h0M601.3 147.9h0M600.9 158.5h0M603.0 144.2h0M600.9 155.5h0M612.1 163.8h0M611.0 157.3h0M603.9 155.5h0M601.4 163.3h0M611.5 157.3h0M600.8 120.6h0M600.9 125.5h0M611.1 140.9h0M600.9 116.1h0M609.6 149.1h0M602.7 156.8h0M610.5 156.0h0M610.6 144.3h0M611.8 138.1h0M612.0 142.3h0M611.4 136.8h0M600.9 155.5h0M611.9 125.3h0M601.4 157.0h0M602.7 143.3h0M611.7 160.1h0M601.5 127.8h0M610.3 158.4h0M601.5 144.4h0M611.4 154.9h0M602.9 151.5h0M611.8 134.5h0M611.0 155.4h0M601.3 120.7h0M604.0 155.6h0M601.8 156.8h0M601.4 161.8h0M600.8 146.8h0M602.3 163.5h0M601.6 120.4h0M611.5 155.0h0M600.7 122.2h0M608.7 120.1h0M608.7 157.6h0M602.5 161.4h0M611.1 159.4h0M602.8 155.3h0M601.2 159.6h0M611.3 135.9h0M601.7 135.0h0M609.7 154.8h0M608.8 144.9h0M604.0 106.6h0M601.8 142.4h0M601.8 143.4h0M600.8 154.2h0M603.0 152.6h0M601.9 124.9h0M610.6 159.8h0M611.8 163.0h0M608.7 127.9h0M601.5 143.1h0M601.6 162.4h0M612.1 156.5h0M601.5 124.9h0M610.5 143.9h0M612.0 153.9h0M611.0 162.6h0M600.7 161.5h0M610.3 113.0h0M600.8 163.6h0M611.8 140.8h0M602.5 158.0h0M612.0 144.4h0M612.1 159.2h0M612.1 156.0h0M611.8 159.4h0M603.0 153.8h0M600.8 158.7h0M611.9 141.9h0M609.7 156.1h0M601.8 152.6h0M611.6 132.3h0M600.7 160.6h0M600.8 152.4h0M602.4 160.8h0M601.8 110.4h0M601.1 163.9h0M608.7 162.2h0M604.1 163.7h0M601.1 127.9h0M611.3 157.5h0M611.0 160.2h0M600.8 90.4h0M609.6 160.9h0M601.7 122.4h0M609.8 154.7h0M611.1 155.0h0M602.8 149.4h0M601.5 148.1h0M609.5 136.3h0M611.5 143.1h0M611.2 153.3h0M610.5 153.9h0M601.3 126.8h0M600.9 139.5h0M610.5 139.3h0M600.9 162.1h0M600.9 163.6h0M612.0 160.9h0M603.8 128.6h0M600.8 163.8h0M611.0 154.6h0M612.0 106.4h0M611.3 103.3h0M610.4 120.0h0M611.9 162.6h0M604.1 146.8h0M612.1 149.8h0M611.8 145.2h0M600.9 161.2h0M600.9 142.5h0M602.7 159.0h0M602.1 148.8h0M601.3 134.1h0M612.0 159.7h0M600.7 130.8h0M601.0 163.3h0M601.2 106.4h0M611.7 157.0h0M601.0 139.6h0M611.9 158.5h0M611.9 119.9h0M611.9 156.6h0M601.9 106.8h0M603.6 124.2h0M601.1 127.4h0M601.2 138.4h0M600.8 156.4h0M600.7 163.5h0M610.7 150.2h0M601.0 158.9h0M602.4 105.9h0M610.9 149.1h0M600.8 114.8h0M601.7 162.6h0M601.5 151.3h0M601.6 140.1h0M611.0 120.6h0M611.0 159.3h0M608.7 157.8h0M602.9 159.5h0M603.4 149.7h0M601.8 155.4h0M601.9 158.5h0M610.9 158.8h0M611.1 150.2h0" stroke="#bcbcbc" stroke-opacity="0.85" stroke-width="1.24" stroke-linecap="round" fill="none"/>
<path d="M593.7 148.6h0M599.9 161.6h0M584.9 144.9h0M596.9 145.3h0M580.0 159.4h0M582.0 150.1h0M579.2 126.9h0M597.6 148.5h0M590.4 156.6h0M589.2 163.9h0M591.2 143.7h0M593.7 159.7h0M586.4 145.9h0M599.5 155.3h0M570.2 155.9h0M599.2 148.5h0M550.6 110.5h0M587.1 163.2h0M598.5 163.4h0M578.6 119.6h0M596.8 136.8h0M595.4 155.6h0M562.8 131.7h0M571.1 155.8h0M558.4 161.4h0M599.1 138.7h0M597.5 153.2h0M594.5 158.5h0M600.5 145.7h0M600.1 160.4h0M572.2 152.3h0M588.4 155.0h0M597.1 151.5h0M581.0 126.2h0M595.7 154.6h0M596.8 152.2h0M592.7 148.1h0M596.7 155.7h0M591.4 161.8h0M599.5 159.1h0M579.1 153.8h0M595.7 135.2h0M600.6 157.3h0M585.6 158.5h0M572.2 159.0h0M598.9 155.4h0M582.9 145.9h0M593.6 145.2h0M576.1 160.3h0M590.7 153.3h0M593.5 113.9h0M593.1 151.3h0M600.2 146.0h0M549.0 160.5h0M576.3 146.9h0M556.4 143.3h0M584.4 149.0h0M599.2 161.9h0M587.6 155.8h0M585.1 148.8h0M594.3 163.4h0M599.0 153.0h0M599.5 148.6h0M590.1 162.5h0M594.0 162.7h0M597.4 130.4h0M571.9 128.4h0M595.3 144.8h0M578.7 153.7h0M597.8 138.8h0M591.4 161.7h0M579.3 130.2h0M594.2 146.3h0M595.9 134.0h0M589.0 141.1h0M598.0 156.2h0M594.3 144.2h0M592.4 105.3h0M592.5 156.3h0M585.6 154.1h0M595.6 162.2h0M597.2 161.2h0M597.8 163.3h0M598.7 153.5h0M598.9 131.6h0M598.7 126.2h0M595.3 155.2h0M593.5 159.3h0M595.8 148.8h0M596.6 156.4h0M597.0 144.7h0M594.1 127.0h0M600.1 162.3h0M598.6 156.6h0M596.5 157.2h0M581.4 160.6h0M590.7 158.1h0M592.4 157.0h0M591.0 131.8h0M591.1 161.0h0M597.5 144.2h0M593.6 145.0h0M593.7 128.8h0M585.7 162.5h0M563.5 157.5h0M586.8 143.9h0M598.9 152.3h0M564.6 131.4h0M597.4 146.2h0M598.4 144.2h0M584.0 148.9h0M595.0 163.4h0M597.5 157.2h0M595.8 161.4h0M586.7 114.4h0M590.7 104.0h0M590.0 156.3h0M584.2 157.5h0M570.9 157.1h0M599.6 137.7h0M592.1 137.3h0M592.3 140.4h0M585.7 160.8h0M579.4 137.4h0M572.9 139.9h0M598.6 156.7h0M562.8 158.9h0M588.4 154.2h0M598.5 110.3h0M586.9 141.1h0M593.8 147.5h0M597.8 160.9h0M600.6 158.8h0M575.8 163.8h0M600.2 162.4h0M597.3 162.1h0M599.5 160.5h0M571.4 157.5h0M591.1 122.1h0M600.0 143.1h0M583.1 135.5h0M598.5 153.1h0M598.3 142.4h0M588.3 156.4h0M593.7 114.7h0M599.9 146.6h0M592.1 153.1h0M592.4 156.6h0M579.0 144.4h0M598.5 162.3h0M599.1 150.8h0M589.7 134.9h0M594.5 149.5h0M593.8 158.5h0M574.4 147.7h0M583.4 151.6h0M599.1 139.0h0M595.5 145.6h0M585.8 161.1h0M596.1 155.9h0M596.5 158.8h0M596.0 148.2h0M589.0 146.1h0M579.6 151.5h0M597.6 114.4h0M561.8 140.1h0M600.3 161.1h0M584.9 157.9h0M593.4 154.4h0M599.7 148.6h0M599.8 122.0h0M593.6 156.1h0M580.3 115.3h0M599.8 152.1h0M599.7 153.0h0M594.5 157.3h0M579.2 163.9h0M586.8 162.8h0M596.5 149.1h0M593.3 125.2h0M592.1 143.3h0M587.8 116.6h0M577.9 150.7h0M600.6 163.2h0M575.7 150.5h0M597.1 162.2h0M596.9 151.4h0M584.0 160.1h0M592.6 161.9h0M594.8 146.6h0M598.2 155.3h0M585.9 154.8h0M600.1 154.2h0M599.1 157.0h0M597.1 148.0h0M586.3 153.8h0M597.4 159.5h0M569.3 157.0h0M590.5 114.1h0M561.5 152.7h0M592.7 155.8h0M590.3 124.1h0M590.2 149.6h0M573.0 144.9h0M591.3 162.5h0M587.4 161.2h0M591.9 130.9h0M592.2 161.6h0M595.9 139.6h0M597.4 161.4h0M594.6 146.3h0M593.2 157.8h0M585.0 164.0h0M573.5 154.2h0M577.2 142.4h0M594.8 162.4h0M569.0 149.6h0M593.6 144.9h0M593.1 154.9h0M599.6 142.2h0M572.5 133.9h0M592.7 160.2h0M566.9 134.7h0M597.6 142.8h0M582.6 161.2h0M596.2 137.0h0M598.0 143.1h0M580.2 150.7h0M585.5 146.5h0M600.0 124.3h0M596.8 146.2h0M590.7 152.6h0M592.0 145.1h0M585.2 152.2h0M594.5 156.7h0M551.3 157.4h0M590.8 151.0h0M598.5 161.4h0M571.6 152.0h0M592.6 161.9h0M590.7 121.4h0M597.5 157.4h0M597.2 160.9h0M587.4 154.8h0M590.9 162.2h0M547.7 158.7h0M581.9 139.6h0M590.4 105.6h0M573.5 144.4h0M588.1 157.8h0M597.8 133.0h0M600.7 163.2h0M596.6 155.9h0M580.4 152.4h0M575.7 147.0h0M596.9 163.9h0M547.4 149.5h0M575.6 130.3h0M572.6 157.2h0M580.5 128.9h0M579.0 157.7h0M595.9 135.5h0M600.3 149.8h0M589.5 135.7h0M582.5 162.7h0M596.0 149.0h0M595.5 153.4h0M599.2 127.7h0M600.2 134.4h0M583.2 145.2h0M570.4 140.6h0M598.8 150.1h0M587.6 158.5h0M587.2 161.8h0M587.0 162.8h0M583.8 115.9h0M574.5 140.3h0M590.5 161.4h0M597.6 146.1h0M583.4 162.8h0M585.8 117.9h0M599.6 145.0h0M595.6 158.2h0M579.8 160.6h0M592.8 155.9h0M586.0 163.1h0M597.3 159.2h0M579.8 146.7h0M589.2 148.4h0M594.2 153.3h0M596.5 146.3h0M594.6 163.1h0M592.6 150.9h0M585.5 152.9h0M599.0 153.4h0M595.6 133.6h0M600.1 160.3h0M588.2 151.6h0M590.8 145.8h0M600.5 160.8h0M595.1 155.1h0M582.6 154.9h0M588.3 141.1h0M599.2 133.7h0M586.2 163.1h0M584.6 142.4h0M593.4 158.0h0M597.1 155.7h0M591.7 163.0h0M594.5 156.5h0M593.7 123.4h0M591.3 144.2h0M581.5 131.2h0M593.3 160.5h0M585.6 149.5h0M600.6 140.3h0M567.1 157.1h0M598.0 151.6h0M581.3 159.0h0M599.4 131.5h0M600.5 150.5h0M594.9 154.6h0M578.9 153.4h0M575.6 159.5h0M594.6 161.9h0M596.6 154.4h0M585.4 160.8h0M567.6 143.4h0M592.2 151.1h0M597.9 158.6h0M594.6 159.8h0M600.0 144.9h0M556.6 159.2h0M593.3 154.6h0M580.4 152.5h0M586.3 163.6h0M585.5 153.1h0M570.3 141.3h0M589.7 159.2h0M556.3 153.8h0M585.9 160.5h0M594.6 152.7h0M586.8 150.0h0M593.4 118.8h0M569.7 153.5h0M585.0 157.1h0M592.9 111.8h0M595.0 150.0h0M558.9 153.4h0M596.6 139.1h0M598.1 159.1h0M588.2 129.4h0M596.9 159.0h0M595.8 146.5h0M583.0 146.9h0M596.9 148.6h0M596.6 127.8h0M592.2 160.5h0M594.6 151.8h0M580.5 158.9h0M586.2 157.0h0M589.3 132.2h0M584.5 117.6h0M596.0 163.3h0M599.3 143.5h0M587.5 161.9h0M592.6 162.8h0M599.4 163.3h0M576.4 150.7h0M592.0 161.9h0M588.3 155.4h0M577.1 148.9h0M594.1 150.6h0M591.2 144.8h0M593.6 114.2h0M599.1 149.9h0M577.5 161.8h0M600.4 129.4h0M582.8 141.1h0M566.2 160.6h0M599.2 157.5h0M594.8 143.4h0M578.3 162.1h0M582.1 163.4h0M600.2 133.2h0M600.1 158.7h0M599.2 151.0h0M595.5 146.4h0M574.8 152.9h0M590.7 147.1h0M590.7 161.4h0M579.3 160.8h0M573.3 159.1h0M597.3 156.8h0M581.2 151.2h0M596.2 151.0h0M585.5 159.7h0M548.7 161.6h0M588.7 108.3h0M592.3 159.3h0M572.8 163.5h0M594.3 154.2h0M597.6 154.0h0M577.9 109.3h0M600.3 131.0h0M594.7 154.3h0M594.0 155.2h0M584.5 146.5h0M581.5 159.2h0M575.5 150.1h0M569.2 163.8h0M590.1 123.2h0M574.6 150.1h0M598.6 139.8h0M592.5 119.8h0M598.9 130.9h0M576.6 139.6h0M582.4 157.9h0M587.6 161.1h0M593.7 159.4h0M580.1 158.6h0M591.7 111.3h0M599.9 112.3h0M599.6 161.3h0M590.7 162.8h0M566.9 142.8h0M595.5 154.9h0M582.7 115.1h0M595.3 148.7h0M594.2 123.1h0M595.9 144.7h0M581.5 156.9h0M572.3 145.8h0M596.1 155.3h0M568.5 133.6h0M583.5 162.4h0M597.3 161.1h0M590.8 163.3h0M560.7 163.0h0M597.8 137.9h0M576.4 137.1h0M600.3 152.1h0M599.1 160.0h0M576.8 139.0h0M599.5 157.0h0M599.3 138.3h0M569.9 126.5h0M582.3 161.8h0M595.2 143.3h0M598.8 122.5h0M562.3 144.4h0M587.5 158.8h0M588.8 143.4h0M597.5 157.7h0M598.8 154.2h0M580.1 156.7h0M588.3 156.8h0M594.1 138.0h0M578.4 153.3h0M590.3 163.4h0M590.5 144.5h0M600.6 146.2h0M595.1 122.0h0M597.7 147.0h0M593.3 161.4h0M596.8 145.6h0M584.7 142.8h0M575.3 142.4h0M570.0 140.7h0M597.1 146.6h0M596.9 141.5h0M581.9 161.1h0M587.2 111.3h0M596.9 144.4h0M586.1 134.3h0M598.4 161.1h0M590.0 161.5h0M594.9 152.7h0M595.7 146.4h0M592.6 159.9h0M599.5 157.3h0M597.3 161.4h0M595.0 163.6h0M590.4 118.2h0M581.4 142.8h0M593.1 147.8h0M600.0 147.5h0M586.2 117.0h0M594.1 140.1h0M598.3 125.2h0M600.0 157.2h0M587.2 161.8h0M596.0 163.7h0M584.3 140.0h0M578.2 151.1h0M553.0 146.0h0M597.1 153.4h0M579.2 160.4h0M597.0 146.3h0M591.1 155.9h0M597.6 157.1h0M597.1 156.4h0M588.7 159.7h0M585.8 132.3h0M554.4 152.2h0M589.0 161.0h0M600.6 155.4h0M588.3 158.5h0M565.8 151.2h0M586.9 154.4h0M589.7 145.6h0M568.0 153.4h0M585.6 157.3h0M584.3 159.4h0M583.4 152.1h0M597.5 160.3h0M578.5 163.4h0M595.5 163.8h0M592.2 160.3h0M582.3 138.2h0M586.2 154.1h0M591.3 147.2h0M596.4 155.3h0M598.1 155.3h0M599.5 114.1h0M586.6 142.2h0M580.4 153.9h0M595.7 160.6h0M570.6 145.6h0M597.9 162.6h0M595.9 162.6h0M574.7 148.1h0M593.1 160.4h0M588.6 159.6h0M586.8 159.1h0M583.8 163.4h0M581.8 118.8h0M590.1 162.4h0M594.2 143.7h0M600.1 154.1h0M582.3 160.2h0M600.5 143.3h0M573.3 151.1h0M585.1 95.0h0M597.4 153.1h0M598.6 146.7h0M598.0 158.9h0M596.7 160.9h0M577.3 128.4h0M595.2 155.1h0M577.7 145.5h0M583.2 111.6h0M578.3 141.5h0M598.6 157.3h0M597.1 106.8h0M597.5 147.9h0M598.4 127.3h0M593.3 150.3h0M589.3 142.2h0M598.5 156.9h0M584.1 153.6h0M590.2 154.0h0M598.7 160.4h0M592.0 155.6h0M600.5 144.2h0M595.6 157.2h0M593.9 158.1h0M589.1 156.5h0M592.8 155.6h0M589.9 138.3h0M579.0 163.9h0M588.4 150.2h0M590.7 119.9h0M599.4 154.3h0M582.2 114.8h0M593.6 156.0h0M594.3 143.4h0M588.5 123.7h0M597.7 123.6h0M599.9 163.1h0M589.7 144.4h0M566.9 160.7h0M598.1 160.4h0M600.0 160.9h0M592.8 106.0h0M578.8 121.3h0M587.4 138.1h0M597.5 162.2h0M581.4 162.0h0M588.2 122.2h0M585.3 160.1h0M574.8 162.8h0M585.6 140.6h0M587.0 155.4h0M592.9 148.2h0M588.7 98.2h0M591.3 157.9h0M597.0 135.6h0M594.4 151.4h0M593.1 125.9h0M575.8 162.5h0M597.1 143.9h0M584.5 138.6h0M573.1 145.9h0M591.1 142.9h0M595.6 139.8h0M591.1 122.9h0M587.8 158.3h0M600.5 156.0h0M574.1 143.9h0M585.1 161.8h0M592.2 145.7h0M594.9 155.2h0M572.8 159.4h0M600.4 150.0h0M592.9 161.7h0M591.4 161.7h0M576.1 152.9h0M586.4 142.8h0M583.5 126.6h0M596.5 142.0h0M598.5 120.4h0M599.6 147.1h0M599.5 150.3h0M596.9 134.9h0M584.8 155.9h0M587.6 143.3h0M593.8 111.2h0M593.6 124.3h0M598.3 160.0h0M591.5 146.0h0M585.7 140.2h0M572.7 144.8h0M596.3 137.7h0M600.6 129.8h0M587.1 150.5h0M597.2 158.5h0M597.6 147.9h0M600.1 155.9h0M593.7 158.0h0M571.6 112.7h0M579.6 158.0h0M595.9 128.6h0M587.9 128.3h0M594.2 131.9h0M600.1 126.4h0M582.8 156.8h0M587.3 159.1h0M587.2 160.0h0M579.5 154.7h0M594.9 148.7h0M600.3 114.5h0M599.0 151.5h0M594.9 159.6h0M594.6 149.1h0M596.8 157.4h0M571.8 121.7h0M597.5 113.3h0M595.9 134.2h0M598.9 124.9h0M553.3 163.7h0M585.9 164.0h0M578.0 144.7h0M597.3 159.2h0M594.3 156.3h0M599.2 133.5h0M569.2 150.9h0M592.8 146.1h0M597.7 132.2h0M571.0 113.6h0M597.3 138.3h0M578.9 133.5h0M579.1 143.1h0M597.4 119.1h0M598.1 129.3h0M577.8 157.8h0M597.7 111.6h0M600.3 156.1h0M597.5 160.3h0M594.9 140.3h0M575.7 149.9h0M575.2 154.9h0M600.2 163.4h0M596.5 162.7h0M598.6 118.2h0M593.4 163.7h0M589.9 143.6h0M598.7 157.1h0M585.6 141.5h0M597.8 97.7h0M578.6 160.6h0M599.0 162.2h0M581.6 148.1h0M575.1 162.6h0M589.2 139.0h0M567.3 159.6h0M598.8 148.6h0M596.3 122.8h0M597.9 163.5h0M565.9 127.9h0M587.3 149.2h0M593.5 160.0h0M583.5 163.7h0M583.6 151.3h0M576.3 114.6h0M574.5 156.8h0M597.9 138.0h0M587.9 152.1h0M598.1 131.3h0M597.2 163.7h0M596.1 118.4h0M592.7 158.7h0M559.2 157.4h0M598.5 154.8h0M600.5 160.3h0M594.0 147.0h0M593.0 155.9h0M599.8 163.8h0M598.7 138.9h0M600.2 146.1h0" stroke="#2a2af5" stroke-opacity="1.0" stroke-width="1.50" stroke-linecap="round" fill="none"/>
<path d="M616.0 149.0h0M614.4 140.2h0M612.2 145.9h0M615.5 155.0h0M631.3 157.2h0M632.0 109.5h0M633.9 140.8h0M653.7 148.7h0M649.0 162.3h0M614.3 149.5h0M634.1 157.6h0M622.6 130.2h0M612.7 153.6h0M642.8 143.3h0M612.8 108.9h0M622.4 123.4h0M619.8 162.6h0M624.4 157.2h0M613.5 154.7h0M614.7 148.1h0M648.7 145.0h0M649.0 119.5h0M613.6 155.9h0M620.1 110.5h0M650.6 149.3h0M617.4 108.6h0M612.9 115.1h0M623.6 150.4h0M628.2 161.4h0M650.9 125.4h0M616.7 144.9h0M635.6 163.1h0M636.9 157.0h0M627.2 77.4h0M641.6 149.8h0M626.9 149.8h0M639.9 126.6h0M668.2 121.5h0M616.2 150.6h0M618.5 138.6h0M629.4 163.2h0M641.1 157.2h0M626.6 162.7h0M632.1 159.6h0M618.4 135.5h0M621.2 138.8h0M624.0 157.7h0M656.6 158.9h0M640.8 162.2h0M620.6 147.4h0M624.5 151.5h0M614.1 139.4h0M642.6 125.5h0M617.4 160.1h0M676.3 159.6h0M656.0 163.9h0M642.8 163.1h0M626.7 154.0h0M622.7 137.0h0M615.3 161.7h0M627.5 152.6h0M635.9 160.0h0M624.2 148.9h0M618.4 136.2h0M616.8 148.9h0M660.7 121.3h0M619.9 159.2h0M630.1 160.0h0M619.4 144.2h0M615.4 138.5h0M612.7 126.9h0M624.5 78.3h0M639.5 157.1h0M616.0 159.8h0M619.7 132.4h0M612.6 156.6h0M625.9 132.8h0M613.2 150.0h0M659.7 158.0h0M618.0 159.1h0M624.6 150.8h0M620.5 148.7h0M615.4 137.2h0M648.8 160.9h0M612.9 163.0h0M635.3 158.6h0M626.9 137.0h0M667.7 162.6h0M627.7 131.5h0M623.2 157.4h0M616.1 102.7h0M613.7 150.3h0M614.8 155.1h0M613.0 133.1h0M634.5 158.7h0M654.6 154.2h0M612.8 126.3h0M617.2 160.7h0M637.1 145.5h0M621.7 145.4h0M641.1 162.1h0M615.2 146.5h0M630.4 137.5h0M638.8 124.4h0M614.4 158.3h0M632.5 160.9h0M623.7 163.4h0M632.5 156.7h0M667.5 146.5h0M633.1 154.3h0M614.3 111.6h0M624.1 116.0h0M617.1 158.9h0M618.4 161.9h0M630.4 150.9h0M626.6 141.3h0M627.3 125.3h0M629.8 160.8h0M641.7 137.5h0M626.4 159.7h0M617.3 134.5h0M635.5 126.9h0M617.5 91.0h0M630.0 146.0h0M661.4 163.6h0M632.1 147.2h0M612.9 150.8h0M635.2 159.7h0M617.4 163.2h0M615.0 138.6h0M626.9 160.4h0M622.0 160.0h0M623.4 143.3h0M670.1 138.1h0M618.5 102.8h0M641.7 142.6h0M612.8 159.9h0M623.4 125.1h0M658.8 134.0h0M617.6 144.2h0M629.1 103.3h0M612.5 110.2h0M641.0 160.4h0M637.8 139.5h0M612.4 145.9h0M624.3 156.6h0M616.0 162.3h0M673.4 137.5h0M644.6 115.7h0M637.2 124.2h0M620.9 74.1h0M616.4 150.0h0M614.5 146.7h0M645.3 163.2h0M615.1 134.6h0M615.7 148.5h0M639.8 157.2h0M620.4 96.6h0M612.5 156.8h0M614.0 159.0h0M620.4 154.0h0M622.5 69.9h0M632.8 142.0h0M627.8 133.3h0M640.2 151.1h0M615.5 148.6h0M619.4 135.8h0M617.7 147.4h0M620.7 135.9h0M627.2 116.8h0M614.7 144.2h0M628.9 151.8h0M617.4 79.3h0M625.0 147.3h0M613.8 151.4h0M654.5 158.1h0M614.1 162.3h0M651.2 99.2h0M614.2 152.3h0M645.2 56.2h0M619.1 158.3h0M612.3 133.4h0M618.3 126.1h0M625.0 152.0h0M619.9 100.3h0M612.3 119.4h0M621.5 136.8h0M632.5 95.9h0M669.3 154.4h0M614.3 146.3h0M626.5 163.6h0M614.0 105.1h0M629.4 151.5h0M629.9 119.0h0M616.9 48.6h0M618.9 146.0h0M636.6 158.8h0M628.7 155.1h0M616.4 131.9h0M639.8 161.9h0M636.0 145.7h0M645.9 130.0h0M645.0 160.7h0M617.6 140.4h0M641.0 145.5h0M613.5 156.9h0M628.6 157.1h0M645.1 132.2h0M645.5 108.2h0M624.0 163.1h0M616.8 163.9h0M616.7 159.6h0M621.9 145.8h0M617.6 118.5h0M620.9 131.7h0M622.3 158.7h0M641.1 158.0h0M614.6 108.7h0M614.0 152.6h0M621.4 99.4h0M620.7 149.3h0M634.0 123.7h0M623.1 117.9h0M617.0 134.5h0M613.8 159.4h0M661.9 131.1h0M621.7 149.3h0M614.6 157.8h0M629.6 113.9h0M615.1 136.2h0M617.9 158.6h0M629.7 119.3h0M620.0 150.2h0M620.0 161.8h0M630.9 129.1h0M612.9 80.6h0M612.2 143.9h0M665.6 153.5h0M616.7 137.5h0M615.0 160.2h0M625.5 155.1h0M616.5 145.2h0M632.9 161.4h0M620.8 148.3h0M673.9 157.1h0M613.2 113.9h0M636.5 128.6h0M624.7 160.5h0M617.6 145.7h0M661.4 163.7h0M612.5 153.5h0M638.1 156.1h0M628.6 153.8h0M639.8 155.8h0M635.3 162.6h0M648.0 101.8h0M632.2 140.9h0M616.0 108.5h0M646.1 135.6h0M648.0 126.2h0M621.0 163.5h0M615.4 159.1h0M622.3 150.9h0M614.5 157.3h0M613.7 154.2h0M642.5 117.6h0M661.8 155.4h0M619.5 157.4h0M615.0 160.4h0M658.0 92.5h0M613.7 155.7h0M619.1 98.6h0M655.7 126.7h0M619.3 146.7h0M624.0 151.6h0M629.9 130.9h0M628.8 163.3h0M620.2 150.3h0M614.0 147.6h0M622.5 95.7h0M622.5 141.3h0M665.3 108.5h0M626.2 97.4h0M656.2 161.5h0M616.3 158.4h0M628.6 152.0h0M613.9 133.8h0M642.4 156.6h0M614.8 140.7h0M629.9 149.9h0M642.6 128.4h0M648.9 163.1h0M615.2 156.7h0M675.4 78.7h0M615.9 103.1h0M624.4 159.9h0M631.6 149.4h0M620.4 154.0h0M612.7 136.2h0M613.2 107.1h0M616.1 148.9h0M612.9 163.7h0M613.6 157.7h0M650.3 99.8h0M622.6 84.5h0M652.3 136.6h0M617.6 153.0h0M650.6 154.3h0M612.7 163.2h0M621.8 136.8h0M636.9 143.6h0M639.9 161.5h0M622.2 135.8h0M641.5 160.1h0M642.4 110.8h0M631.0 157.6h0M612.7 102.5h0M639.8 162.6h0M643.0 162.2h0M616.7 156.2h0M623.1 142.0h0M617.4 148.0h0M643.7 161.4h0M618.5 149.3h0M624.9 153.2h0M621.7 148.9h0M622.5 161.4h0M629.2 79.6h0M614.0 151.5h0M613.2 139.4h0M619.5 121.4h0M629.3 156.9h0M616.2 137.7h0M622.2 142.8h0M616.6 152.6h0M614.4 141.2h0M641.2 147.4h0M651.3 139.1h0M616.5 155.4h0M634.0 162.1h0M650.4 156.7h0M634.8 145.7h0M652.8 147.2h0M612.9 127.4h0M615.0 142.8h0M662.5 129.4h0M617.9 89.8h0M615.2 129.1h0M642.7 150.3h0M619.8 163.7h0M625.9 89.0h0M618.1 94.6h0M625.1 142.8h0M637.9 143.5h0M616.3 123.6h0M632.3 107.3h0M626.2 116.8h0M647.9 101.5h0M621.0 151.4h0M616.8 85.3h0M616.4 150.8h0M634.0 124.5h0M617.9 127.9h0M645.6 126.8h0M628.3 161.4h0M616.5 148.4h0M627.7 139.9h0M613.7 80.7h0M621.4 141.5h0M622.2 159.0h0M623.2 47.6h0M628.6 146.2h0M651.9 158.6h0M617.1 156.1h0M615.1 127.7h0M617.7 159.5h0M630.3 151.3h0M612.6 128.4h0M619.0 137.0h0M623.1 155.9h0M671.4 154.1h0M622.1 157.4h0M614.9 159.9h0M629.5 53.8h0M614.0 106.6h0M620.7 148.0h0M621.5 133.8h0M619.8 160.1h0M644.9 147.8h0M624.5 124.8h0M637.2 130.5h0M635.4 59.1h0M631.0 144.7h0M623.9 144.7h0M613.2 101.0h0M626.7 146.9h0M628.4 92.5h0M628.9 143.4h0M615.6 153.3h0M642.2 155.1h0M618.9 161.5h0M612.9 153.6h0M614.0 137.8h0M617.1 82.4h0M634.9 139.0h0M622.3 122.1h0M617.5 154.2h0M654.2 150.0h0M628.9 163.6h0M613.2 150.3h0M634.6 128.5h0M661.2 149.5h0M614.7 94.4h0M615.9 145.2h0M632.4 114.2h0M620.7 163.9h0M677.7 146.3h0M613.0 162.2h0M635.5 127.2h0M613.2 161.6h0M669.7 160.5h0M614.8 161.9h0M624.5 110.5h0M667.8 160.6h0M616.5 156.6h0M651.7 145.0h0M619.4 149.4h0M616.3 152.3h0M621.8 158.8h0M629.2 150.5h0M623.8 155.8h0M624.9 123.9h0M632.7 160.1h0M642.7 102.8h0M631.5 156.0h0M613.3 58.9h0M619.3 129.3h0M617.5 113.2h0M622.3 161.8h0M612.3 146.0h0M615.4 150.3h0M617.0 141.1h0M615.0 149.5h0M626.3 145.4h0M614.7 129.5h0M618.7 135.9h0M632.6 149.5h0M617.8 95.2h0M619.0 131.1h0M617.3 105.0h0M648.8 156.7h0M613.9 126.8h0M620.1 147.8h0M618.3 145.5h0M621.4 143.6h0M620.2 162.7h0M650.7 160.1h0M614.9 137.3h0M624.9 155.7h0M612.8 107.6h0M634.1 160.1h0M625.2 133.1h0M615.2 149.0h0M615.8 163.2h0M666.1 156.1h0M636.6 117.8h0M666.6 153.1h0M622.9 137.4h0M648.3 163.7h0M612.5 161.9h0M668.6 160.7h0M622.3 150.2h0M616.1 159.4h0M620.1 119.4h0M613.3 151.8h0M612.9 159.5h0M656.1 124.3h0M612.7 150.5h0M613.8 145.4h0M627.7 126.0h0M629.4 111.8h0M614.2 139.8h0M614.3 163.8h0M613.6 158.0h0M624.2 154.7h0M630.4 156.5h0M630.3 163.1h0M620.1 141.6h0M632.5 152.1h0M650.2 129.4h0M626.1 156.3h0M625.0 132.2h0M623.0 128.1h0M622.0 128.9h0M639.2 133.9h0M672.9 101.0h0M627.6 142.4h0M651.2 163.4h0M658.3 153.5h0M632.5 146.0h0M617.8 115.1h0M614.6 141.9h0M654.5 163.7h0M613.1 163.6h0M615.7 132.0h0M635.4 144.8h0M613.5 161.9h0M617.1 147.5h0M613.3 81.5h0M618.3 123.2h0M623.7 137.9h0M629.4 138.5h0M634.1 162.9h0M615.1 155.1h0M617.7 156.2h0M623.5 160.9h0M634.2 145.0h0M615.7 161.4h0M622.1 158.9h0M620.1 90.6h0M664.2 143.0h0M633.8 126.7h0M621.8 105.7h0M629.6 139.8h0M632.7 155.6h0M656.9 157.9h0M615.7 162.7h0M638.1 102.0h0M639.7 160.4h0M636.7 162.4h0M615.8 163.4h0M634.4 157.2h0M640.9 146.0h0M616.2 141.7h0M619.3 140.8h0M614.2 114.0h0M617.5 114.3h0M619.3 163.3h0M663.9 143.4h0M613.5 163.8h0M663.0 94.5h0M634.4 107.6h0M612.4 114.0h0M629.7 145.5h0M626.5 158.8h0M622.3 127.9h0M667.4 163.0h0M632.6 140.5h0M660.1 153.2h0M637.6 152.0h0M615.3 112.3h0M631.6 155.6h0M615.2 144.9h0M616.2 135.4h0M618.7 69.5h0M671.3 90.5h0M633.7 92.9h0M627.8 156.8h0M650.6 156.6h0M617.7 131.3h0M645.2 113.4h0M627.4 119.1h0M624.8 160.2h0M621.9 148.2h0M659.8 158.6h0M618.8 148.2h0M628.1 159.6h0M625.5 72.2h0M615.5 145.6h0M613.5 144.1h0M612.8 108.8h0M613.3 87.9h0M640.5 129.6h0M634.7 133.4h0M638.4 154.4h0M633.7 162.8h0M616.9 155.6h0M625.0 139.0h0M654.6 81.7h0M622.9 139.8h0M622.2 159.4h0M624.9 155.2h0M648.4 160.1h0M665.9 112.9h0M643.7 138.5h0M633.2 153.5h0M626.1 157.4h0M614.3 161.4h0M614.2 133.1h0M638.1 159.1h0M621.0 137.5h0M622.3 129.7h0M626.1 142.7h0M663.5 136.3h0M625.5 153.6h0M655.5 159.6h0M625.4 145.3h0M612.1 90.7h0M615.8 161.2h0M656.5 153.9h0M646.1 161.5h0M627.6 140.8h0M630.7 154.2h0M616.7 163.3h0M633.3 123.7h0M658.6 162.8h0M616.9 161.5h0M632.6 162.8h0M619.0 163.6h0M621.0 120.3h0M623.8 137.5h0M674.7 146.8h0M640.1 147.9h0M614.7 160.7h0M626.1 135.5h0M634.4 95.2h0M624.4 160.6h0M629.9 161.1h0M620.3 157.3h0M615.4 146.7h0M638.5 101.0h0M642.6 143.7h0M613.0 156.5h0M623.4 104.7h0M633.7 154.4h0M646.7 78.0h0M623.4 141.1h0M666.8 147.8h0M670.1 161.1h0M629.6 141.4h0M650.9 151.1h0M634.9 146.5h0M617.0 102.9h0M614.9 163.7h0M668.1 134.4h0M625.4 163.5h0M639.0 159.6h0M618.1 161.5h0M618.1 150.1h0M621.3 64.4h0M619.7 145.1h0M612.9 110.2h0M623.7 152.7h0M631.4 89.2h0M621.5 114.4h0M613.7 152.5h0M623.5 160.7h0M623.6 148.0h0M624.9 155.8h0M612.4 109.7h0M639.9 147.1h0M636.9 98.7h0M623.1 150.6h0M635.8 73.8h0M626.1 139.3h0M631.1 152.6h0M624.7 80.3h0M643.4 138.7h0M614.3 135.1h0M647.1 155.7h0M613.5 163.7h0M623.6 116.1h0M672.5 143.4h0M620.4 163.3h0M646.5 163.1h0M643.3 133.1h0M643.4 161.2h0M654.6 115.3h0M616.6 150.9h0M620.9 156.6h0M635.9 140.6h0M616.2 83.5h0M620.0 163.0h0M619.2 156.9h0M629.4 162.2h0M634.0 135.4h0M643.2 134.8h0M642.5 144.4h0M642.4 117.1h0M613.2 130.1h0M612.8 157.7h0M615.5 113.5h0M648.4 142.9h0M632.8 156.9h0M644.0 160.9h0M638.0 137.6h0M670.2 163.0h0M631.8 132.2h0M620.8 106.3h0M636.4 115.2h0M634.9 162.3h0M650.5 142.6h0M669.1 159.9h0M612.2 151.7h0M614.0 136.6h0M620.9 124.6h0M612.8 109.4h0M629.1 150.0h0M619.3 151.1h0M614.3 145.9h0M612.6 148.9h0M621.0 163.8h0M620.9 158.0h0M634.1 160.3h0M626.4 120.8h0M621.1 163.1h0M623.7 68.7h0M621.4 102.3h0M612.4 149.7h0M626.7 152.8h0M614.6 162.9h0M619.3 100.9h0M614.4 112.5h0M628.6 124.3h0M622.8 71.2h0M660.8 62.0h0M615.2 123.0h0M650.8 146.6h0M635.8 125.1h0M612.2 139.0h0M622.0 112.7h0M612.2 145.8h0M630.4 118.8h0M663.1 150.8h0M627.2 96.6h0M617.0 143.2h0M612.3 144.2h0M620.8 123.3h0M667.1 151.9h0M643.0 156.3h0M623.4 161.6h0M659.5 140.9h0M647.8 150.3h0M612.7 163.9h0M612.7 163.7h0M629.5 154.8h0M614.5 162.2h0M639.3 159.2h0M618.1 162.6h0M641.9 123.6h0M666.6 148.8h0M625.2 151.7h0M668.3 135.0h0M638.2 163.5h0M614.7 117.8h0M620.5 158.6h0M614.7 157.8h0M628.5 121.1h0M613.6 151.9h0M631.7 157.7h0M672.2 155.5h0M629.2 163.0h0M614.3 146.7h0M617.5 126.1h0M623.2 150.5h0M612.9 56.3h0M613.1 128.0h0M612.4 141.5h0M632.5 151.0h0M616.6 85.4h0M626.8 130.5h0M615.7 134.9h0M612.6 125.7h0M666.5 138.1h0M650.6 139.2h0M613.2 150.9h0M622.3 153.1h0M616.6 124.5h0M617.0 153.5h0M624.8 134.0h0M664.8 159.4h0M671.7 148.6h0M612.3 157.0h0M620.9 158.8h0M655.2 106.6h0M634.8 161.3h0M619.9 105.3h0M643.2 154.7h0M632.4 159.9h0M665.2 162.5h0M639.4 154.6h0M629.4 142.8h0M625.6 135.9h0M632.1 163.7h0M618.3 151.6h0M625.6 137.7h0M623.4 162.7h0M632.1 112.1h0M620.5 160.5h0M628.4 143.9h0M634.0 139.6h0M616.8 139.9h0M635.1 154.3h0M642.4 156.6h0M622.0 144.5h0M641.8 163.4h0M618.5 101.1h0M616.5 150.3h0M645.0 162.8h0M619.9 157.9h0M612.9 128.1h0M631.2 162.9h0M630.6 162.0h0M615.0 151.8h0M622.9 142.4h0M617.4 131.7h0M616.4 137.2h0M632.3 125.1h0M616.6 153.1h0M656.8 106.0h0M615.5 89.8h0M618.3 77.7h0M637.8 142.5h0M619.5 143.5h0M665.8 139.2h0M618.1 163.5h0M626.0 142.4h0M615.0 163.3h0M612.2 155.8h0M657.7 88.6h0M665.6 129.4h0M640.5 137.3h0M623.4 147.2h0M646.0 163.9h0M642.8 162.3h0M613.6 147.9h0M615.6 95.0h0M648.1 144.0h0M641.1 135.9h0M626.0 138.8h0M624.8 148.5h0M662.1 161.0h0M631.3 141.2h0M619.5 149.3h0M628.4 93.3h0M651.2 137.3h0M613.5 144.4h0M613.5 134.9h0M628.0 154.0h0M622.1 132.7h0M637.0 111.8h0M632.9 152.6h0M615.6 69.8h0M633.7 163.7h0M625.3 160.2h0M650.6 132.8h0M639.2 131.2h0M614.0 140.5h0M640.4 89.2h0M631.5 152.4h0M613.2 132.8h0M628.7 163.8h0M644.5 152.0h0M621.2 146.1h0M616.2 139.2h0M619.2 162.5h0M618.1 145.2h0M653.7 129.3h0M628.8 149.3h0M616.7 150.7h0M644.5 142.7h0M646.2 163.6h0M621.5 156.2h0M615.1 104.5h0M633.1 163.8h0M614.3 133.3h0M629.3 155.0h0M616.8 91.0h0M614.0 140.7h0M635.9 134.8h0M622.3 100.7h0M620.7 159.5h0M621.9 139.7h0M629.4 149.0h0M647.3 155.2h0M615.2 141.1h0M625.9 149.7h0M615.6 160.8h0M632.4 134.8h0M646.4 131.1h0M623.1 136.6h0M621.9 143.4h0M620.1 162.9h0M613.8 157.9h0M626.7 160.5h0M622.5 136.4h0M633.2 147.0h0M631.7 150.9h0M637.4 151.9h0M630.0 106.6h0M645.9 159.0h0M629.1 162.9h0M665.7 162.6h0M619.6 110.0h0M626.5 162.3h0M647.9 141.8h0M643.2 140.2h0M618.5 160.0h0M615.9 139.5h0M612.9 141.9h0M625.3 139.9h0M616.5 115.5h0M638.0 64.3h0M626.8 127.7h0M612.9 100.2h0M623.7 162.4h0M616.4 135.8h0M619.8 159.9h0M628.8 146.8h0M619.3 151.3h0M669.4 161.7h0M637.2 92.9h0M613.3 140.5h0M632.1 162.6h0M619.2 113.7h0M627.0 120.7h0M618.6 160.0h0M628.3 156.3h0M614.6 147.1h0M643.9 162.7h0M617.9 155.2h0M634.6 97.3h0M662.5 149.0h0M618.9 156.6h0M618.4 163.2h0M615.2 157.5h0M648.6 157.0h0M616.6 94.2h0M665.1 89.9h0M621.7 162.5h0M617.0 138.9h0M613.2 151.9h0M614.7 126.3h0M631.4 111.5h0M613.6 155.5h0M616.4 159.6h0M614.3 123.8h0M619.9 143.8h0M612.8 136.4h0M634.0 102.9h0M635.1 159.6h0M622.5 158.7h0M632.3 153.8h0M620.3 138.3h0M616.4 141.4h0M631.6 162.1h0M618.5 151.9h0M628.5 162.6h0M650.2 143.1h0M614.2 159.5h0M620.7 96.7h0M662.8 163.2h0M615.4 119.5h0M616.3 163.4h0M625.0 146.4h0M619.1 160.4h0M613.7 161.2h0M629.1 159.1h0M633.2 163.8h0M676.4 100.9h0M644.5 111.7h0M615.6 159.8h0M619.9 161.5h0M623.9 163.0h0M637.2 123.3h0M647.8 142.6h0M632.2 138.3h0M670.1 139.9h0M630.0 144.1h0M627.3 154.1h0M616.2 158.5h0M612.3 150.5h0M624.6 145.4h0M613.6 96.7h0M616.7 163.3h0M637.9 162.3h0M635.7 159.0h0M614.5 158.2h0M630.8 154.7h0M627.9 156.8h0M647.3 152.3h0M613.7 125.2h0M672.4 155.9h0M658.3 134.6h0M629.7 153.9h0M630.1 146.7h0M631.3 121.7h0M648.4 127.4h0M663.9 156.8h0M621.8 162.9h0M624.0 154.5h0M646.6 137.6h0M624.4 112.6h0M652.3 161.5h0M631.0 144.9h0M616.9 153.3h0M622.1 159.1h0M637.7 155.9h0M631.4 98.0h0M618.6 154.6h0M617.9 162.2h0M634.0 151.5h0M614.1 155.2h0M614.0 154.5h0M637.3 147.6h0M662.7 98.4h0M615.8 154.6h0M615.0 139.9h0M651.7 153.5h0M616.1 133.7h0M612.4 106.2h0M627.8 127.1h0M628.5 122.9h0M615.5 152.0h0M615.0 136.5h0M623.8 104.6h0M614.1 163.4h0M624.0 129.6h0M622.3 149.4h0M626.5 163.3h0M649.1 142.2h0M625.6 160.6h0M623.8 163.6h0M669.8 159.7h0M645.3 143.2h0M625.7 161.3h0M616.1 155.6h0M615.5 122.5h0M615.7 163.1h0M617.9 160.2h0M638.9 161.5h0M632.4 158.9h0M625.1 156.5h0M645.6 148.5h0M614.1 163.9h0M627.5 127.6h0M633.8 127.4h0M635.7 144.4h0M628.9 147.4h0M641.5 111.3h0M656.2 150.6h0M674.1 140.9h0M620.5 148.5h0M618.7 128.5h0M655.8 145.5h0M641.6 154.8h0M612.4 146.7h0M668.3 136.5h0M618.9 160.4h0M623.2 120.9h0M674.7 161.0h0M661.8 155.2h0M625.0 156.7h0M613.1 163.8h0M613.7 127.5h0M671.0 161.3h0M633.1 63.0h0M645.5 144.8h0M619.8 157.0h0M648.9 112.6h0M668.3 163.9h0M612.3 157.0h0M612.9 125.5h0M649.4 128.7h0M614.6 156.3h0M625.7 138.3h0M612.4 155.3h0M656.7 99.9h0M613.0 101.0h0M618.1 135.1h0M645.1 128.2h0M618.9 144.2h0M650.5 163.7h0M634.3 108.7h0M629.7 152.7h0M621.2 132.1h0M618.7 136.0h0M630.3 96.6h0M613.8 82.5h0M616.7 157.2h0M634.6 99.0h0M623.0 160.9h0M648.0 111.5h0M621.5 82.4h0M627.1 139.5h0M617.7 163.4h0M614.7 147.0h0M614.5 140.3h0M616.9 163.3h0M625.1 117.3h0M672.6 158.1h0M618.0 159.9h0M615.3 149.9h0M651.8 58.7h0M636.1 151.3h0M651.1 156.1h0M619.8 86.4h0M615.6 143.4h0M642.7 100.4h0M618.8 154.8h0M628.5 158.6h0M645.4 154.6h0M618.4 154.3h0M671.6 147.6h0M617.8 161.7h0M619.7 141.7h0M623.7 154.7h0M624.5 130.7h0M632.5 163.3h0M627.1 121.5h0M637.1 138.8h0M612.7 152.8h0M625.5 138.8h0M643.7 123.3h0M625.2 123.9h0M626.0 157.4h0M614.2 146.3h0M615.1 160.6h0M616.4 147.3h0M640.4 154.4h0M624.4 148.1h0M616.1 143.7h0M624.0 161.6h0M613.4 156.4h0M619.4 161.4h0M615.0 156.1h0M614.7 122.6h0M642.8 155.1h0M633.8 162.3h0M617.4 150.9h0M614.0 163.2h0M645.6 163.9h0M655.2 121.2h0M619.5 160.6h0M648.4 148.3h0M646.1 158.6h0M613.3 122.2h0M621.2 143.3h0M633.0 99.1h0M637.8 153.8h0M627.9 138.0h0M677.1 159.2h0M627.3 150.8h0M650.1 153.3h0M622.3 89.4h0M612.7 136.1h0M614.7 138.0h0M613.2 141.3h0M622.5 163.5h0M613.7 148.4h0M618.9 162.8h0M654.8 99.4h0M625.0 110.2h0M617.0 136.8h0M614.0 159.3h0M627.3 162.9h0M636.5 148.8h0M623.2 159.0h0M616.3 97.0h0M619.1 144.6h0M660.3 146.1h0M637.1 131.3h0M633.5 160.4h0M624.7 151.9h0M629.7 136.7h0M618.7 158.0h0M617.9 155.6h0M635.9 154.3h0M623.1 113.8h0M640.2 149.1h0M625.2 157.4h0M633.9 137.8h0M678.7 150.1h0M625.0 160.0h0M612.4 151.8h0M616.7 107.8h0M627.3 151.2h0M624.0 147.4h0M616.1 135.2h0M620.9 135.4h0M615.4 161.9h0M615.2 127.4h0M666.9 153.2h0M621.2 161.8h0M621.4 147.5h0M613.3 133.8h0M614.8 161.7h0M649.2 96.1h0M625.4 149.3h0M629.0 161.3h0M619.9 152.7h0M614.8 156.0h0M616.5 126.1h0M614.9 157.7h0M639.8 132.0h0M626.9 161.0h0M633.3 134.0h0M613.5 149.8h0M619.8 158.4h0M628.0 137.8h0" stroke="#f52525" stroke-opacity="1.0" stroke-width="1.50" stroke-linecap="round" fill="none"/>
<line x1="482.5" y1="163.97" x2="685.0" y2="163.97" stroke="#555" stroke-width="0.55" stroke-dasharray="0.9,1.7"/>
<line x1="600.66" y1="21.9" x2="600.66" y2="180.3" stroke="#555" stroke-width="0.55" stroke-dasharray="0.9,1.7"/>
<line x1="612.14" y1="21.9" x2="612.14" y2="180.3" stroke="#555" stroke-width="0.55" stroke-dasharray="0.9,1.7"/>
<text x="489.70" y="100.90" font-size="5.2" text-anchor="start" fill="#3a3af0" font-weight="normal" stroke="#3a3af0" stroke-width="0.12">MSMB</text>
<text x="542.10" y="114.40" font-size="5.2" text-anchor="start" fill="#3a3af0" font-weight="normal" stroke="#3a3af0" stroke-width="0.12">ALPL</text>
<text x="540.00" y="120.20" font-size="5.2" text-anchor="start" fill="#3a3af0" font-weight="normal" stroke="#3a3af0" stroke-width="0.12">LCN2</text>
<text x="555.20" y="120.90" font-size="5.2" text-anchor="start" fill="#3a3af0" font-weight="normal" stroke="#3a3af0" stroke-width="0.12">CREB5</text>
<text x="558.00" y="109.10" font-size="5.2" text-anchor="start" fill="#3a3af0" font-weight="normal" stroke="#3a3af0" stroke-width="0.12">PROK2</text>
<text x="530.70" y="143.30" font-size="5.2" text-anchor="start" fill="#3a3af0" font-weight="normal" stroke="#3a3af0" stroke-width="0.12">KAT6A</text>
<text x="544.70" y="150.30" font-size="5.2" text-anchor="start" fill="#3a3af0" font-weight="normal" stroke="#3a3af0" stroke-width="0.12">SLPI</text>
<text x="518.10" y="156.50" font-size="5.2" text-anchor="start" fill="#3a3af0" font-weight="normal" stroke="#3a3af0" stroke-width="0.12">AC084871.1</text>
<text x="581.70" y="54.10" font-size="5.2" text-anchor="start" fill="#3a3af0" font-weight="normal" stroke="#3a3af0" stroke-width="0.12">NAMPT</text>
<text x="580.20" y="62.80" font-size="5.2" text-anchor="start" fill="#3a3af0" font-weight="normal" stroke="#3a3af0" stroke-width="0.12">TNFAIP3</text>
<text x="576.40" y="72.70" font-size="5.2" text-anchor="start" fill="#3a3af0" font-weight="normal" stroke="#3a3af0" stroke-width="0.12">RNF149</text>
<text x="553.10" y="81.80" font-size="5.2" text-anchor="start" fill="#3a3af0" font-weight="normal" stroke="#3a3af0" stroke-width="0.12">SAMSN1</text>
<text x="576.40" y="84.80" font-size="5.2" text-anchor="start" fill="#3a3af0" font-weight="normal" stroke="#3a3af0" stroke-width="0.12">RPLP1</text>
<text x="594.60" y="83.90" font-size="5.2" text-anchor="start" fill="#3a3af0" font-weight="normal" stroke="#3a3af0" stroke-width="0.12">LST1</text>
<text x="558.00" y="92.40" font-size="5.2" text-anchor="start" fill="#3a3af0" font-weight="normal" stroke="#3a3af0" stroke-width="0.12">XPO6</text>
<text x="585.50" y="92.40" font-size="5.2" text-anchor="start" fill="#3a3af0" font-weight="normal" stroke="#3a3af0" stroke-width="0.12">JUNB</text>
<text x="673.80" y="28.70" font-size="5.2" text-anchor="start" fill="#f03030" font-weight="normal" stroke="#f03030" stroke-width="0.12">LYZ</text>
<text x="630.40" y="34.60" font-size="5.2" text-anchor="start" fill="#f03030" font-weight="normal" stroke="#f03030" stroke-width="0.12">GBP1</text>
<text x="651.10" y="40.50" font-size="5.2" text-anchor="start" fill="#f03030" font-weight="normal" stroke="#f03030" stroke-width="0.12">CFD</text>
<text x="601.40" y="45.80" font-size="5.2" text-anchor="start" fill="#f03030" font-weight="normal" stroke="#f03030" stroke-width="0.12">RNF213</text>
<text x="630.00" y="44.10" font-size="5.2" text-anchor="start" fill="#f03030" font-weight="normal" stroke="#f03030" stroke-width="0.12">LY6E</text>
<text x="651.10" y="49.40" font-size="5.2" text-anchor="start" fill="#f03030" font-weight="normal" stroke="#f03030" stroke-width="0.12">SERPINB9</text>
<text x="615.80" y="53.00" font-size="5.2" text-anchor="start" fill="#f03030" font-weight="normal" stroke="#f03030" stroke-width="0.12">CARD16</text>
<text x="638.40" y="54.70" font-size="5.2" text-anchor="start" fill="#f03030" font-weight="normal" stroke="#f03030" stroke-width="0.12">CST3</text>
<text x="605.60" y="58.30" font-size="5.2" text-anchor="start" fill="#f03030" font-weight="normal" stroke="#f03030" stroke-width="0.12">RPS26</text>
<text x="642.00" y="60.40" font-size="5.2" text-anchor="start" fill="#f03030" font-weight="normal" stroke="#f03030" stroke-width="0.12">CDKN1A</text>
<text x="604.10" y="65.30" font-size="5.2" text-anchor="start" fill="#f03030" font-weight="normal" stroke="#f03030" stroke-width="0.12">BAZ1A</text>
<text x="622.60" y="65.30" font-size="5.2" text-anchor="start" fill="#f03030" font-weight="normal" stroke="#f03030" stroke-width="0.12">DMXL2</text>
<text x="661.70" y="65.70" font-size="5.2" text-anchor="start" fill="#f03030" font-weight="normal" stroke="#f03030" stroke-width="0.12">CLEC4D</text>
<text x="643.70" y="68.50" font-size="5.2" text-anchor="start" fill="#f03030" font-weight="normal" stroke="#f03030" stroke-width="0.12">XAF1</text>
<text x="621.50" y="71.00" font-size="5.2" text-anchor="start" fill="#f03030" font-weight="normal" stroke="#f03030" stroke-width="0.12">TMSB10</text>
<text x="646.90" y="73.80" font-size="5.2" text-anchor="start" fill="#f03030" font-weight="normal" stroke="#f03030" stroke-width="0.12">HCST</text>
<text x="662.80" y="73.80" font-size="5.2" text-anchor="start" fill="#f03030" font-weight="normal" stroke="#f03030" stroke-width="0.12">UBE2E1</text>
<text x="634.80" y="79.70" font-size="5.2" text-anchor="start" fill="#f03030" font-weight="normal" stroke="#f03030" stroke-width="0.12">EIF1B</text>
<text x="597.20" y="78.00" font-size="5.2" text-anchor="start" fill="#f03030" font-weight="normal" stroke="#f03030" stroke-width="0.12">CDK5R</text>
<text x="651.10" y="84.30" font-size="5.2" text-anchor="start" fill="#f03030" font-weight="normal" stroke="#f03030" stroke-width="0.12">DENND4A</text>
<text x="650.50" y="90.10" font-size="5.2" text-anchor="start" fill="#f03030" font-weight="normal" stroke="#f03030" stroke-width="0.12">CLIC4</text>
<text x="633.10" y="97.00" font-size="5.2" text-anchor="start" fill="#f03030" font-weight="normal" stroke="#f03030" stroke-width="0.12">RPL36AL</text>
<text x="657.10" y="99.80" font-size="5.2" text-anchor="start" fill="#f03030" font-weight="normal" stroke="#f03030" stroke-width="0.12">LAP3</text>
<text x="638.40" y="105.10" font-size="5.2" text-anchor="start" fill="#f03030" font-weight="normal" stroke="#f03030" stroke-width="0.12">JUN</text>
<text x="648.00" y="110.40" font-size="5.2" text-anchor="start" fill="#f03030" font-weight="normal" stroke="#f03030" stroke-width="0.12">IFIT2</text>
<text x="661.10" y="108.70" font-size="5.2" text-anchor="start" fill="#f03030" font-weight="normal" stroke="#f03030" stroke-width="0.12">LRMDA</text>
<text x="672.30" y="115.00" font-size="5.2" text-anchor="start" fill="#f03030" font-weight="normal" stroke="#f03030" stroke-width="0.12">TNF</text>
<text x="672.90" y="129.20" font-size="5.2" text-anchor="start" fill="#f03030" font-weight="normal" stroke="#f03030" stroke-width="0.12">ILK</text>
</svg></body></html>
